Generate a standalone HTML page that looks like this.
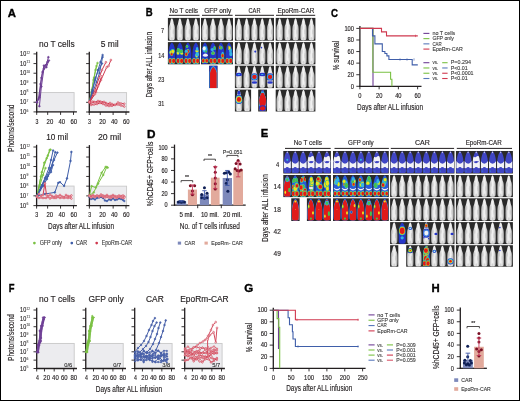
<!DOCTYPE html>
<html><head><meta charset="utf-8"><style>
html,body{margin:0;padding:0;background:#fff;width:520px;height:401px;overflow:hidden;font-family:"Liberation Sans",sans-serif;}
svg{display:block;filter:blur(0.3px);}
</style></head><body>
<svg width="520" height="401" viewBox="0 0 520 401" font-family='"Liberation Sans", sans-serif'><defs><linearGradient id="gm" x1="0" x2="1" y1="0" y2="0"><stop offset="0.08" stop-color="#a8a8a8"/><stop offset="0.25" stop-color="#e2e2e2"/><stop offset="0.5" stop-color="#f2f2f2"/><stop offset="0.75" stop-color="#dedede"/><stop offset="0.92" stop-color="#a4a4a4"/></linearGradient><clipPath id="mc"><path d="M5,0.3 C5.9,0.6 6.6,2.5 7.0,5 C7.2,6.5 7.4,7.5 8.2,9 C8.9,10.5 9.1,13 9.1,16 C9.2,20 9.1,23 8.9,25 C8.6,27.2 7.5,27.7 5,27.7 C2.5,27.7 1.4,27.2 1.1,25 C0.9,23 0.8,20 0.9,16 C0.9,13 1.1,10.5 1.8,9 C2.6,7.5 2.8,6.5 3.0,5 C3.4,2.5 4.1,0.6 5,0.3 Z"/></clipPath><clipPath id="mc2"><path d="M5,0.4 C6.2,0.8 7.2,3 8.0,5.5 C8.8,8 9.3,11 9.4,14 C9.5,18 9.5,22 9.3,25 C9.1,27.2 7.5,27.7 5,27.7 C2.5,27.7 0.9,27.2 0.7,25 C0.5,22 0.5,18 0.6,14 C0.7,11 1.2,8 2.0,5.5 C2.8,3 3.8,0.8 5,0.4 Z"/></clipPath><symbol id="g" viewBox="0 0 10 28" preserveAspectRatio="none"><path d="M5,0.3 C5.9,0.6 6.6,2.5 7.0,5 C7.2,6.5 7.4,7.5 8.2,9 C8.9,10.5 9.1,13 9.1,16 C9.2,20 9.1,23 8.9,25 C8.6,27.2 7.5,27.7 5,27.7 C2.5,27.7 1.4,27.2 1.1,25 C0.9,23 0.8,20 0.9,16 C0.9,13 1.1,10.5 1.8,9 C2.6,7.5 2.8,6.5 3.0,5 C3.4,2.5 4.1,0.6 5,0.3 Z" fill="url(#gm)"/><g clip-path="url(#mc)" fill="#bdbdbd" opacity="0.55"><ellipse cx="3.2" cy="12" rx="0.8" ry="3"/><ellipse cx="6.8" cy="17" rx="0.8" ry="3.5"/><ellipse cx="5" cy="25.5" rx="1" ry="2"/></g></symbol><symbol id="b" viewBox="0 0 10 28" preserveAspectRatio="none"><g clip-path="url(#mc2)"><rect width="10" height="28" fill="#4046c4"/><path d="M0.3,12.0 Q5,19.5 9.7,12.0 L9.7,21 Q5,23.5 0.3,21 Z" fill="#f2f2f6"/><ellipse cx="5" cy="1.5" rx="0.8" ry="1.2" fill="#c8c8e0"/></g><ellipse cx="2.6" cy="24.5" rx="2.4" ry="3.3" fill="#4046c4"/><ellipse cx="7.4" cy="24.5" rx="2.4" ry="3.3" fill="#4046c4"/><ellipse cx="5" cy="21.5" rx="2" ry="1.6" fill="#4046c4"/><circle cx="2.5" cy="25" r="0.8" fill="#33b5e5" opacity="0.6"/></symbol><symbol id="b2" viewBox="0 0 10 28" preserveAspectRatio="none"><g clip-path="url(#mc2)"><rect width="10" height="28" fill="#4046c4"/><path d="M0.3,11.1 Q5,19.5 9.7,11.1 L9.7,21 Q5,23.5 0.3,21 Z" fill="#f2f2f6"/><path d="M0,6 Q3,9 5,7 Q7,5 10,8 L10,14 Q5,11 0,14 Z" fill="#f2f2f6"/><ellipse cx="3" cy="11" rx="1.5" ry="2" fill="#f2f2f6"/><ellipse cx="5" cy="1.5" rx="0.8" ry="1.2" fill="#c8c8e0"/></g><ellipse cx="2.6" cy="24.5" rx="2.4" ry="3.3" fill="#4046c4"/><ellipse cx="7.4" cy="24.5" rx="2.4" ry="3.3" fill="#4046c4"/><ellipse cx="5" cy="21.5" rx="2" ry="1.6" fill="#4046c4"/><circle cx="2.5" cy="25" r="0.8" fill="#33b5e5" opacity="0.6"/></symbol><symbol id="b3" viewBox="0 0 10 28" preserveAspectRatio="none"><g clip-path="url(#mc2)"><rect width="10" height="28" fill="#4046c4"/><path d="M0.3,12.0 Q5,19.5 9.7,12.0 L9.7,21 Q5,23.5 0.3,21 Z" fill="#f2f2f6"/><circle cx="5" cy="11" r="1.3" fill="#33b5e5"/><ellipse cx="5" cy="1.5" rx="0.8" ry="1.2" fill="#c8c8e0"/></g><ellipse cx="2.6" cy="24.5" rx="2.4" ry="3.3" fill="#4046c4"/><ellipse cx="7.4" cy="24.5" rx="2.4" ry="3.3" fill="#4046c4"/><ellipse cx="5" cy="21.5" rx="2" ry="1.6" fill="#4046c4"/><circle cx="2.5" cy="25" r="0.8" fill="#33b5e5" opacity="0.6"/></symbol><symbol id="h0" viewBox="0 0 10 28" preserveAspectRatio="none"><g clip-path="url(#mc2)"><rect width="10" height="28" fill="#2636c8"/><ellipse cx="4.761897767549093" cy="12.956358177287935" rx="3.12" ry="4.00" fill="#33b5e5"/><ellipse cx="4.761897767549093" cy="12.956358177287935" rx="2.81" ry="3.60" fill="#45c04a"/><ellipse cx="4.761897767549093" cy="12.956358177287935" rx="2.50" ry="3.20" fill="#f0e21e"/><ellipse cx="3.423301719274383" cy="12.190538224668888" rx="2.83" ry="4.49" fill="#33b5e5"/><ellipse cx="3.423301719274383" cy="12.190538224668888" rx="2.55" ry="4.04" fill="#45c04a"/><ellipse cx="3.423301719274383" cy="12.190538224668888" rx="2.26" ry="3.59" fill="#f0e21e"/><ellipse cx="4.732965763784992" cy="6.268722068151298" rx="2.74" ry="4.64" fill="#33b5e5"/><ellipse cx="4.732965763784992" cy="6.268722068151298" rx="2.46" ry="4.17" fill="#45c04a"/><ellipse cx="4.732965763784992" cy="6.268722068151298" rx="2.19" ry="3.71" fill="#f0e21e"/><ellipse cx="5.477182529203349" cy="10.338559623331758" rx="2.65" ry="4.41" fill="#33b5e5"/><ellipse cx="5.477182529203349" cy="10.338559623331758" rx="2.39" ry="3.97" fill="#45c04a"/><ellipse cx="5.477182529203349" cy="10.338559623331758" rx="2.12" ry="3.53" fill="#f0e21e"/><ellipse cx="5.615642257593599" cy="17.30722600559965" rx="2.26" ry="3.35" fill="#33b5e5"/><ellipse cx="5.615642257593599" cy="17.30722600559965" rx="2.04" ry="3.02" fill="#45c04a"/><ellipse cx="5.615642257593599" cy="17.30722600559965" rx="1.81" ry="2.68" fill="#f0e21e"/><ellipse cx="2.8" cy="23.8" rx="3.10" ry="4.20" fill="#33b5e5"/><ellipse cx="2.8" cy="23.8" rx="2.79" ry="3.78" fill="#45c04a"/><ellipse cx="2.8" cy="23.8" rx="2.48" ry="3.36" fill="#f0e21e"/><ellipse cx="2.8" cy="23.8" rx="2.17" ry="2.94" fill="#e01a1a"/><ellipse cx="7.2" cy="23.8" rx="3.10" ry="4.20" fill="#33b5e5"/><ellipse cx="7.2" cy="23.8" rx="2.79" ry="3.78" fill="#45c04a"/><ellipse cx="7.2" cy="23.8" rx="2.48" ry="3.36" fill="#f0e21e"/><ellipse cx="7.2" cy="23.8" rx="2.17" ry="2.94" fill="#e01a1a"/></g></symbol><symbol id="h1" viewBox="0 0 10 28" preserveAspectRatio="none"><g clip-path="url(#mc2)"><rect width="10" height="28" fill="#2636c8"/><ellipse cx="5.498090424764253" cy="16.449734504691893" rx="2.53" ry="4.19" fill="#33b5e5"/><ellipse cx="5.498090424764253" cy="16.449734504691893" rx="2.27" ry="3.77" fill="#45c04a"/><ellipse cx="5.498090424764253" cy="16.449734504691893" rx="2.02" ry="3.35" fill="#f0e21e"/><ellipse cx="5.0956205738203835" cy="14.244667326706834" rx="2.70" ry="4.29" fill="#33b5e5"/><ellipse cx="5.0956205738203835" cy="14.244667326706834" rx="2.43" ry="3.86" fill="#45c04a"/><ellipse cx="5.0956205738203835" cy="14.244667326706834" rx="2.16" ry="3.43" fill="#f0e21e"/><ellipse cx="5.0956205738203835" cy="14.244667326706834" rx="1.89" ry="3.01" fill="#e01a1a"/><ellipse cx="5.774008195033778" cy="10.508459806162858" rx="2.75" ry="4.70" fill="#33b5e5"/><ellipse cx="5.774008195033778" cy="10.508459806162858" rx="2.48" ry="4.23" fill="#45c04a"/><ellipse cx="5.774008195033778" cy="10.508459806162858" rx="2.20" ry="3.76" fill="#f0e21e"/><ellipse cx="6.039048107489747" cy="9.044435472248798" rx="2.43" ry="3.73" fill="#33b5e5"/><ellipse cx="6.039048107489747" cy="9.044435472248798" rx="2.19" ry="3.36" fill="#45c04a"/><ellipse cx="6.039048107489747" cy="9.044435472248798" rx="1.94" ry="2.99" fill="#f0e21e"/><ellipse cx="5.315711303289528" cy="5.726830649423576" rx="2.31" ry="3.74" fill="#33b5e5"/><ellipse cx="5.315711303289528" cy="5.726830649423576" rx="2.08" ry="3.36" fill="#45c04a"/><ellipse cx="5.315711303289528" cy="5.726830649423576" rx="1.85" ry="2.99" fill="#f0e21e"/><ellipse cx="2.8" cy="23.8" rx="3.10" ry="4.20" fill="#33b5e5"/><ellipse cx="2.8" cy="23.8" rx="2.79" ry="3.78" fill="#45c04a"/><ellipse cx="2.8" cy="23.8" rx="2.48" ry="3.36" fill="#f0e21e"/><ellipse cx="2.8" cy="23.8" rx="2.17" ry="2.94" fill="#e01a1a"/><ellipse cx="7.2" cy="23.8" rx="3.10" ry="4.20" fill="#33b5e5"/><ellipse cx="7.2" cy="23.8" rx="2.79" ry="3.78" fill="#45c04a"/><ellipse cx="7.2" cy="23.8" rx="2.48" ry="3.36" fill="#f0e21e"/><ellipse cx="7.2" cy="23.8" rx="2.17" ry="2.94" fill="#e01a1a"/></g></symbol><symbol id="h2" viewBox="0 0 10 28" preserveAspectRatio="none"><g clip-path="url(#mc2)"><rect width="10" height="28" fill="#2636c8"/><ellipse cx="7.290211916599068" cy="17.556956372844873" rx="2.20" ry="3.61" fill="#33b5e5"/><ellipse cx="7.290211916599068" cy="17.556956372844873" rx="1.98" ry="3.25" fill="#45c04a"/><ellipse cx="7.290211916599068" cy="17.556956372844873" rx="1.76" ry="2.89" fill="#f0e21e"/><ellipse cx="4.849936380068332" cy="19.685743058788674" rx="2.60" ry="3.41" fill="#33b5e5"/><ellipse cx="4.849936380068332" cy="19.685743058788674" rx="2.34" ry="3.07" fill="#45c04a"/><ellipse cx="4.849936380068332" cy="19.685743058788674" rx="2.08" ry="2.73" fill="#f0e21e"/><ellipse cx="6.392554293383254" cy="8.316409389602283" rx="2.29" ry="3.80" fill="#33b5e5"/><ellipse cx="6.392554293383254" cy="8.316409389602283" rx="2.06" ry="3.42" fill="#45c04a"/><ellipse cx="6.392554293383254" cy="8.316409389602283" rx="1.83" ry="3.04" fill="#f0e21e"/><ellipse cx="6.392554293383254" cy="8.316409389602283" rx="1.60" ry="2.66" fill="#e01a1a"/><ellipse cx="6.290202584968794" cy="5.887866870712813" rx="2.45" ry="3.45" fill="#33b5e5"/><ellipse cx="6.290202584968794" cy="5.887866870712813" rx="2.20" ry="3.11" fill="#45c04a"/><ellipse cx="6.290202584968794" cy="5.887866870712813" rx="1.96" ry="2.76" fill="#f0e21e"/><ellipse cx="4.8246992303811576" cy="11.789172670564428" rx="2.88" ry="3.58" fill="#33b5e5"/><ellipse cx="4.8246992303811576" cy="11.789172670564428" rx="2.59" ry="3.22" fill="#45c04a"/><ellipse cx="4.8246992303811576" cy="11.789172670564428" rx="2.31" ry="2.87" fill="#f0e21e"/><ellipse cx="2.8" cy="23.8" rx="3.10" ry="4.20" fill="#33b5e5"/><ellipse cx="2.8" cy="23.8" rx="2.79" ry="3.78" fill="#45c04a"/><ellipse cx="2.8" cy="23.8" rx="2.48" ry="3.36" fill="#f0e21e"/><ellipse cx="2.8" cy="23.8" rx="2.17" ry="2.94" fill="#e01a1a"/><ellipse cx="7.2" cy="23.8" rx="3.10" ry="4.20" fill="#33b5e5"/><ellipse cx="7.2" cy="23.8" rx="2.79" ry="3.78" fill="#45c04a"/><ellipse cx="7.2" cy="23.8" rx="2.48" ry="3.36" fill="#f0e21e"/><ellipse cx="7.2" cy="23.8" rx="2.17" ry="2.94" fill="#e01a1a"/></g></symbol><symbol id="h3" viewBox="0 0 10 28" preserveAspectRatio="none"><g clip-path="url(#mc2)"><rect width="10" height="28" fill="#2636c8"/><ellipse cx="7.426407029177778" cy="16.31235195767487" rx="2.62" ry="3.88" fill="#33b5e5"/><ellipse cx="7.426407029177778" cy="16.31235195767487" rx="2.36" ry="3.49" fill="#45c04a"/><ellipse cx="7.426407029177778" cy="16.31235195767487" rx="2.10" ry="3.10" fill="#f0e21e"/><ellipse cx="7.426407029177778" cy="16.31235195767487" rx="1.83" ry="2.71" fill="#e01a1a"/><ellipse cx="4.603778086232104" cy="7.405850768145431" rx="2.47" ry="4.76" fill="#33b5e5"/><ellipse cx="4.603778086232104" cy="7.405850768145431" rx="2.22" ry="4.28" fill="#45c04a"/><ellipse cx="4.603778086232104" cy="7.405850768145431" rx="1.98" ry="3.81" fill="#f0e21e"/><ellipse cx="4.603778086232104" cy="7.405850768145431" rx="1.73" ry="3.33" fill="#e01a1a"/><ellipse cx="7.489518593432944" cy="4.314091349924828" rx="2.39" ry="4.79" fill="#33b5e5"/><ellipse cx="7.489518593432944" cy="4.314091349924828" rx="2.15" ry="4.31" fill="#45c04a"/><ellipse cx="7.489518593432944" cy="4.314091349924828" rx="1.91" ry="3.84" fill="#f0e21e"/><ellipse cx="2.7105391021557783" cy="6.341737653403683" rx="2.64" ry="3.31" fill="#33b5e5"/><ellipse cx="2.7105391021557783" cy="6.341737653403683" rx="2.38" ry="2.98" fill="#45c04a"/><ellipse cx="2.7105391021557783" cy="6.341737653403683" rx="2.11" ry="2.65" fill="#f0e21e"/><ellipse cx="2.7105391021557783" cy="6.341737653403683" rx="1.85" ry="2.32" fill="#e01a1a"/><ellipse cx="6.651447389137922" cy="10.178719290900057" rx="2.27" ry="3.61" fill="#33b5e5"/><ellipse cx="6.651447389137922" cy="10.178719290900057" rx="2.05" ry="3.25" fill="#45c04a"/><ellipse cx="6.651447389137922" cy="10.178719290900057" rx="1.82" ry="2.89" fill="#f0e21e"/><ellipse cx="2.8" cy="23.8" rx="3.10" ry="4.20" fill="#33b5e5"/><ellipse cx="2.8" cy="23.8" rx="2.79" ry="3.78" fill="#45c04a"/><ellipse cx="2.8" cy="23.8" rx="2.48" ry="3.36" fill="#f0e21e"/><ellipse cx="2.8" cy="23.8" rx="2.17" ry="2.94" fill="#e01a1a"/><ellipse cx="7.2" cy="23.8" rx="3.10" ry="4.20" fill="#33b5e5"/><ellipse cx="7.2" cy="23.8" rx="2.79" ry="3.78" fill="#45c04a"/><ellipse cx="7.2" cy="23.8" rx="2.48" ry="3.36" fill="#f0e21e"/><ellipse cx="7.2" cy="23.8" rx="2.17" ry="2.94" fill="#e01a1a"/></g></symbol><symbol id="h4" viewBox="0 0 10 28" preserveAspectRatio="none"><g clip-path="url(#mc2)"><rect width="10" height="28" fill="#2636c8"/><ellipse cx="2.5775453672291277" cy="9.898803278410917" rx="2.82" ry="3.49" fill="#33b5e5"/><ellipse cx="2.5775453672291277" cy="9.898803278410917" rx="2.54" ry="3.14" fill="#45c04a"/><ellipse cx="2.5775453672291277" cy="9.898803278410917" rx="2.26" ry="2.79" fill="#f0e21e"/><ellipse cx="2.5775453672291277" cy="9.898803278410917" rx="1.98" ry="2.44" fill="#e01a1a"/><ellipse cx="6.661796144193829" cy="6.1718072732121545" rx="2.59" ry="4.24" fill="#33b5e5"/><ellipse cx="6.661796144193829" cy="6.1718072732121545" rx="2.33" ry="3.82" fill="#45c04a"/><ellipse cx="6.661796144193829" cy="6.1718072732121545" rx="2.07" ry="3.39" fill="#f0e21e"/><ellipse cx="6.661796144193829" cy="6.1718072732121545" rx="1.81" ry="2.97" fill="#e01a1a"/><ellipse cx="7.042118654712414" cy="17.084831191354372" rx="2.45" ry="3.58" fill="#33b5e5"/><ellipse cx="7.042118654712414" cy="17.084831191354372" rx="2.20" ry="3.23" fill="#45c04a"/><ellipse cx="7.042118654712414" cy="17.084831191354372" rx="1.96" ry="2.87" fill="#f0e21e"/><ellipse cx="5.9348700176975075" cy="10.211359010003775" rx="2.68" ry="3.42" fill="#33b5e5"/><ellipse cx="5.9348700176975075" cy="10.211359010003775" rx="2.41" ry="3.08" fill="#45c04a"/><ellipse cx="5.9348700176975075" cy="10.211359010003775" rx="2.15" ry="2.73" fill="#f0e21e"/><ellipse cx="3.0191984068247404" cy="4.619143547100522" rx="3.16" ry="3.66" fill="#33b5e5"/><ellipse cx="3.0191984068247404" cy="4.619143547100522" rx="2.85" ry="3.29" fill="#45c04a"/><ellipse cx="3.0191984068247404" cy="4.619143547100522" rx="2.53" ry="2.93" fill="#f0e21e"/><ellipse cx="3.0191984068247404" cy="4.619143547100522" rx="2.21" ry="2.56" fill="#e01a1a"/><ellipse cx="2.8" cy="23.8" rx="3.10" ry="4.20" fill="#33b5e5"/><ellipse cx="2.8" cy="23.8" rx="2.79" ry="3.78" fill="#45c04a"/><ellipse cx="2.8" cy="23.8" rx="2.48" ry="3.36" fill="#f0e21e"/><ellipse cx="2.8" cy="23.8" rx="2.17" ry="2.94" fill="#e01a1a"/><ellipse cx="7.2" cy="23.8" rx="3.10" ry="4.20" fill="#33b5e5"/><ellipse cx="7.2" cy="23.8" rx="2.79" ry="3.78" fill="#45c04a"/><ellipse cx="7.2" cy="23.8" rx="2.48" ry="3.36" fill="#f0e21e"/><ellipse cx="7.2" cy="23.8" rx="2.17" ry="2.94" fill="#e01a1a"/></g></symbol><symbol id="h5" viewBox="0 0 10 28" preserveAspectRatio="none"><g clip-path="url(#mc2)"><rect width="10" height="28" fill="#2636c8"/><ellipse cx="3.78490699160156" cy="17.179485548117643" rx="2.80" ry="3.74" fill="#33b5e5"/><ellipse cx="3.78490699160156" cy="17.179485548117643" rx="2.52" ry="3.37" fill="#45c04a"/><ellipse cx="3.78490699160156" cy="17.179485548117643" rx="2.24" ry="2.99" fill="#f0e21e"/><ellipse cx="7.146180932236959" cy="19.63485146388723" rx="2.33" ry="4.02" fill="#33b5e5"/><ellipse cx="7.146180932236959" cy="19.63485146388723" rx="2.09" ry="3.62" fill="#45c04a"/><ellipse cx="7.146180932236959" cy="19.63485146388723" rx="1.86" ry="3.22" fill="#f0e21e"/><ellipse cx="3.9010969628542753" cy="18.677762855881202" rx="2.40" ry="3.32" fill="#33b5e5"/><ellipse cx="3.9010969628542753" cy="18.677762855881202" rx="2.16" ry="2.99" fill="#45c04a"/><ellipse cx="3.9010969628542753" cy="18.677762855881202" rx="1.92" ry="2.66" fill="#f0e21e"/><ellipse cx="3.9010969628542753" cy="18.677762855881202" rx="1.68" ry="2.33" fill="#e01a1a"/><ellipse cx="4.557132812056896" cy="7.985024459416339" rx="2.25" ry="3.72" fill="#33b5e5"/><ellipse cx="4.557132812056896" cy="7.985024459416339" rx="2.02" ry="3.35" fill="#45c04a"/><ellipse cx="4.557132812056896" cy="7.985024459416339" rx="1.80" ry="2.98" fill="#f0e21e"/><ellipse cx="2.9609606177413896" cy="6.214532958381202" rx="2.65" ry="3.80" fill="#33b5e5"/><ellipse cx="2.9609606177413896" cy="6.214532958381202" rx="2.39" ry="3.42" fill="#45c04a"/><ellipse cx="2.9609606177413896" cy="6.214532958381202" rx="2.12" ry="3.04" fill="#f0e21e"/><ellipse cx="2.8" cy="23.8" rx="3.10" ry="4.20" fill="#33b5e5"/><ellipse cx="2.8" cy="23.8" rx="2.79" ry="3.78" fill="#45c04a"/><ellipse cx="2.8" cy="23.8" rx="2.48" ry="3.36" fill="#f0e21e"/><ellipse cx="2.8" cy="23.8" rx="2.17" ry="2.94" fill="#e01a1a"/><ellipse cx="7.2" cy="23.8" rx="3.10" ry="4.20" fill="#33b5e5"/><ellipse cx="7.2" cy="23.8" rx="2.79" ry="3.78" fill="#45c04a"/><ellipse cx="7.2" cy="23.8" rx="2.48" ry="3.36" fill="#f0e21e"/><ellipse cx="7.2" cy="23.8" rx="2.17" ry="2.94" fill="#e01a1a"/></g></symbol><symbol id="h6" viewBox="0 0 10 28" preserveAspectRatio="none"><g clip-path="url(#mc2)"><rect width="10" height="28" fill="#2636c8"/><ellipse cx="5.449378156478723" cy="18.777397873150612" rx="2.67" ry="3.84" fill="#33b5e5"/><ellipse cx="5.449378156478723" cy="18.777397873150612" rx="2.41" ry="3.45" fill="#45c04a"/><ellipse cx="5.449378156478723" cy="18.777397873150612" rx="2.14" ry="3.07" fill="#f0e21e"/><ellipse cx="5.449378156478723" cy="18.777397873150612" rx="1.87" ry="2.69" fill="#e01a1a"/><ellipse cx="7.313855068145016" cy="4.340146851345622" rx="2.84" ry="4.02" fill="#33b5e5"/><ellipse cx="7.313855068145016" cy="4.340146851345622" rx="2.55" ry="3.62" fill="#45c04a"/><ellipse cx="7.313855068145016" cy="4.340146851345622" rx="2.27" ry="3.22" fill="#f0e21e"/><ellipse cx="7.313855068145016" cy="4.340146851345622" rx="1.99" ry="2.82" fill="#e01a1a"/><ellipse cx="4.094522451482929" cy="19.989722022108083" rx="2.28" ry="4.12" fill="#33b5e5"/><ellipse cx="4.094522451482929" cy="19.989722022108083" rx="2.05" ry="3.71" fill="#45c04a"/><ellipse cx="4.094522451482929" cy="19.989722022108083" rx="1.82" ry="3.30" fill="#f0e21e"/><ellipse cx="7.000979406246895" cy="15.79341015066496" rx="2.90" ry="4.49" fill="#33b5e5"/><ellipse cx="7.000979406246895" cy="15.79341015066496" rx="2.61" ry="4.04" fill="#45c04a"/><ellipse cx="7.000979406246895" cy="15.79341015066496" rx="2.32" ry="3.59" fill="#f0e21e"/><ellipse cx="7.000979406246895" cy="15.79341015066496" rx="2.03" ry="3.14" fill="#e01a1a"/><ellipse cx="4.259170483236269" cy="14.962335285339169" rx="3.10" ry="4.61" fill="#33b5e5"/><ellipse cx="4.259170483236269" cy="14.962335285339169" rx="2.79" ry="4.15" fill="#45c04a"/><ellipse cx="4.259170483236269" cy="14.962335285339169" rx="2.48" ry="3.69" fill="#f0e21e"/><ellipse cx="4.259170483236269" cy="14.962335285339169" rx="2.17" ry="3.22" fill="#e01a1a"/><ellipse cx="2.8" cy="23.8" rx="3.10" ry="4.20" fill="#33b5e5"/><ellipse cx="2.8" cy="23.8" rx="2.79" ry="3.78" fill="#45c04a"/><ellipse cx="2.8" cy="23.8" rx="2.48" ry="3.36" fill="#f0e21e"/><ellipse cx="2.8" cy="23.8" rx="2.17" ry="2.94" fill="#e01a1a"/><ellipse cx="7.2" cy="23.8" rx="3.10" ry="4.20" fill="#33b5e5"/><ellipse cx="7.2" cy="23.8" rx="2.79" ry="3.78" fill="#45c04a"/><ellipse cx="7.2" cy="23.8" rx="2.48" ry="3.36" fill="#f0e21e"/><ellipse cx="7.2" cy="23.8" rx="2.17" ry="2.94" fill="#e01a1a"/></g></symbol><symbol id="h7" viewBox="0 0 10 28" preserveAspectRatio="none"><g clip-path="url(#mc2)"><rect width="10" height="28" fill="#2636c8"/><ellipse cx="7.221196733062416" cy="4.484314544614872" rx="2.70" ry="3.32" fill="#33b5e5"/><ellipse cx="7.221196733062416" cy="4.484314544614872" rx="2.43" ry="2.99" fill="#45c04a"/><ellipse cx="7.221196733062416" cy="4.484314544614872" rx="2.16" ry="2.66" fill="#f0e21e"/><ellipse cx="7.221196733062416" cy="4.484314544614872" rx="1.89" ry="2.33" fill="#e01a1a"/><ellipse cx="4.395882099221605" cy="4.199154807194102" rx="2.27" ry="3.44" fill="#33b5e5"/><ellipse cx="4.395882099221605" cy="4.199154807194102" rx="2.05" ry="3.09" fill="#45c04a"/><ellipse cx="4.395882099221605" cy="4.199154807194102" rx="1.82" ry="2.75" fill="#f0e21e"/><ellipse cx="7.466610940441611" cy="18.07666926577643" rx="2.93" ry="3.88" fill="#33b5e5"/><ellipse cx="7.466610940441611" cy="18.07666926577643" rx="2.64" ry="3.49" fill="#45c04a"/><ellipse cx="7.466610940441611" cy="18.07666926577643" rx="2.34" ry="3.11" fill="#f0e21e"/><ellipse cx="7.466610940441611" cy="18.07666926577643" rx="2.05" ry="2.72" fill="#e01a1a"/><ellipse cx="4.702612476893597" cy="17.413920467049103" rx="2.28" ry="4.43" fill="#33b5e5"/><ellipse cx="4.702612476893597" cy="17.413920467049103" rx="2.06" ry="3.98" fill="#45c04a"/><ellipse cx="4.702612476893597" cy="17.413920467049103" rx="1.83" ry="3.54" fill="#f0e21e"/><ellipse cx="4.051174953627783" cy="5.403715906257249" rx="2.22" ry="4.74" fill="#33b5e5"/><ellipse cx="4.051174953627783" cy="5.403715906257249" rx="2.00" ry="4.26" fill="#45c04a"/><ellipse cx="4.051174953627783" cy="5.403715906257249" rx="1.78" ry="3.79" fill="#f0e21e"/><ellipse cx="2.8" cy="23.8" rx="3.10" ry="4.20" fill="#33b5e5"/><ellipse cx="2.8" cy="23.8" rx="2.79" ry="3.78" fill="#45c04a"/><ellipse cx="2.8" cy="23.8" rx="2.48" ry="3.36" fill="#f0e21e"/><ellipse cx="2.8" cy="23.8" rx="2.17" ry="2.94" fill="#e01a1a"/><ellipse cx="7.2" cy="23.8" rx="3.10" ry="4.20" fill="#33b5e5"/><ellipse cx="7.2" cy="23.8" rx="2.79" ry="3.78" fill="#45c04a"/><ellipse cx="7.2" cy="23.8" rx="2.48" ry="3.36" fill="#f0e21e"/><ellipse cx="7.2" cy="23.8" rx="2.17" ry="2.94" fill="#e01a1a"/></g></symbol><symbol id="hh0" viewBox="0 0 10 28" preserveAspectRatio="none"><g clip-path="url(#mc2)"><rect width="10" height="28" fill="#2636c8"/><ellipse cx="4.986252888290068" cy="13.832052190319487" rx="3.72" ry="4.58" fill="#33b5e5"/><ellipse cx="4.986252888290068" cy="13.832052190319487" rx="3.35" ry="4.13" fill="#45c04a"/><ellipse cx="4.986252888290068" cy="13.832052190319487" rx="2.98" ry="3.67" fill="#f0e21e"/><ellipse cx="4.986252888290068" cy="13.832052190319487" rx="2.60" ry="3.21" fill="#e01a1a"/><ellipse cx="4.339756753334129" cy="6.291526040808794" rx="3.41" ry="4.98" fill="#33b5e5"/><ellipse cx="4.339756753334129" cy="6.291526040808794" rx="3.07" ry="4.48" fill="#45c04a"/><ellipse cx="4.339756753334129" cy="6.291526040808794" rx="2.73" ry="3.98" fill="#f0e21e"/><ellipse cx="4.339756753334129" cy="6.291526040808794" rx="2.39" ry="3.48" fill="#e01a1a"/><ellipse cx="5.79995002337923" cy="11.070919692314986" rx="3.69" ry="4.69" fill="#33b5e5"/><ellipse cx="5.79995002337923" cy="11.070919692314986" rx="3.32" ry="4.22" fill="#45c04a"/><ellipse cx="5.79995002337923" cy="11.070919692314986" rx="2.95" ry="3.75" fill="#f0e21e"/><ellipse cx="5.79995002337923" cy="11.070919692314986" rx="2.58" ry="3.28" fill="#e01a1a"/><ellipse cx="3.49252889432658" cy="10.894324517692771" rx="3.61" ry="5.57" fill="#33b5e5"/><ellipse cx="3.49252889432658" cy="10.894324517692771" rx="3.25" ry="5.01" fill="#45c04a"/><ellipse cx="3.49252889432658" cy="10.894324517692771" rx="2.88" ry="4.46" fill="#f0e21e"/><ellipse cx="3.49252889432658" cy="10.894324517692771" rx="2.52" ry="3.90" fill="#e01a1a"/><ellipse cx="4.422093414499515" cy="13.329715004063058" rx="3.12" ry="4.40" fill="#33b5e5"/><ellipse cx="4.422093414499515" cy="13.329715004063058" rx="2.80" ry="3.96" fill="#45c04a"/><ellipse cx="4.422093414499515" cy="13.329715004063058" rx="2.49" ry="3.52" fill="#f0e21e"/><ellipse cx="4.422093414499515" cy="13.329715004063058" rx="2.18" ry="3.08" fill="#e01a1a"/><ellipse cx="4.253725701462313" cy="18.330446582880057" rx="2.84" ry="4.30" fill="#33b5e5"/><ellipse cx="4.253725701462313" cy="18.330446582880057" rx="2.56" ry="3.87" fill="#45c04a"/><ellipse cx="4.253725701462313" cy="18.330446582880057" rx="2.27" ry="3.44" fill="#f0e21e"/><ellipse cx="4.253725701462313" cy="18.330446582880057" rx="1.99" ry="3.01" fill="#e01a1a"/><ellipse cx="2.8" cy="23.8" rx="3.10" ry="4.20" fill="#33b5e5"/><ellipse cx="2.8" cy="23.8" rx="2.79" ry="3.78" fill="#45c04a"/><ellipse cx="2.8" cy="23.8" rx="2.48" ry="3.36" fill="#f0e21e"/><ellipse cx="2.8" cy="23.8" rx="2.17" ry="2.94" fill="#e01a1a"/><ellipse cx="7.2" cy="23.8" rx="3.10" ry="4.20" fill="#33b5e5"/><ellipse cx="7.2" cy="23.8" rx="2.79" ry="3.78" fill="#45c04a"/><ellipse cx="7.2" cy="23.8" rx="2.48" ry="3.36" fill="#f0e21e"/><ellipse cx="7.2" cy="23.8" rx="2.17" ry="2.94" fill="#e01a1a"/></g></symbol><symbol id="hh1" viewBox="0 0 10 28" preserveAspectRatio="none"><g clip-path="url(#mc2)"><rect width="10" height="28" fill="#2636c8"/><ellipse cx="6.6092881250802025" cy="5.805270010310345" rx="3.27" ry="5.59" fill="#33b5e5"/><ellipse cx="6.6092881250802025" cy="5.805270010310345" rx="2.94" ry="5.03" fill="#45c04a"/><ellipse cx="6.6092881250802025" cy="5.805270010310345" rx="2.62" ry="4.47" fill="#f0e21e"/><ellipse cx="6.6092881250802025" cy="5.805270010310345" rx="2.29" ry="3.91" fill="#e01a1a"/><ellipse cx="4.412740529542177" cy="12.319605051741046" rx="3.47" ry="5.27" fill="#33b5e5"/><ellipse cx="4.412740529542177" cy="12.319605051741046" rx="3.12" ry="4.75" fill="#45c04a"/><ellipse cx="4.412740529542177" cy="12.319605051741046" rx="2.78" ry="4.22" fill="#f0e21e"/><ellipse cx="4.412740529542177" cy="12.319605051741046" rx="2.43" ry="3.69" fill="#e01a1a"/><ellipse cx="4.101731072168023" cy="17.259637717185708" rx="3.08" ry="5.11" fill="#33b5e5"/><ellipse cx="4.101731072168023" cy="17.259637717185708" rx="2.77" ry="4.60" fill="#45c04a"/><ellipse cx="4.101731072168023" cy="17.259637717185708" rx="2.46" ry="4.09" fill="#f0e21e"/><ellipse cx="4.101731072168023" cy="17.259637717185708" rx="2.15" ry="3.58" fill="#e01a1a"/><ellipse cx="5.352909801684868" cy="8.944485622559352" rx="3.59" ry="4.23" fill="#33b5e5"/><ellipse cx="5.352909801684868" cy="8.944485622559352" rx="3.23" ry="3.81" fill="#45c04a"/><ellipse cx="5.352909801684868" cy="8.944485622559352" rx="2.87" ry="3.38" fill="#f0e21e"/><ellipse cx="5.352909801684868" cy="8.944485622559352" rx="2.51" ry="2.96" fill="#e01a1a"/><ellipse cx="4.525945278064624" cy="7.03869581517297" rx="3.57" ry="4.60" fill="#33b5e5"/><ellipse cx="4.525945278064624" cy="7.03869581517297" rx="3.21" ry="4.14" fill="#45c04a"/><ellipse cx="4.525945278064624" cy="7.03869581517297" rx="2.86" ry="3.68" fill="#f0e21e"/><ellipse cx="4.525945278064624" cy="7.03869581517297" rx="2.50" ry="3.22" fill="#e01a1a"/><ellipse cx="6.484236569961256" cy="19.744201854369678" rx="2.92" ry="4.36" fill="#33b5e5"/><ellipse cx="6.484236569961256" cy="19.744201854369678" rx="2.62" ry="3.93" fill="#45c04a"/><ellipse cx="6.484236569961256" cy="19.744201854369678" rx="2.33" ry="3.49" fill="#f0e21e"/><ellipse cx="6.484236569961256" cy="19.744201854369678" rx="2.04" ry="3.05" fill="#e01a1a"/><ellipse cx="2.8" cy="23.8" rx="3.10" ry="4.20" fill="#33b5e5"/><ellipse cx="2.8" cy="23.8" rx="2.79" ry="3.78" fill="#45c04a"/><ellipse cx="2.8" cy="23.8" rx="2.48" ry="3.36" fill="#f0e21e"/><ellipse cx="2.8" cy="23.8" rx="2.17" ry="2.94" fill="#e01a1a"/><ellipse cx="7.2" cy="23.8" rx="3.10" ry="4.20" fill="#33b5e5"/><ellipse cx="7.2" cy="23.8" rx="2.79" ry="3.78" fill="#45c04a"/><ellipse cx="7.2" cy="23.8" rx="2.48" ry="3.36" fill="#f0e21e"/><ellipse cx="7.2" cy="23.8" rx="2.17" ry="2.94" fill="#e01a1a"/></g></symbol><symbol id="hh2" viewBox="0 0 10 28" preserveAspectRatio="none"><g clip-path="url(#mc2)"><rect width="10" height="28" fill="#2636c8"/><ellipse cx="7.292303259595051" cy="14.951883935695925" rx="3.00" ry="4.91" fill="#33b5e5"/><ellipse cx="7.292303259595051" cy="14.951883935695925" rx="2.70" ry="4.42" fill="#45c04a"/><ellipse cx="7.292303259595051" cy="14.951883935695925" rx="2.40" ry="3.93" fill="#f0e21e"/><ellipse cx="7.292303259595051" cy="14.951883935695925" rx="2.10" ry="3.44" fill="#e01a1a"/><ellipse cx="6.07111457775409" cy="16.08081537153715" rx="3.33" ry="4.25" fill="#33b5e5"/><ellipse cx="6.07111457775409" cy="16.08081537153715" rx="3.00" ry="3.83" fill="#45c04a"/><ellipse cx="6.07111457775409" cy="16.08081537153715" rx="2.67" ry="3.40" fill="#f0e21e"/><ellipse cx="6.07111457775409" cy="16.08081537153715" rx="2.33" ry="2.98" fill="#e01a1a"/><ellipse cx="3.861774682200844" cy="9.531832520924702" rx="3.50" ry="4.98" fill="#33b5e5"/><ellipse cx="3.861774682200844" cy="9.531832520924702" rx="3.15" ry="4.48" fill="#45c04a"/><ellipse cx="3.861774682200844" cy="9.531832520924702" rx="2.80" ry="3.98" fill="#f0e21e"/><ellipse cx="3.861774682200844" cy="9.531832520924702" rx="2.45" ry="3.49" fill="#e01a1a"/><ellipse cx="4.467581057874926" cy="16.670915806268553" rx="3.71" ry="4.33" fill="#33b5e5"/><ellipse cx="4.467581057874926" cy="16.670915806268553" rx="3.34" ry="3.90" fill="#45c04a"/><ellipse cx="4.467581057874926" cy="16.670915806268553" rx="2.96" ry="3.46" fill="#f0e21e"/><ellipse cx="4.467581057874926" cy="16.670915806268553" rx="2.59" ry="3.03" fill="#e01a1a"/><ellipse cx="3.1495496053436" cy="11.256578468904104" rx="3.43" ry="5.56" fill="#33b5e5"/><ellipse cx="3.1495496053436" cy="11.256578468904104" rx="3.08" ry="5.01" fill="#45c04a"/><ellipse cx="3.1495496053436" cy="11.256578468904104" rx="2.74" ry="4.45" fill="#f0e21e"/><ellipse cx="3.1495496053436" cy="11.256578468904104" rx="2.40" ry="3.90" fill="#e01a1a"/><ellipse cx="5.250065347880648" cy="14.442780480303862" rx="3.30" ry="5.43" fill="#33b5e5"/><ellipse cx="5.250065347880648" cy="14.442780480303862" rx="2.97" ry="4.89" fill="#45c04a"/><ellipse cx="5.250065347880648" cy="14.442780480303862" rx="2.64" ry="4.34" fill="#f0e21e"/><ellipse cx="5.250065347880648" cy="14.442780480303862" rx="2.31" ry="3.80" fill="#e01a1a"/><ellipse cx="2.8" cy="23.8" rx="3.10" ry="4.20" fill="#33b5e5"/><ellipse cx="2.8" cy="23.8" rx="2.79" ry="3.78" fill="#45c04a"/><ellipse cx="2.8" cy="23.8" rx="2.48" ry="3.36" fill="#f0e21e"/><ellipse cx="2.8" cy="23.8" rx="2.17" ry="2.94" fill="#e01a1a"/><ellipse cx="7.2" cy="23.8" rx="3.10" ry="4.20" fill="#33b5e5"/><ellipse cx="7.2" cy="23.8" rx="2.79" ry="3.78" fill="#45c04a"/><ellipse cx="7.2" cy="23.8" rx="2.48" ry="3.36" fill="#f0e21e"/><ellipse cx="7.2" cy="23.8" rx="2.17" ry="2.94" fill="#e01a1a"/></g></symbol><symbol id="hh3" viewBox="0 0 10 28" preserveAspectRatio="none"><g clip-path="url(#mc2)"><rect width="10" height="28" fill="#2636c8"/><ellipse cx="4.818538663032177" cy="14.42116105345891" rx="3.00" ry="5.28" fill="#33b5e5"/><ellipse cx="4.818538663032177" cy="14.42116105345891" rx="2.70" ry="4.75" fill="#45c04a"/><ellipse cx="4.818538663032177" cy="14.42116105345891" rx="2.40" ry="4.23" fill="#f0e21e"/><ellipse cx="4.818538663032177" cy="14.42116105345891" rx="2.10" ry="3.70" fill="#e01a1a"/><ellipse cx="3.566482895698096" cy="18.399739788797206" rx="3.78" ry="5.67" fill="#33b5e5"/><ellipse cx="3.566482895698096" cy="18.399739788797206" rx="3.40" ry="5.10" fill="#45c04a"/><ellipse cx="3.566482895698096" cy="18.399739788797206" rx="3.02" ry="4.53" fill="#f0e21e"/><ellipse cx="3.566482895698096" cy="18.399739788797206" rx="2.65" ry="3.97" fill="#e01a1a"/><ellipse cx="3.809415769204114" cy="15.492291552517827" rx="2.82" ry="4.96" fill="#33b5e5"/><ellipse cx="3.809415769204114" cy="15.492291552517827" rx="2.53" ry="4.46" fill="#45c04a"/><ellipse cx="3.809415769204114" cy="15.492291552517827" rx="2.25" ry="3.97" fill="#f0e21e"/><ellipse cx="3.809415769204114" cy="15.492291552517827" rx="1.97" ry="3.47" fill="#e01a1a"/><ellipse cx="4.704505962954986" cy="12.804830839802866" rx="3.57" ry="4.93" fill="#33b5e5"/><ellipse cx="4.704505962954986" cy="12.804830839802866" rx="3.21" ry="4.44" fill="#45c04a"/><ellipse cx="4.704505962954986" cy="12.804830839802866" rx="2.85" ry="3.94" fill="#f0e21e"/><ellipse cx="4.704505962954986" cy="12.804830839802866" rx="2.50" ry="3.45" fill="#e01a1a"/><ellipse cx="3.5914726111717576" cy="17.880783088690862" rx="3.23" ry="4.25" fill="#33b5e5"/><ellipse cx="3.5914726111717576" cy="17.880783088690862" rx="2.91" ry="3.83" fill="#45c04a"/><ellipse cx="3.5914726111717576" cy="17.880783088690862" rx="2.58" ry="3.40" fill="#f0e21e"/><ellipse cx="3.5914726111717576" cy="17.880783088690862" rx="2.26" ry="2.98" fill="#e01a1a"/><ellipse cx="5.9329172517324205" cy="18.656115548670314" rx="3.27" ry="5.70" fill="#33b5e5"/><ellipse cx="5.9329172517324205" cy="18.656115548670314" rx="2.94" ry="5.13" fill="#45c04a"/><ellipse cx="5.9329172517324205" cy="18.656115548670314" rx="2.62" ry="4.56" fill="#f0e21e"/><ellipse cx="5.9329172517324205" cy="18.656115548670314" rx="2.29" ry="3.99" fill="#e01a1a"/><ellipse cx="2.8" cy="23.8" rx="3.10" ry="4.20" fill="#33b5e5"/><ellipse cx="2.8" cy="23.8" rx="2.79" ry="3.78" fill="#45c04a"/><ellipse cx="2.8" cy="23.8" rx="2.48" ry="3.36" fill="#f0e21e"/><ellipse cx="2.8" cy="23.8" rx="2.17" ry="2.94" fill="#e01a1a"/><ellipse cx="7.2" cy="23.8" rx="3.10" ry="4.20" fill="#33b5e5"/><ellipse cx="7.2" cy="23.8" rx="2.79" ry="3.78" fill="#45c04a"/><ellipse cx="7.2" cy="23.8" rx="2.48" ry="3.36" fill="#f0e21e"/><ellipse cx="7.2" cy="23.8" rx="2.17" ry="2.94" fill="#e01a1a"/></g></symbol><symbol id="hh4" viewBox="0 0 10 28" preserveAspectRatio="none"><g clip-path="url(#mc2)"><rect width="10" height="28" fill="#2636c8"/><ellipse cx="7.228736984727485" cy="11.88130075680627" rx="3.75" ry="4.33" fill="#33b5e5"/><ellipse cx="7.228736984727485" cy="11.88130075680627" rx="3.37" ry="3.90" fill="#45c04a"/><ellipse cx="7.228736984727485" cy="11.88130075680627" rx="3.00" ry="3.46" fill="#f0e21e"/><ellipse cx="7.228736984727485" cy="11.88130075680627" rx="2.62" ry="3.03" fill="#e01a1a"/><ellipse cx="4.69711048627881" cy="12.940399562140664" rx="3.63" ry="5.04" fill="#33b5e5"/><ellipse cx="4.69711048627881" cy="12.940399562140664" rx="3.27" ry="4.54" fill="#45c04a"/><ellipse cx="4.69711048627881" cy="12.940399562140664" rx="2.90" ry="4.03" fill="#f0e21e"/><ellipse cx="4.69711048627881" cy="12.940399562140664" rx="2.54" ry="3.53" fill="#e01a1a"/><ellipse cx="5.113913622283004" cy="17.497974384690764" rx="3.36" ry="4.67" fill="#33b5e5"/><ellipse cx="5.113913622283004" cy="17.497974384690764" rx="3.02" ry="4.20" fill="#45c04a"/><ellipse cx="5.113913622283004" cy="17.497974384690764" rx="2.69" ry="3.73" fill="#f0e21e"/><ellipse cx="5.113913622283004" cy="17.497974384690764" rx="2.35" ry="3.27" fill="#e01a1a"/><ellipse cx="7.273922854857913" cy="17.921117889943723" rx="3.41" ry="4.66" fill="#33b5e5"/><ellipse cx="7.273922854857913" cy="17.921117889943723" rx="3.07" ry="4.19" fill="#45c04a"/><ellipse cx="7.273922854857913" cy="17.921117889943723" rx="2.73" ry="3.73" fill="#f0e21e"/><ellipse cx="7.273922854857913" cy="17.921117889943723" rx="2.39" ry="3.26" fill="#e01a1a"/><ellipse cx="7.342201826896966" cy="12.387615117187787" rx="3.37" ry="4.50" fill="#33b5e5"/><ellipse cx="7.342201826896966" cy="12.387615117187787" rx="3.04" ry="4.05" fill="#45c04a"/><ellipse cx="7.342201826896966" cy="12.387615117187787" rx="2.70" ry="3.60" fill="#f0e21e"/><ellipse cx="7.342201826896966" cy="12.387615117187787" rx="2.36" ry="3.15" fill="#e01a1a"/><ellipse cx="5.015870519166283" cy="13.683643982056404" rx="2.83" ry="5.65" fill="#33b5e5"/><ellipse cx="5.015870519166283" cy="13.683643982056404" rx="2.54" ry="5.09" fill="#45c04a"/><ellipse cx="5.015870519166283" cy="13.683643982056404" rx="2.26" ry="4.52" fill="#f0e21e"/><ellipse cx="5.015870519166283" cy="13.683643982056404" rx="1.98" ry="3.96" fill="#e01a1a"/><ellipse cx="2.8" cy="23.8" rx="3.10" ry="4.20" fill="#33b5e5"/><ellipse cx="2.8" cy="23.8" rx="2.79" ry="3.78" fill="#45c04a"/><ellipse cx="2.8" cy="23.8" rx="2.48" ry="3.36" fill="#f0e21e"/><ellipse cx="2.8" cy="23.8" rx="2.17" ry="2.94" fill="#e01a1a"/><ellipse cx="7.2" cy="23.8" rx="3.10" ry="4.20" fill="#33b5e5"/><ellipse cx="7.2" cy="23.8" rx="2.79" ry="3.78" fill="#45c04a"/><ellipse cx="7.2" cy="23.8" rx="2.48" ry="3.36" fill="#f0e21e"/><ellipse cx="7.2" cy="23.8" rx="2.17" ry="2.94" fill="#e01a1a"/></g></symbol><symbol id="hh5" viewBox="0 0 10 28" preserveAspectRatio="none"><g clip-path="url(#mc2)"><rect width="10" height="28" fill="#2636c8"/><ellipse cx="5.219983749131432" cy="19.830425925596558" rx="2.92" ry="4.34" fill="#33b5e5"/><ellipse cx="5.219983749131432" cy="19.830425925596558" rx="2.63" ry="3.91" fill="#45c04a"/><ellipse cx="5.219983749131432" cy="19.830425925596558" rx="2.34" ry="3.47" fill="#f0e21e"/><ellipse cx="5.219983749131432" cy="19.830425925596558" rx="2.05" ry="3.04" fill="#e01a1a"/><ellipse cx="2.829501142011055" cy="12.619447047583442" rx="3.21" ry="5.64" fill="#33b5e5"/><ellipse cx="2.829501142011055" cy="12.619447047583442" rx="2.89" ry="5.07" fill="#45c04a"/><ellipse cx="2.829501142011055" cy="12.619447047583442" rx="2.57" ry="4.51" fill="#f0e21e"/><ellipse cx="2.829501142011055" cy="12.619447047583442" rx="2.25" ry="3.94" fill="#e01a1a"/><ellipse cx="3.8460689502312784" cy="11.570583998326846" rx="2.93" ry="4.85" fill="#33b5e5"/><ellipse cx="3.8460689502312784" cy="11.570583998326846" rx="2.63" ry="4.37" fill="#45c04a"/><ellipse cx="3.8460689502312784" cy="11.570583998326846" rx="2.34" ry="3.88" fill="#f0e21e"/><ellipse cx="3.8460689502312784" cy="11.570583998326846" rx="2.05" ry="3.40" fill="#e01a1a"/><ellipse cx="5.124908921018788" cy="5.7378182639422075" rx="3.22" ry="4.24" fill="#33b5e5"/><ellipse cx="5.124908921018788" cy="5.7378182639422075" rx="2.90" ry="3.82" fill="#45c04a"/><ellipse cx="5.124908921018788" cy="5.7378182639422075" rx="2.58" ry="3.40" fill="#f0e21e"/><ellipse cx="5.124908921018788" cy="5.7378182639422075" rx="2.25" ry="2.97" fill="#e01a1a"/><ellipse cx="3.1473072507272173" cy="16.468621489677467" rx="2.82" ry="4.49" fill="#33b5e5"/><ellipse cx="3.1473072507272173" cy="16.468621489677467" rx="2.54" ry="4.04" fill="#45c04a"/><ellipse cx="3.1473072507272173" cy="16.468621489677467" rx="2.26" ry="3.59" fill="#f0e21e"/><ellipse cx="3.1473072507272173" cy="16.468621489677467" rx="1.98" ry="3.14" fill="#e01a1a"/><ellipse cx="2.5591636705038705" cy="8.545296349773674" rx="3.52" ry="4.57" fill="#33b5e5"/><ellipse cx="2.5591636705038705" cy="8.545296349773674" rx="3.17" ry="4.11" fill="#45c04a"/><ellipse cx="2.5591636705038705" cy="8.545296349773674" rx="2.82" ry="3.65" fill="#f0e21e"/><ellipse cx="2.5591636705038705" cy="8.545296349773674" rx="2.47" ry="3.20" fill="#e01a1a"/><ellipse cx="2.8" cy="23.8" rx="3.10" ry="4.20" fill="#33b5e5"/><ellipse cx="2.8" cy="23.8" rx="2.79" ry="3.78" fill="#45c04a"/><ellipse cx="2.8" cy="23.8" rx="2.48" ry="3.36" fill="#f0e21e"/><ellipse cx="2.8" cy="23.8" rx="2.17" ry="2.94" fill="#e01a1a"/><ellipse cx="7.2" cy="23.8" rx="3.10" ry="4.20" fill="#33b5e5"/><ellipse cx="7.2" cy="23.8" rx="2.79" ry="3.78" fill="#45c04a"/><ellipse cx="7.2" cy="23.8" rx="2.48" ry="3.36" fill="#f0e21e"/><ellipse cx="7.2" cy="23.8" rx="2.17" ry="2.94" fill="#e01a1a"/></g></symbol><symbol id="m42b" viewBox="0 0 10 28" preserveAspectRatio="none"><g clip-path="url(#mc2)"><rect width="10" height="28" fill="#2636c8"/><ellipse cx="5" cy="11" rx="4.30" ry="5.80" fill="#33b5e5"/><ellipse cx="5" cy="11" rx="3.87" ry="5.22" fill="#45c04a"/><ellipse cx="5" cy="11" rx="3.44" ry="4.64" fill="#f0e21e"/><ellipse cx="5" cy="11" rx="3.01" ry="4.06" fill="#e01a1a"/><ellipse cx="5" cy="20" rx="2.00" ry="2.00" fill="#33b5e5"/></g></symbol><symbol id="e0" viewBox="0 0 10 28" preserveAspectRatio="none"><g clip-path="url(#mc2)"><rect width="10" height="28" fill="#2a5ad8"/><ellipse cx="2.7873588412865096" cy="15.42519375605899" rx="2.35" ry="3.51" fill="#33b5e5"/><ellipse cx="2.7873588412865096" cy="15.42519375605899" rx="2.11" ry="3.16" fill="#45c04a"/><ellipse cx="2.7873588412865096" cy="15.42519375605899" rx="1.88" ry="2.81" fill="#f0e21e"/><ellipse cx="2.7873588412865096" cy="15.42519375605899" rx="1.64" ry="2.46" fill="#e01a1a"/><ellipse cx="6.219098880196225" cy="14.92324853700386" rx="3.25" ry="2.83" fill="#33b5e5"/><ellipse cx="6.219098880196225" cy="14.92324853700386" rx="2.93" ry="2.55" fill="#45c04a"/><ellipse cx="6.219098880196225" cy="14.92324853700386" rx="2.60" ry="2.27" fill="#f0e21e"/><ellipse cx="6.219098880196225" cy="14.92324853700386" rx="2.28" ry="1.98" fill="#e01a1a"/><ellipse cx="6.821006612214052" cy="13.468504531051103" rx="2.85" ry="4.01" fill="#33b5e5"/><ellipse cx="6.821006612214052" cy="13.468504531051103" rx="2.56" ry="3.61" fill="#45c04a"/><ellipse cx="6.821006612214052" cy="13.468504531051103" rx="2.28" ry="3.21" fill="#f0e21e"/><ellipse cx="5.16586649723768" cy="17.471388893052946" rx="2.93" ry="4.00" fill="#33b5e5"/><ellipse cx="5.16586649723768" cy="17.471388893052946" rx="2.64" ry="3.60" fill="#45c04a"/><ellipse cx="5.16586649723768" cy="17.471388893052946" rx="2.35" ry="3.20" fill="#f0e21e"/><ellipse cx="7.323011643799549" cy="13.674027985175252" rx="2.62" ry="3.05" fill="#33b5e5"/><ellipse cx="7.323011643799549" cy="13.674027985175252" rx="2.36" ry="2.75" fill="#45c04a"/><ellipse cx="7.323011643799549" cy="13.674027985175252" rx="2.09" ry="2.44" fill="#f0e21e"/><ellipse cx="7.323011643799549" cy="13.674027985175252" rx="1.83" ry="2.14" fill="#e01a1a"/><ellipse cx="7.187598672267012" cy="6.309648019883432" rx="3.13" ry="3.07" fill="#33b5e5"/><ellipse cx="7.187598672267012" cy="6.309648019883432" rx="2.82" ry="2.77" fill="#45c04a"/><ellipse cx="2.9500204576420557" cy="7.068907054165051" rx="3.07" ry="3.16" fill="#33b5e5"/><ellipse cx="2.9500204576420557" cy="7.068907054165051" rx="2.76" ry="2.85" fill="#45c04a"/><ellipse cx="2.8" cy="23.8" rx="3.10" ry="4.20" fill="#33b5e5"/><ellipse cx="2.8" cy="23.8" rx="2.79" ry="3.78" fill="#45c04a"/><ellipse cx="2.8" cy="23.8" rx="2.48" ry="3.36" fill="#f0e21e"/><ellipse cx="2.8" cy="23.8" rx="2.17" ry="2.94" fill="#e01a1a"/><ellipse cx="7.2" cy="23.8" rx="3.10" ry="4.20" fill="#33b5e5"/><ellipse cx="7.2" cy="23.8" rx="2.79" ry="3.78" fill="#45c04a"/><ellipse cx="7.2" cy="23.8" rx="2.48" ry="3.36" fill="#f0e21e"/><ellipse cx="7.2" cy="23.8" rx="2.17" ry="2.94" fill="#e01a1a"/></g></symbol><symbol id="e1" viewBox="0 0 10 28" preserveAspectRatio="none"><g clip-path="url(#mc2)"><rect width="10" height="28" fill="#2a5ad8"/><ellipse cx="4.6348645080636715" cy="19.000234940407573" rx="2.85" ry="3.79" fill="#33b5e5"/><ellipse cx="4.6348645080636715" cy="19.000234940407573" rx="2.57" ry="3.41" fill="#45c04a"/><ellipse cx="4.6348645080636715" cy="19.000234940407573" rx="2.28" ry="3.03" fill="#f0e21e"/><ellipse cx="4.455561288571053" cy="14.648653392349058" rx="2.22" ry="3.08" fill="#33b5e5"/><ellipse cx="4.455561288571053" cy="14.648653392349058" rx="2.00" ry="2.77" fill="#45c04a"/><ellipse cx="4.455561288571053" cy="14.648653392349058" rx="1.78" ry="2.47" fill="#f0e21e"/><ellipse cx="4.455561288571053" cy="14.648653392349058" rx="1.55" ry="2.16" fill="#e01a1a"/><ellipse cx="7.303688649814237" cy="19.46243047820402" rx="2.34" ry="3.51" fill="#33b5e5"/><ellipse cx="7.303688649814237" cy="19.46243047820402" rx="2.10" ry="3.16" fill="#45c04a"/><ellipse cx="7.303688649814237" cy="19.46243047820402" rx="1.87" ry="2.81" fill="#f0e21e"/><ellipse cx="7.303688649814237" cy="19.46243047820402" rx="1.64" ry="2.46" fill="#e01a1a"/><ellipse cx="5.015598487795034" cy="14.656604723335313" rx="2.43" ry="2.90" fill="#33b5e5"/><ellipse cx="5.015598487795034" cy="14.656604723335313" rx="2.18" ry="2.61" fill="#45c04a"/><ellipse cx="2.336106379401988" cy="15.9539523525418" rx="2.94" ry="4.07" fill="#33b5e5"/><ellipse cx="2.336106379401988" cy="15.9539523525418" rx="2.64" ry="3.66" fill="#45c04a"/><ellipse cx="2.336106379401988" cy="15.9539523525418" rx="2.35" ry="3.25" fill="#f0e21e"/><ellipse cx="2.336106379401988" cy="15.9539523525418" rx="2.06" ry="2.85" fill="#e01a1a"/><ellipse cx="3.02070700125097" cy="6.137116998092076" rx="2.44" ry="3.98" fill="#33b5e5"/><ellipse cx="3.02070700125097" cy="6.137116998092076" rx="2.20" ry="3.58" fill="#45c04a"/><ellipse cx="3.02070700125097" cy="6.137116998092076" rx="1.96" ry="3.18" fill="#f0e21e"/><ellipse cx="3.02070700125097" cy="6.137116998092076" rx="1.71" ry="2.78" fill="#e01a1a"/><ellipse cx="7.390596966210394" cy="4.619189201714389" rx="2.27" ry="4.13" fill="#33b5e5"/><ellipse cx="7.390596966210394" cy="4.619189201714389" rx="2.05" ry="3.72" fill="#45c04a"/><ellipse cx="7.390596966210394" cy="4.619189201714389" rx="1.82" ry="3.31" fill="#f0e21e"/><ellipse cx="7.390596966210394" cy="4.619189201714389" rx="1.59" ry="2.89" fill="#e01a1a"/><ellipse cx="2.8" cy="23.8" rx="3.10" ry="4.20" fill="#33b5e5"/><ellipse cx="2.8" cy="23.8" rx="2.79" ry="3.78" fill="#45c04a"/><ellipse cx="2.8" cy="23.8" rx="2.48" ry="3.36" fill="#f0e21e"/><ellipse cx="2.8" cy="23.8" rx="2.17" ry="2.94" fill="#e01a1a"/><ellipse cx="7.2" cy="23.8" rx="3.10" ry="4.20" fill="#33b5e5"/><ellipse cx="7.2" cy="23.8" rx="2.79" ry="3.78" fill="#45c04a"/><ellipse cx="7.2" cy="23.8" rx="2.48" ry="3.36" fill="#f0e21e"/><ellipse cx="7.2" cy="23.8" rx="2.17" ry="2.94" fill="#e01a1a"/></g></symbol><symbol id="e2" viewBox="0 0 10 28" preserveAspectRatio="none"><g clip-path="url(#mc2)"><rect width="10" height="28" fill="#2a5ad8"/><ellipse cx="2.6345917543950277" cy="4.644137237638708" rx="2.67" ry="3.40" fill="#33b5e5"/><ellipse cx="2.6345917543950277" cy="4.644137237638708" rx="2.40" ry="3.06" fill="#45c04a"/><ellipse cx="2.6345917543950277" cy="4.644137237638708" rx="2.14" ry="2.72" fill="#f0e21e"/><ellipse cx="2.6345917543950277" cy="4.644137237638708" rx="1.87" ry="2.38" fill="#e01a1a"/><ellipse cx="4.608454999152397" cy="13.215806591090686" rx="2.22" ry="3.78" fill="#33b5e5"/><ellipse cx="4.608454999152397" cy="13.215806591090686" rx="1.99" ry="3.40" fill="#45c04a"/><ellipse cx="4.608454999152397" cy="13.215806591090686" rx="1.77" ry="3.03" fill="#f0e21e"/><ellipse cx="3.2151074460488016" cy="10.717166685407294" rx="3.09" ry="3.37" fill="#33b5e5"/><ellipse cx="3.2151074460488016" cy="10.717166685407294" rx="2.78" ry="3.03" fill="#45c04a"/><ellipse cx="3.2151074460488016" cy="10.717166685407294" rx="2.47" ry="2.69" fill="#f0e21e"/><ellipse cx="5.587284685108283" cy="4.6116281055922315" rx="3.15" ry="3.25" fill="#33b5e5"/><ellipse cx="5.587284685108283" cy="4.6116281055922315" rx="2.84" ry="2.93" fill="#45c04a"/><ellipse cx="6.68955451782551" cy="14.979416280133005" rx="3.23" ry="3.68" fill="#33b5e5"/><ellipse cx="6.68955451782551" cy="14.979416280133005" rx="2.91" ry="3.31" fill="#45c04a"/><ellipse cx="6.68955451782551" cy="14.979416280133005" rx="2.59" ry="2.94" fill="#f0e21e"/><ellipse cx="6.68955451782551" cy="14.979416280133005" rx="2.26" ry="2.58" fill="#e01a1a"/><ellipse cx="5.390230168087697" cy="6.24611331204256" rx="2.90" ry="3.28" fill="#33b5e5"/><ellipse cx="5.390230168087697" cy="6.24611331204256" rx="2.61" ry="2.95" fill="#45c04a"/><ellipse cx="5.390230168087697" cy="6.24611331204256" rx="2.32" ry="2.62" fill="#f0e21e"/><ellipse cx="5.390230168087697" cy="6.24611331204256" rx="2.03" ry="2.29" fill="#e01a1a"/><ellipse cx="3.765288283700306" cy="4.976658460910567" rx="3.09" ry="3.02" fill="#33b5e5"/><ellipse cx="3.765288283700306" cy="4.976658460910567" rx="2.78" ry="2.72" fill="#45c04a"/><ellipse cx="3.765288283700306" cy="4.976658460910567" rx="2.47" ry="2.42" fill="#f0e21e"/><ellipse cx="3.765288283700306" cy="4.976658460910567" rx="2.16" ry="2.12" fill="#e01a1a"/><ellipse cx="2.8" cy="23.8" rx="3.10" ry="4.20" fill="#33b5e5"/><ellipse cx="2.8" cy="23.8" rx="2.79" ry="3.78" fill="#45c04a"/><ellipse cx="2.8" cy="23.8" rx="2.48" ry="3.36" fill="#f0e21e"/><ellipse cx="2.8" cy="23.8" rx="2.17" ry="2.94" fill="#e01a1a"/><ellipse cx="7.2" cy="23.8" rx="3.10" ry="4.20" fill="#33b5e5"/><ellipse cx="7.2" cy="23.8" rx="2.79" ry="3.78" fill="#45c04a"/><ellipse cx="7.2" cy="23.8" rx="2.48" ry="3.36" fill="#f0e21e"/><ellipse cx="7.2" cy="23.8" rx="2.17" ry="2.94" fill="#e01a1a"/></g></symbol><symbol id="e3" viewBox="0 0 10 28" preserveAspectRatio="none"><g clip-path="url(#mc2)"><rect width="10" height="28" fill="#2a5ad8"/><ellipse cx="2.946004302953574" cy="8.608482062498522" rx="2.85" ry="3.32" fill="#33b5e5"/><ellipse cx="2.946004302953574" cy="8.608482062498522" rx="2.56" ry="2.99" fill="#45c04a"/><ellipse cx="2.946004302953574" cy="8.608482062498522" rx="2.28" ry="2.65" fill="#f0e21e"/><ellipse cx="2.946004302953574" cy="8.608482062498522" rx="1.99" ry="2.32" fill="#e01a1a"/><ellipse cx="6.485283167784493" cy="9.897673633069463" rx="3.07" ry="2.90" fill="#33b5e5"/><ellipse cx="6.485283167784493" cy="9.897673633069463" rx="2.76" ry="2.61" fill="#45c04a"/><ellipse cx="6.485283167784493" cy="9.897673633069463" rx="2.45" ry="2.32" fill="#f0e21e"/><ellipse cx="6.485283167784493" cy="9.897673633069463" rx="2.15" ry="2.03" fill="#e01a1a"/><ellipse cx="3.889460708390968" cy="4.714674205929846" rx="3.27" ry="4.19" fill="#33b5e5"/><ellipse cx="3.889460708390968" cy="4.714674205929846" rx="2.94" ry="3.77" fill="#45c04a"/><ellipse cx="3.499800288145713" cy="19.059486622692756" rx="3.00" ry="3.27" fill="#33b5e5"/><ellipse cx="3.499800288145713" cy="19.059486622692756" rx="2.70" ry="2.95" fill="#45c04a"/><ellipse cx="3.499800288145713" cy="19.059486622692756" rx="2.40" ry="2.62" fill="#f0e21e"/><ellipse cx="3.499800288145713" cy="19.059486622692756" rx="2.10" ry="2.29" fill="#e01a1a"/><ellipse cx="5.389623035631952" cy="12.062354507343303" rx="2.67" ry="4.20" fill="#33b5e5"/><ellipse cx="5.389623035631952" cy="12.062354507343303" rx="2.40" ry="3.78" fill="#45c04a"/><ellipse cx="5.389623035631952" cy="12.062354507343303" rx="2.13" ry="3.36" fill="#f0e21e"/><ellipse cx="6.127003895266492" cy="15.949574967632937" rx="3.38" ry="2.83" fill="#33b5e5"/><ellipse cx="6.127003895266492" cy="15.949574967632937" rx="3.04" ry="2.55" fill="#45c04a"/><ellipse cx="6.337251327390775" cy="7.362769391700551" rx="2.68" ry="2.87" fill="#33b5e5"/><ellipse cx="6.337251327390775" cy="7.362769391700551" rx="2.41" ry="2.58" fill="#45c04a"/><ellipse cx="6.337251327390775" cy="7.362769391700551" rx="2.15" ry="2.30" fill="#f0e21e"/><ellipse cx="2.8" cy="23.8" rx="3.10" ry="4.20" fill="#33b5e5"/><ellipse cx="2.8" cy="23.8" rx="2.79" ry="3.78" fill="#45c04a"/><ellipse cx="2.8" cy="23.8" rx="2.48" ry="3.36" fill="#f0e21e"/><ellipse cx="2.8" cy="23.8" rx="2.17" ry="2.94" fill="#e01a1a"/><ellipse cx="7.2" cy="23.8" rx="3.10" ry="4.20" fill="#33b5e5"/><ellipse cx="7.2" cy="23.8" rx="2.79" ry="3.78" fill="#45c04a"/><ellipse cx="7.2" cy="23.8" rx="2.48" ry="3.36" fill="#f0e21e"/><ellipse cx="7.2" cy="23.8" rx="2.17" ry="2.94" fill="#e01a1a"/></g></symbol><symbol id="e4" viewBox="0 0 10 28" preserveAspectRatio="none"><g clip-path="url(#mc2)"><rect width="10" height="28" fill="#2a5ad8"/><ellipse cx="5.828853682456833" cy="3.1832639252665222" rx="2.51" ry="3.19" fill="#33b5e5"/><ellipse cx="5.828853682456833" cy="3.1832639252665222" rx="2.26" ry="2.87" fill="#45c04a"/><ellipse cx="5.828853682456833" cy="3.1832639252665222" rx="2.01" ry="2.55" fill="#f0e21e"/><ellipse cx="5.828853682456833" cy="3.1832639252665222" rx="1.76" ry="2.23" fill="#e01a1a"/><ellipse cx="5.2803230689967435" cy="11.63293021967026" rx="3.36" ry="3.60" fill="#33b5e5"/><ellipse cx="5.2803230689967435" cy="11.63293021967026" rx="3.02" ry="3.24" fill="#45c04a"/><ellipse cx="5.772870553197908" cy="16.76197976588555" rx="2.29" ry="3.64" fill="#33b5e5"/><ellipse cx="5.772870553197908" cy="16.76197976588555" rx="2.06" ry="3.27" fill="#45c04a"/><ellipse cx="4.363969001239996" cy="18.956255687168515" rx="2.66" ry="4.16" fill="#33b5e5"/><ellipse cx="4.363969001239996" cy="18.956255687168515" rx="2.40" ry="3.74" fill="#45c04a"/><ellipse cx="4.363969001239996" cy="18.956255687168515" rx="2.13" ry="3.33" fill="#f0e21e"/><ellipse cx="4.363969001239996" cy="18.956255687168515" rx="1.86" ry="2.91" fill="#e01a1a"/><ellipse cx="5.234940691460378" cy="13.141558155382205" rx="2.72" ry="3.49" fill="#33b5e5"/><ellipse cx="5.234940691460378" cy="13.141558155382205" rx="2.44" ry="3.14" fill="#45c04a"/><ellipse cx="5.234940691460378" cy="13.141558155382205" rx="2.17" ry="2.79" fill="#f0e21e"/><ellipse cx="5.234940691460378" cy="13.141558155382205" rx="1.90" ry="2.44" fill="#e01a1a"/><ellipse cx="5.149846153199517" cy="13.163144195904637" rx="2.64" ry="3.20" fill="#33b5e5"/><ellipse cx="5.149846153199517" cy="13.163144195904637" rx="2.37" ry="2.88" fill="#45c04a"/><ellipse cx="5.149846153199517" cy="13.163144195904637" rx="2.11" ry="2.56" fill="#f0e21e"/><ellipse cx="5.149846153199517" cy="13.163144195904637" rx="1.85" ry="2.24" fill="#e01a1a"/><ellipse cx="5.339607778229281" cy="7.819984065600314" rx="3.06" ry="3.21" fill="#33b5e5"/><ellipse cx="5.339607778229281" cy="7.819984065600314" rx="2.75" ry="2.89" fill="#45c04a"/><ellipse cx="2.8" cy="23.8" rx="3.10" ry="4.20" fill="#33b5e5"/><ellipse cx="2.8" cy="23.8" rx="2.79" ry="3.78" fill="#45c04a"/><ellipse cx="2.8" cy="23.8" rx="2.48" ry="3.36" fill="#f0e21e"/><ellipse cx="2.8" cy="23.8" rx="2.17" ry="2.94" fill="#e01a1a"/><ellipse cx="7.2" cy="23.8" rx="3.10" ry="4.20" fill="#33b5e5"/><ellipse cx="7.2" cy="23.8" rx="2.79" ry="3.78" fill="#45c04a"/><ellipse cx="7.2" cy="23.8" rx="2.48" ry="3.36" fill="#f0e21e"/><ellipse cx="7.2" cy="23.8" rx="2.17" ry="2.94" fill="#e01a1a"/></g></symbol><symbol id="e5" viewBox="0 0 10 28" preserveAspectRatio="none"><g clip-path="url(#mc2)"><rect width="10" height="28" fill="#2a5ad8"/><ellipse cx="6.525932632179019" cy="12.958735396915362" rx="2.96" ry="3.37" fill="#33b5e5"/><ellipse cx="6.525932632179019" cy="12.958735396915362" rx="2.66" ry="3.04" fill="#45c04a"/><ellipse cx="6.525932632179019" cy="12.958735396915362" rx="2.37" ry="2.70" fill="#f0e21e"/><ellipse cx="6.525932632179019" cy="12.958735396915362" rx="2.07" ry="2.36" fill="#e01a1a"/><ellipse cx="2.4956321375536605" cy="8.35744864286611" rx="2.68" ry="3.61" fill="#33b5e5"/><ellipse cx="2.4956321375536605" cy="8.35744864286611" rx="2.41" ry="3.25" fill="#45c04a"/><ellipse cx="2.4956321375536605" cy="8.35744864286611" rx="2.14" ry="2.89" fill="#f0e21e"/><ellipse cx="2.4956321375536605" cy="8.35744864286611" rx="1.87" ry="2.53" fill="#e01a1a"/><ellipse cx="2.6116239820906" cy="18.39436464609939" rx="2.72" ry="3.47" fill="#33b5e5"/><ellipse cx="2.6116239820906" cy="18.39436464609939" rx="2.44" ry="3.12" fill="#45c04a"/><ellipse cx="2.6116239820906" cy="18.39436464609939" rx="2.17" ry="2.77" fill="#f0e21e"/><ellipse cx="2.4544301191777946" cy="4.674040190380856" rx="3.17" ry="4.07" fill="#33b5e5"/><ellipse cx="2.4544301191777946" cy="4.674040190380856" rx="2.85" ry="3.67" fill="#45c04a"/><ellipse cx="2.4544301191777946" cy="4.674040190380856" rx="2.54" ry="3.26" fill="#f0e21e"/><ellipse cx="7.6813964409808495" cy="16.88383271670437" rx="2.92" ry="2.96" fill="#33b5e5"/><ellipse cx="7.6813964409808495" cy="16.88383271670437" rx="2.63" ry="2.67" fill="#45c04a"/><ellipse cx="7.6813964409808495" cy="16.88383271670437" rx="2.34" ry="2.37" fill="#f0e21e"/><ellipse cx="7.6813964409808495" cy="16.88383271670437" rx="2.05" ry="2.07" fill="#e01a1a"/><ellipse cx="4.751856641922917" cy="6.462167990499697" rx="2.26" ry="3.54" fill="#33b5e5"/><ellipse cx="4.751856641922917" cy="6.462167990499697" rx="2.04" ry="3.19" fill="#45c04a"/><ellipse cx="4.234491551518731" cy="5.3762303170126025" rx="2.70" ry="3.64" fill="#33b5e5"/><ellipse cx="4.234491551518731" cy="5.3762303170126025" rx="2.43" ry="3.28" fill="#45c04a"/><ellipse cx="4.234491551518731" cy="5.3762303170126025" rx="2.16" ry="2.91" fill="#f0e21e"/><ellipse cx="4.234491551518731" cy="5.3762303170126025" rx="1.89" ry="2.55" fill="#e01a1a"/><ellipse cx="2.8" cy="23.8" rx="3.10" ry="4.20" fill="#33b5e5"/><ellipse cx="2.8" cy="23.8" rx="2.79" ry="3.78" fill="#45c04a"/><ellipse cx="2.8" cy="23.8" rx="2.48" ry="3.36" fill="#f0e21e"/><ellipse cx="2.8" cy="23.8" rx="2.17" ry="2.94" fill="#e01a1a"/><ellipse cx="7.2" cy="23.8" rx="3.10" ry="4.20" fill="#33b5e5"/><ellipse cx="7.2" cy="23.8" rx="2.79" ry="3.78" fill="#45c04a"/><ellipse cx="7.2" cy="23.8" rx="2.48" ry="3.36" fill="#f0e21e"/><ellipse cx="7.2" cy="23.8" rx="2.17" ry="2.94" fill="#e01a1a"/></g></symbol><symbol id="e6" viewBox="0 0 10 28" preserveAspectRatio="none"><g clip-path="url(#mc2)"><rect width="10" height="28" fill="#2a5ad8"/><ellipse cx="4.238511517320676" cy="15.645736448638337" rx="3.18" ry="2.99" fill="#33b5e5"/><ellipse cx="4.238511517320676" cy="15.645736448638337" rx="2.86" ry="2.69" fill="#45c04a"/><ellipse cx="4.238511517320676" cy="15.645736448638337" rx="2.54" ry="2.39" fill="#f0e21e"/><ellipse cx="4.238511517320676" cy="15.645736448638337" rx="2.22" ry="2.09" fill="#e01a1a"/><ellipse cx="6.3119943612939196" cy="7.0529874725547845" rx="2.34" ry="4.05" fill="#33b5e5"/><ellipse cx="6.3119943612939196" cy="7.0529874725547845" rx="2.10" ry="3.64" fill="#45c04a"/><ellipse cx="6.3119943612939196" cy="7.0529874725547845" rx="1.87" ry="3.24" fill="#f0e21e"/><ellipse cx="6.3119943612939196" cy="7.0529874725547845" rx="1.64" ry="2.83" fill="#e01a1a"/><ellipse cx="3.738629227284091" cy="13.366745931250305" rx="3.07" ry="3.78" fill="#33b5e5"/><ellipse cx="3.738629227284091" cy="13.366745931250305" rx="2.76" ry="3.40" fill="#45c04a"/><ellipse cx="3.738629227284091" cy="13.366745931250305" rx="2.46" ry="3.02" fill="#f0e21e"/><ellipse cx="5.745363533201722" cy="15.806943141448592" rx="2.43" ry="3.15" fill="#33b5e5"/><ellipse cx="5.745363533201722" cy="15.806943141448592" rx="2.19" ry="2.83" fill="#45c04a"/><ellipse cx="5.745363533201722" cy="15.806943141448592" rx="1.94" ry="2.52" fill="#f0e21e"/><ellipse cx="7.121147875679694" cy="3.6716340533119576" rx="2.27" ry="3.18" fill="#33b5e5"/><ellipse cx="7.121147875679694" cy="3.6716340533119576" rx="2.05" ry="2.86" fill="#45c04a"/><ellipse cx="7.121147875679694" cy="3.6716340533119576" rx="1.82" ry="2.54" fill="#f0e21e"/><ellipse cx="7.121147875679694" cy="3.6716340533119576" rx="1.59" ry="2.23" fill="#e01a1a"/><ellipse cx="2.350661393186117" cy="3.6467683743088175" rx="2.47" ry="3.19" fill="#33b5e5"/><ellipse cx="2.350661393186117" cy="3.6467683743088175" rx="2.22" ry="2.87" fill="#45c04a"/><ellipse cx="7.312163720929387" cy="5.734572860305654" rx="2.48" ry="4.17" fill="#33b5e5"/><ellipse cx="7.312163720929387" cy="5.734572860305654" rx="2.23" ry="3.76" fill="#45c04a"/><ellipse cx="7.312163720929387" cy="5.734572860305654" rx="1.99" ry="3.34" fill="#f0e21e"/><ellipse cx="7.312163720929387" cy="5.734572860305654" rx="1.74" ry="2.92" fill="#e01a1a"/><ellipse cx="2.8" cy="23.8" rx="3.10" ry="4.20" fill="#33b5e5"/><ellipse cx="2.8" cy="23.8" rx="2.79" ry="3.78" fill="#45c04a"/><ellipse cx="2.8" cy="23.8" rx="2.48" ry="3.36" fill="#f0e21e"/><ellipse cx="2.8" cy="23.8" rx="2.17" ry="2.94" fill="#e01a1a"/><ellipse cx="7.2" cy="23.8" rx="3.10" ry="4.20" fill="#33b5e5"/><ellipse cx="7.2" cy="23.8" rx="2.79" ry="3.78" fill="#45c04a"/><ellipse cx="7.2" cy="23.8" rx="2.48" ry="3.36" fill="#f0e21e"/><ellipse cx="7.2" cy="23.8" rx="2.17" ry="2.94" fill="#e01a1a"/></g></symbol><symbol id="e7" viewBox="0 0 10 28" preserveAspectRatio="none"><g clip-path="url(#mc2)"><rect width="10" height="28" fill="#2a5ad8"/><ellipse cx="4.879910817615359" cy="6.580754747616805" rx="2.61" ry="3.84" fill="#33b5e5"/><ellipse cx="4.879910817615359" cy="6.580754747616805" rx="2.35" ry="3.46" fill="#45c04a"/><ellipse cx="6.6926144292266345" cy="10.604262514085406" rx="3.19" ry="3.97" fill="#33b5e5"/><ellipse cx="6.6926144292266345" cy="10.604262514085406" rx="2.87" ry="3.58" fill="#45c04a"/><ellipse cx="6.6926144292266345" cy="10.604262514085406" rx="2.55" ry="3.18" fill="#f0e21e"/><ellipse cx="4.688296329799427" cy="15.704453523361892" rx="2.67" ry="3.01" fill="#33b5e5"/><ellipse cx="4.688296329799427" cy="15.704453523361892" rx="2.40" ry="2.71" fill="#45c04a"/><ellipse cx="4.688296329799427" cy="15.704453523361892" rx="2.13" ry="2.41" fill="#f0e21e"/><ellipse cx="5.860483097162291" cy="19.81606980519858" rx="2.59" ry="3.57" fill="#33b5e5"/><ellipse cx="5.860483097162291" cy="19.81606980519858" rx="2.33" ry="3.21" fill="#45c04a"/><ellipse cx="5.860483097162291" cy="19.81606980519858" rx="2.07" ry="2.85" fill="#f0e21e"/><ellipse cx="4.594854322532683" cy="9.277428655848079" rx="2.32" ry="4.03" fill="#33b5e5"/><ellipse cx="4.594854322532683" cy="9.277428655848079" rx="2.08" ry="3.62" fill="#45c04a"/><ellipse cx="5.244344756490886" cy="10.3438034325218" rx="2.88" ry="3.94" fill="#33b5e5"/><ellipse cx="5.244344756490886" cy="10.3438034325218" rx="2.59" ry="3.55" fill="#45c04a"/><ellipse cx="5.244344756490886" cy="10.3438034325218" rx="2.31" ry="3.15" fill="#f0e21e"/><ellipse cx="5.244344756490886" cy="10.3438034325218" rx="2.02" ry="2.76" fill="#e01a1a"/><ellipse cx="3.873675774124108" cy="16.183553950175455" rx="2.29" ry="3.10" fill="#33b5e5"/><ellipse cx="3.873675774124108" cy="16.183553950175455" rx="2.06" ry="2.79" fill="#45c04a"/><ellipse cx="2.8" cy="23.8" rx="3.10" ry="4.20" fill="#33b5e5"/><ellipse cx="2.8" cy="23.8" rx="2.79" ry="3.78" fill="#45c04a"/><ellipse cx="2.8" cy="23.8" rx="2.48" ry="3.36" fill="#f0e21e"/><ellipse cx="2.8" cy="23.8" rx="2.17" ry="2.94" fill="#e01a1a"/><ellipse cx="7.2" cy="23.8" rx="3.10" ry="4.20" fill="#33b5e5"/><ellipse cx="7.2" cy="23.8" rx="2.79" ry="3.78" fill="#45c04a"/><ellipse cx="7.2" cy="23.8" rx="2.48" ry="3.36" fill="#f0e21e"/><ellipse cx="7.2" cy="23.8" rx="2.17" ry="2.94" fill="#e01a1a"/></g></symbol><symbol id="bb0" viewBox="0 0 10 28" preserveAspectRatio="none"><g clip-path="url(#mc2)"><rect width="10" height="28" fill="#2636c8"/><ellipse cx="5.975525055222408" cy="10.9266575884071" rx="2.16" ry="2.19" fill="#33b5e5"/><ellipse cx="5.975525055222408" cy="10.9266575884071" rx="1.95" ry="1.97" fill="#45c04a"/><ellipse cx="3.593763461627127" cy="13.201684312251647" rx="1.73" ry="2.89" fill="#33b5e5"/><ellipse cx="3.593763461627127" cy="13.201684312251647" rx="1.55" ry="2.60" fill="#45c04a"/><ellipse cx="3.593763461627127" cy="13.201684312251647" rx="1.38" ry="2.31" fill="#f0e21e"/><ellipse cx="6.0463743821151805" cy="11.969843792369645" rx="2.32" ry="2.93" fill="#33b5e5"/><ellipse cx="6.0463743821151805" cy="11.969843792369645" rx="2.09" ry="2.64" fill="#45c04a"/><ellipse cx="6.0463743821151805" cy="11.969843792369645" rx="1.85" ry="2.34" fill="#f0e21e"/><ellipse cx="4.689963516973377" cy="15.24269202271937" rx="1.70" ry="2.18" fill="#33b5e5"/><ellipse cx="4.689963516973377" cy="15.24269202271937" rx="1.53" ry="1.96" fill="#45c04a"/><ellipse cx="4.689963516973377" cy="15.24269202271937" rx="1.36" ry="1.74" fill="#f0e21e"/><ellipse cx="4.689963516973377" cy="15.24269202271937" rx="1.19" ry="1.53" fill="#e01a1a"/><ellipse cx="2.8" cy="23.8" rx="2.80" ry="3.80" fill="#33b5e5"/><ellipse cx="2.8" cy="23.8" rx="2.52" ry="3.42" fill="#45c04a"/><ellipse cx="2.8" cy="23.8" rx="2.24" ry="3.04" fill="#f0e21e"/><ellipse cx="2.8" cy="23.8" rx="1.96" ry="2.66" fill="#e01a1a"/><ellipse cx="7.2" cy="23.8" rx="2.80" ry="3.80" fill="#33b5e5"/><ellipse cx="7.2" cy="23.8" rx="2.52" ry="3.42" fill="#45c04a"/><ellipse cx="7.2" cy="23.8" rx="2.24" ry="3.04" fill="#f0e21e"/><ellipse cx="7.2" cy="23.8" rx="1.96" ry="2.66" fill="#e01a1a"/></g></symbol><symbol id="bb1" viewBox="0 0 10 28" preserveAspectRatio="none"><g clip-path="url(#mc2)"><rect width="10" height="28" fill="#2636c8"/><ellipse cx="7.338849489937202" cy="14.217025909767923" rx="1.92" ry="1.90" fill="#33b5e5"/><ellipse cx="7.338849489937202" cy="14.217025909767923" rx="1.72" ry="1.71" fill="#45c04a"/><ellipse cx="7.338849489937202" cy="14.217025909767923" rx="1.53" ry="1.52" fill="#f0e21e"/><ellipse cx="2.6205863566440257" cy="13.478064935941504" rx="1.98" ry="2.76" fill="#33b5e5"/><ellipse cx="2.6205863566440257" cy="13.478064935941504" rx="1.79" ry="2.48" fill="#45c04a"/><ellipse cx="2.6205863566440257" cy="13.478064935941504" rx="1.59" ry="2.20" fill="#f0e21e"/><ellipse cx="6.485414109760743" cy="11.56786035125711" rx="2.24" ry="2.48" fill="#33b5e5"/><ellipse cx="6.485414109760743" cy="11.56786035125711" rx="2.01" ry="2.23" fill="#45c04a"/><ellipse cx="2.948698280712491" cy="10.361168923471684" rx="2.25" ry="2.77" fill="#33b5e5"/><ellipse cx="2.948698280712491" cy="10.361168923471684" rx="2.03" ry="2.50" fill="#45c04a"/><ellipse cx="2.8" cy="23.8" rx="2.80" ry="3.80" fill="#33b5e5"/><ellipse cx="2.8" cy="23.8" rx="2.52" ry="3.42" fill="#45c04a"/><ellipse cx="2.8" cy="23.8" rx="2.24" ry="3.04" fill="#f0e21e"/><ellipse cx="2.8" cy="23.8" rx="1.96" ry="2.66" fill="#e01a1a"/><ellipse cx="7.2" cy="23.8" rx="2.80" ry="3.80" fill="#33b5e5"/><ellipse cx="7.2" cy="23.8" rx="2.52" ry="3.42" fill="#45c04a"/><ellipse cx="7.2" cy="23.8" rx="2.24" ry="3.04" fill="#f0e21e"/><ellipse cx="7.2" cy="23.8" rx="1.96" ry="2.66" fill="#e01a1a"/></g></symbol><symbol id="bb2" viewBox="0 0 10 28" preserveAspectRatio="none"><g clip-path="url(#mc2)"><rect width="10" height="28" fill="#2636c8"/><ellipse cx="5.078206436996444" cy="11.618123309475024" rx="1.97" ry="2.96" fill="#33b5e5"/><ellipse cx="5.078206436996444" cy="11.618123309475024" rx="1.77" ry="2.66" fill="#45c04a"/><ellipse cx="5.078206436996444" cy="11.618123309475024" rx="1.57" ry="2.37" fill="#f0e21e"/><ellipse cx="5.078206436996444" cy="11.618123309475024" rx="1.38" ry="2.07" fill="#e01a1a"/><ellipse cx="2.82028237663061" cy="11.655425267492571" rx="2.19" ry="1.90" fill="#33b5e5"/><ellipse cx="3.868221183756736" cy="5.475677956543907" rx="1.71" ry="1.83" fill="#33b5e5"/><ellipse cx="3.868221183756736" cy="5.475677956543907" rx="1.54" ry="1.65" fill="#45c04a"/><ellipse cx="2.9872470999431435" cy="15.427526407584901" rx="1.82" ry="2.65" fill="#33b5e5"/><ellipse cx="2.9872470999431435" cy="15.427526407584901" rx="1.64" ry="2.39" fill="#45c04a"/><ellipse cx="2.9872470999431435" cy="15.427526407584901" rx="1.46" ry="2.12" fill="#f0e21e"/><ellipse cx="2.9872470999431435" cy="15.427526407584901" rx="1.28" ry="1.86" fill="#e01a1a"/><ellipse cx="2.8" cy="23.8" rx="2.80" ry="3.80" fill="#33b5e5"/><ellipse cx="2.8" cy="23.8" rx="2.52" ry="3.42" fill="#45c04a"/><ellipse cx="2.8" cy="23.8" rx="2.24" ry="3.04" fill="#f0e21e"/><ellipse cx="2.8" cy="23.8" rx="1.96" ry="2.66" fill="#e01a1a"/><ellipse cx="7.2" cy="23.8" rx="2.80" ry="3.80" fill="#33b5e5"/><ellipse cx="7.2" cy="23.8" rx="2.52" ry="3.42" fill="#45c04a"/><ellipse cx="7.2" cy="23.8" rx="2.24" ry="3.04" fill="#f0e21e"/><ellipse cx="7.2" cy="23.8" rx="1.96" ry="2.66" fill="#e01a1a"/></g></symbol><symbol id="bb3" viewBox="0 0 10 28" preserveAspectRatio="none"><g clip-path="url(#mc2)"><rect width="10" height="28" fill="#2636c8"/><ellipse cx="6.326765153845292" cy="11.3017586524364" rx="2.16" ry="2.27" fill="#33b5e5"/><ellipse cx="6.326765153845292" cy="11.3017586524364" rx="1.95" ry="2.05" fill="#45c04a"/><ellipse cx="6.326765153845292" cy="11.3017586524364" rx="1.73" ry="1.82" fill="#f0e21e"/><ellipse cx="6.5363776299458545" cy="8.661530222098701" rx="1.54" ry="2.39" fill="#33b5e5"/><ellipse cx="6.0407031930296995" cy="16.80967580264337" rx="1.81" ry="2.79" fill="#33b5e5"/><ellipse cx="6.0407031930296995" cy="16.80967580264337" rx="1.63" ry="2.51" fill="#45c04a"/><ellipse cx="6.0407031930296995" cy="16.80967580264337" rx="1.45" ry="2.23" fill="#f0e21e"/><ellipse cx="6.767520196879961" cy="15.282701636043722" rx="2.23" ry="2.87" fill="#33b5e5"/><ellipse cx="2.8" cy="23.8" rx="2.80" ry="3.80" fill="#33b5e5"/><ellipse cx="2.8" cy="23.8" rx="2.52" ry="3.42" fill="#45c04a"/><ellipse cx="2.8" cy="23.8" rx="2.24" ry="3.04" fill="#f0e21e"/><ellipse cx="2.8" cy="23.8" rx="1.96" ry="2.66" fill="#e01a1a"/><ellipse cx="7.2" cy="23.8" rx="2.80" ry="3.80" fill="#33b5e5"/><ellipse cx="7.2" cy="23.8" rx="2.52" ry="3.42" fill="#45c04a"/><ellipse cx="7.2" cy="23.8" rx="2.24" ry="3.04" fill="#f0e21e"/><ellipse cx="7.2" cy="23.8" rx="1.96" ry="2.66" fill="#e01a1a"/></g></symbol><symbol id="bb4" viewBox="0 0 10 28" preserveAspectRatio="none"><g clip-path="url(#mc2)"><rect width="10" height="28" fill="#2636c8"/><ellipse cx="5.119280754106219" cy="13.941209674940085" rx="2.20" ry="2.31" fill="#33b5e5"/><ellipse cx="5.119280754106219" cy="13.941209674940085" rx="1.98" ry="2.08" fill="#45c04a"/><ellipse cx="5.119280754106219" cy="13.941209674940085" rx="1.76" ry="1.84" fill="#f0e21e"/><ellipse cx="5.119280754106219" cy="13.941209674940085" rx="1.54" ry="1.61" fill="#e01a1a"/><ellipse cx="7.077812259874844" cy="7.440085071155811" rx="1.56" ry="2.56" fill="#33b5e5"/><ellipse cx="7.077812259874844" cy="7.440085071155811" rx="1.41" ry="2.31" fill="#45c04a"/><ellipse cx="4.104397900565146" cy="9.450578316667915" rx="1.93" ry="2.13" fill="#33b5e5"/><ellipse cx="4.857224162982575" cy="14.230781775767936" rx="1.70" ry="1.99" fill="#33b5e5"/><ellipse cx="4.857224162982575" cy="14.230781775767936" rx="1.53" ry="1.79" fill="#45c04a"/><ellipse cx="2.8" cy="23.8" rx="2.80" ry="3.80" fill="#33b5e5"/><ellipse cx="2.8" cy="23.8" rx="2.52" ry="3.42" fill="#45c04a"/><ellipse cx="2.8" cy="23.8" rx="2.24" ry="3.04" fill="#f0e21e"/><ellipse cx="2.8" cy="23.8" rx="1.96" ry="2.66" fill="#e01a1a"/><ellipse cx="7.2" cy="23.8" rx="2.80" ry="3.80" fill="#33b5e5"/><ellipse cx="7.2" cy="23.8" rx="2.52" ry="3.42" fill="#45c04a"/><ellipse cx="7.2" cy="23.8" rx="2.24" ry="3.04" fill="#f0e21e"/><ellipse cx="7.2" cy="23.8" rx="1.96" ry="2.66" fill="#e01a1a"/></g></symbol><symbol id="bb5" viewBox="0 0 10 28" preserveAspectRatio="none"><g clip-path="url(#mc2)"><rect width="10" height="28" fill="#2636c8"/><ellipse cx="7.060977893410046" cy="14.543891760875532" rx="1.42" ry="2.38" fill="#33b5e5"/><ellipse cx="4.062752727742341" cy="6.766740371164389" rx="1.76" ry="2.51" fill="#33b5e5"/><ellipse cx="4.062752727742341" cy="6.766740371164389" rx="1.58" ry="2.26" fill="#45c04a"/><ellipse cx="4.062752727742341" cy="6.766740371164389" rx="1.41" ry="2.00" fill="#f0e21e"/><ellipse cx="4.062752727742341" cy="6.766740371164389" rx="1.23" ry="1.75" fill="#e01a1a"/><ellipse cx="5.47393025862463" cy="7.1354305162082845" rx="1.58" ry="2.14" fill="#33b5e5"/><ellipse cx="5.47393025862463" cy="7.1354305162082845" rx="1.43" ry="1.92" fill="#45c04a"/><ellipse cx="7.053391030337806" cy="17.12292325768039" rx="2.03" ry="2.93" fill="#33b5e5"/><ellipse cx="7.053391030337806" cy="17.12292325768039" rx="1.82" ry="2.64" fill="#45c04a"/><ellipse cx="7.053391030337806" cy="17.12292325768039" rx="1.62" ry="2.34" fill="#f0e21e"/><ellipse cx="7.053391030337806" cy="17.12292325768039" rx="1.42" ry="2.05" fill="#e01a1a"/><ellipse cx="2.8" cy="23.8" rx="2.80" ry="3.80" fill="#33b5e5"/><ellipse cx="2.8" cy="23.8" rx="2.52" ry="3.42" fill="#45c04a"/><ellipse cx="2.8" cy="23.8" rx="2.24" ry="3.04" fill="#f0e21e"/><ellipse cx="2.8" cy="23.8" rx="1.96" ry="2.66" fill="#e01a1a"/><ellipse cx="7.2" cy="23.8" rx="2.80" ry="3.80" fill="#33b5e5"/><ellipse cx="7.2" cy="23.8" rx="2.52" ry="3.42" fill="#45c04a"/><ellipse cx="7.2" cy="23.8" rx="2.24" ry="3.04" fill="#f0e21e"/><ellipse cx="7.2" cy="23.8" rx="1.96" ry="2.66" fill="#e01a1a"/></g></symbol><symbol id="bb6" viewBox="0 0 10 28" preserveAspectRatio="none"><g clip-path="url(#mc2)"><rect width="10" height="28" fill="#2636c8"/><ellipse cx="6.766951205598727" cy="10.786641675411657" rx="1.80" ry="2.95" fill="#33b5e5"/><ellipse cx="4.9130674400395655" cy="7.0940733819600705" rx="1.45" ry="2.94" fill="#33b5e5"/><ellipse cx="4.9130674400395655" cy="7.0940733819600705" rx="1.30" ry="2.64" fill="#45c04a"/><ellipse cx="4.9130674400395655" cy="7.0940733819600705" rx="1.16" ry="2.35" fill="#f0e21e"/><ellipse cx="4.9130674400395655" cy="7.0940733819600705" rx="1.01" ry="2.06" fill="#e01a1a"/><ellipse cx="7.380143796190105" cy="15.125913286368966" rx="2.17" ry="2.75" fill="#33b5e5"/><ellipse cx="5.787766274968423" cy="7.326595861395706" rx="1.41" ry="2.37" fill="#33b5e5"/><ellipse cx="5.787766274968423" cy="7.326595861395706" rx="1.27" ry="2.13" fill="#45c04a"/><ellipse cx="5.787766274968423" cy="7.326595861395706" rx="1.13" ry="1.89" fill="#f0e21e"/><ellipse cx="2.8" cy="23.8" rx="2.80" ry="3.80" fill="#33b5e5"/><ellipse cx="2.8" cy="23.8" rx="2.52" ry="3.42" fill="#45c04a"/><ellipse cx="2.8" cy="23.8" rx="2.24" ry="3.04" fill="#f0e21e"/><ellipse cx="2.8" cy="23.8" rx="1.96" ry="2.66" fill="#e01a1a"/><ellipse cx="7.2" cy="23.8" rx="2.80" ry="3.80" fill="#33b5e5"/><ellipse cx="7.2" cy="23.8" rx="2.52" ry="3.42" fill="#45c04a"/><ellipse cx="7.2" cy="23.8" rx="2.24" ry="3.04" fill="#f0e21e"/><ellipse cx="7.2" cy="23.8" rx="1.96" ry="2.66" fill="#e01a1a"/></g></symbol><symbol id="bb7" viewBox="0 0 10 28" preserveAspectRatio="none"><g clip-path="url(#mc2)"><rect width="10" height="28" fill="#2636c8"/><ellipse cx="4.750094219922014" cy="7.451745048061198" rx="1.82" ry="2.85" fill="#33b5e5"/><ellipse cx="4.750094219922014" cy="7.451745048061198" rx="1.64" ry="2.56" fill="#45c04a"/><ellipse cx="4.750094219922014" cy="7.451745048061198" rx="1.46" ry="2.28" fill="#f0e21e"/><ellipse cx="4.750094219922014" cy="7.451745048061198" rx="1.28" ry="1.99" fill="#e01a1a"/><ellipse cx="3.2845507477198566" cy="8.50525249560435" rx="1.66" ry="2.84" fill="#33b5e5"/><ellipse cx="3.2845507477198566" cy="8.50525249560435" rx="1.49" ry="2.56" fill="#45c04a"/><ellipse cx="5.684832771929911" cy="17.903664102203855" rx="1.67" ry="2.44" fill="#33b5e5"/><ellipse cx="5.684832771929911" cy="17.903664102203855" rx="1.50" ry="2.20" fill="#45c04a"/><ellipse cx="5.359377181916599" cy="6.49619030966695" rx="1.60" ry="2.90" fill="#33b5e5"/><ellipse cx="5.359377181916599" cy="6.49619030966695" rx="1.44" ry="2.61" fill="#45c04a"/><ellipse cx="2.8" cy="23.8" rx="2.80" ry="3.80" fill="#33b5e5"/><ellipse cx="2.8" cy="23.8" rx="2.52" ry="3.42" fill="#45c04a"/><ellipse cx="2.8" cy="23.8" rx="2.24" ry="3.04" fill="#f0e21e"/><ellipse cx="2.8" cy="23.8" rx="1.96" ry="2.66" fill="#e01a1a"/><ellipse cx="7.2" cy="23.8" rx="2.80" ry="3.80" fill="#33b5e5"/><ellipse cx="7.2" cy="23.8" rx="2.52" ry="3.42" fill="#45c04a"/><ellipse cx="7.2" cy="23.8" rx="2.24" ry="3.04" fill="#f0e21e"/><ellipse cx="7.2" cy="23.8" rx="1.96" ry="2.66" fill="#e01a1a"/></g></symbol><symbol id="gw0" viewBox="0 0 10 28" preserveAspectRatio="none"><g clip-path="url(#mc2)"><rect width="10" height="28" fill="#2a5ad8"/><ellipse cx="6.610441994980539" cy="4.906691401220892" rx="1.92" ry="3.20" fill="#33b5e5"/><ellipse cx="6.948271523419846" cy="11.630610549116888" rx="1.70" ry="3.25" fill="#33b5e5"/><ellipse cx="6.948271523419846" cy="11.630610549116888" rx="1.53" ry="2.92" fill="#45c04a"/><ellipse cx="6.948271523419846" cy="11.630610549116888" rx="1.36" ry="2.60" fill="#f0e21e"/><ellipse cx="2.595156758625867" cy="6.065389078756239" rx="1.83" ry="3.16" fill="#33b5e5"/><ellipse cx="2.595156758625867" cy="6.065389078756239" rx="1.65" ry="2.84" fill="#45c04a"/><ellipse cx="2.595156758625867" cy="6.065389078756239" rx="1.47" ry="2.52" fill="#f0e21e"/><ellipse cx="2.595156758625867" cy="6.065389078756239" rx="1.28" ry="2.21" fill="#e01a1a"/><ellipse cx="3.5420415191807564" cy="9.97708487916473" rx="2.23" ry="2.42" fill="#33b5e5"/><ellipse cx="3.5420415191807564" cy="9.97708487916473" rx="2.01" ry="2.18" fill="#45c04a"/><ellipse cx="3.5420415191807564" cy="9.97708487916473" rx="1.78" ry="1.94" fill="#f0e21e"/><ellipse cx="4.080491561842958" cy="8.46007525053826" rx="2.27" ry="3.60" fill="#33b5e5"/><ellipse cx="2.6" cy="23.5" rx="2.40" ry="3.40" fill="#33b5e5"/><ellipse cx="2.6" cy="23.5" rx="2.16" ry="3.06" fill="#45c04a"/><ellipse cx="2.6" cy="23.5" rx="1.92" ry="2.72" fill="#f0e21e"/><ellipse cx="2.6" cy="23.5" rx="1.68" ry="2.38" fill="#e01a1a"/><ellipse cx="7.4" cy="23.5" rx="2.40" ry="3.40" fill="#33b5e5"/><ellipse cx="7.4" cy="23.5" rx="2.16" ry="3.06" fill="#45c04a"/><ellipse cx="7.4" cy="23.5" rx="1.92" ry="2.72" fill="#f0e21e"/><ellipse cx="7.4" cy="23.5" rx="1.68" ry="2.38" fill="#e01a1a"/><path d="M1,16 Q5,19.5 9,16 L9,17.5 Q5,21.5 1,17.5 Z" fill="#f2f2f6"/></g></symbol><symbol id="gw1" viewBox="0 0 10 28" preserveAspectRatio="none"><g clip-path="url(#mc2)"><rect width="10" height="28" fill="#2a5ad8"/><ellipse cx="4.298547471849051" cy="11.558037732139933" rx="1.73" ry="2.75" fill="#33b5e5"/><ellipse cx="4.298547471849051" cy="11.558037732139933" rx="1.55" ry="2.48" fill="#45c04a"/><ellipse cx="4.298547471849051" cy="11.558037732139933" rx="1.38" ry="2.20" fill="#f0e21e"/><ellipse cx="4.298547471849051" cy="11.558037732139933" rx="1.21" ry="1.93" fill="#e01a1a"/><ellipse cx="6.233181840438705" cy="12.628608086162465" rx="1.75" ry="2.82" fill="#33b5e5"/><ellipse cx="6.233181840438705" cy="12.628608086162465" rx="1.57" ry="2.54" fill="#45c04a"/><ellipse cx="6.233181840438705" cy="12.628608086162465" rx="1.40" ry="2.26" fill="#f0e21e"/><ellipse cx="6.233181840438705" cy="12.628608086162465" rx="1.22" ry="1.98" fill="#e01a1a"/><ellipse cx="6.058797192201249" cy="9.227819171639215" rx="1.95" ry="2.36" fill="#33b5e5"/><ellipse cx="6.780328526780911" cy="13.28958273525499" rx="2.46" ry="3.46" fill="#33b5e5"/><ellipse cx="6.780328526780911" cy="13.28958273525499" rx="2.22" ry="3.12" fill="#45c04a"/><ellipse cx="3.9519683505509744" cy="8.135875853240087" rx="2.25" ry="2.62" fill="#33b5e5"/><ellipse cx="3.9519683505509744" cy="8.135875853240087" rx="2.02" ry="2.36" fill="#45c04a"/><ellipse cx="3.9519683505509744" cy="8.135875853240087" rx="1.80" ry="2.09" fill="#f0e21e"/><ellipse cx="2.6" cy="23.5" rx="2.40" ry="3.40" fill="#33b5e5"/><ellipse cx="2.6" cy="23.5" rx="2.16" ry="3.06" fill="#45c04a"/><ellipse cx="2.6" cy="23.5" rx="1.92" ry="2.72" fill="#f0e21e"/><ellipse cx="2.6" cy="23.5" rx="1.68" ry="2.38" fill="#e01a1a"/><ellipse cx="7.4" cy="23.5" rx="2.40" ry="3.40" fill="#33b5e5"/><ellipse cx="7.4" cy="23.5" rx="2.16" ry="3.06" fill="#45c04a"/><ellipse cx="7.4" cy="23.5" rx="1.92" ry="2.72" fill="#f0e21e"/><ellipse cx="7.4" cy="23.5" rx="1.68" ry="2.38" fill="#e01a1a"/><path d="M1,16 Q5,19.5 9,16 L9,17.5 Q5,21.5 1,17.5 Z" fill="#f2f2f6"/></g></symbol><symbol id="gw2" viewBox="0 0 10 28" preserveAspectRatio="none"><g clip-path="url(#mc2)"><rect width="10" height="28" fill="#2a5ad8"/><ellipse cx="6.274610176391906" cy="10.111417728167599" rx="1.70" ry="2.46" fill="#33b5e5"/><ellipse cx="6.274610176391906" cy="10.111417728167599" rx="1.53" ry="2.22" fill="#45c04a"/><ellipse cx="6.274610176391906" cy="10.111417728167599" rx="1.36" ry="1.97" fill="#f0e21e"/><ellipse cx="6.274610176391906" cy="10.111417728167599" rx="1.19" ry="1.72" fill="#e01a1a"/><ellipse cx="6.157218445449468" cy="7.623378257504566" rx="2.73" ry="2.99" fill="#33b5e5"/><ellipse cx="6.157218445449468" cy="7.623378257504566" rx="2.46" ry="2.69" fill="#45c04a"/><ellipse cx="6.157218445449468" cy="7.623378257504566" rx="2.19" ry="2.39" fill="#f0e21e"/><ellipse cx="4.734282561648079" cy="8.206819035224697" rx="1.72" ry="3.07" fill="#33b5e5"/><ellipse cx="4.734282561648079" cy="8.206819035224697" rx="1.55" ry="2.76" fill="#45c04a"/><ellipse cx="5.888476879536824" cy="11.791177511004282" rx="1.82" ry="2.76" fill="#33b5e5"/><ellipse cx="5.888476879536824" cy="11.791177511004282" rx="1.63" ry="2.49" fill="#45c04a"/><ellipse cx="5.888476879536824" cy="11.791177511004282" rx="1.45" ry="2.21" fill="#f0e21e"/><ellipse cx="5.888476879536824" cy="11.791177511004282" rx="1.27" ry="1.93" fill="#e01a1a"/><ellipse cx="5.463697750268006" cy="4.991104164009941" rx="1.87" ry="2.42" fill="#33b5e5"/><ellipse cx="2.6" cy="23.5" rx="2.40" ry="3.40" fill="#33b5e5"/><ellipse cx="2.6" cy="23.5" rx="2.16" ry="3.06" fill="#45c04a"/><ellipse cx="2.6" cy="23.5" rx="1.92" ry="2.72" fill="#f0e21e"/><ellipse cx="2.6" cy="23.5" rx="1.68" ry="2.38" fill="#e01a1a"/><ellipse cx="7.4" cy="23.5" rx="2.40" ry="3.40" fill="#33b5e5"/><ellipse cx="7.4" cy="23.5" rx="2.16" ry="3.06" fill="#45c04a"/><ellipse cx="7.4" cy="23.5" rx="1.92" ry="2.72" fill="#f0e21e"/><ellipse cx="7.4" cy="23.5" rx="1.68" ry="2.38" fill="#e01a1a"/><path d="M1,16 Q5,19.5 9,16 L9,17.5 Q5,21.5 1,17.5 Z" fill="#f2f2f6"/></g></symbol><symbol id="gw3" viewBox="0 0 10 28" preserveAspectRatio="none"><g clip-path="url(#mc2)"><rect width="10" height="28" fill="#2a5ad8"/><ellipse cx="4.669073947028857" cy="12.483221738036779" rx="2.01" ry="3.35" fill="#33b5e5"/><ellipse cx="4.669073947028857" cy="12.483221738036779" rx="1.81" ry="3.02" fill="#45c04a"/><ellipse cx="5.736237697506443" cy="12.435475428608873" rx="2.59" ry="2.74" fill="#33b5e5"/><ellipse cx="5.736237697506443" cy="12.435475428608873" rx="2.33" ry="2.47" fill="#45c04a"/><ellipse cx="5.736237697506443" cy="12.435475428608873" rx="2.07" ry="2.19" fill="#f0e21e"/><ellipse cx="7.106623143409956" cy="10.8532942620641" rx="2.47" ry="3.06" fill="#33b5e5"/><ellipse cx="7.106623143409956" cy="10.8532942620641" rx="2.23" ry="2.75" fill="#45c04a"/><ellipse cx="7.106623143409956" cy="10.8532942620641" rx="1.98" ry="2.45" fill="#f0e21e"/><ellipse cx="7.409755430696733" cy="12.686381144043539" rx="2.39" ry="3.05" fill="#33b5e5"/><ellipse cx="3.8035718474915416" cy="6.076359344755139" rx="1.97" ry="2.82" fill="#33b5e5"/><ellipse cx="3.8035718474915416" cy="6.076359344755139" rx="1.77" ry="2.54" fill="#45c04a"/><ellipse cx="3.8035718474915416" cy="6.076359344755139" rx="1.57" ry="2.25" fill="#f0e21e"/><ellipse cx="3.8035718474915416" cy="6.076359344755139" rx="1.38" ry="1.97" fill="#e01a1a"/><ellipse cx="2.6" cy="23.5" rx="2.40" ry="3.40" fill="#33b5e5"/><ellipse cx="2.6" cy="23.5" rx="2.16" ry="3.06" fill="#45c04a"/><ellipse cx="2.6" cy="23.5" rx="1.92" ry="2.72" fill="#f0e21e"/><ellipse cx="2.6" cy="23.5" rx="1.68" ry="2.38" fill="#e01a1a"/><ellipse cx="7.4" cy="23.5" rx="2.40" ry="3.40" fill="#33b5e5"/><ellipse cx="7.4" cy="23.5" rx="2.16" ry="3.06" fill="#45c04a"/><ellipse cx="7.4" cy="23.5" rx="1.92" ry="2.72" fill="#f0e21e"/><ellipse cx="7.4" cy="23.5" rx="1.68" ry="2.38" fill="#e01a1a"/><path d="M1,16 Q5,19.5 9,16 L9,17.5 Q5,21.5 1,17.5 Z" fill="#f2f2f6"/></g></symbol><symbol id="gw4" viewBox="0 0 10 28" preserveAspectRatio="none"><g clip-path="url(#mc2)"><rect width="10" height="28" fill="#2a5ad8"/><ellipse cx="3.524414021870576" cy="7.660306451276668" rx="1.95" ry="2.34" fill="#33b5e5"/><ellipse cx="3.524414021870576" cy="7.660306451276668" rx="1.76" ry="2.11" fill="#45c04a"/><ellipse cx="3.7693944486421604" cy="9.927219293512138" rx="1.96" ry="2.53" fill="#33b5e5"/><ellipse cx="3.7693944486421604" cy="9.927219293512138" rx="1.76" ry="2.27" fill="#45c04a"/><ellipse cx="5.370779026799693" cy="6.1798627738249365" rx="2.72" ry="3.60" fill="#33b5e5"/><ellipse cx="5.370779026799693" cy="6.1798627738249365" rx="2.45" ry="3.24" fill="#45c04a"/><ellipse cx="5.336846222910674" cy="4.293791241185878" rx="2.39" ry="3.29" fill="#33b5e5"/><ellipse cx="5.336846222910674" cy="4.293791241185878" rx="2.15" ry="2.96" fill="#45c04a"/><ellipse cx="3.7229968040393597" cy="10.341353070679718" rx="2.44" ry="2.66" fill="#33b5e5"/><ellipse cx="3.7229968040393597" cy="10.341353070679718" rx="2.19" ry="2.39" fill="#45c04a"/><ellipse cx="3.7229968040393597" cy="10.341353070679718" rx="1.95" ry="2.13" fill="#f0e21e"/><ellipse cx="2.6" cy="23.5" rx="2.40" ry="3.40" fill="#33b5e5"/><ellipse cx="2.6" cy="23.5" rx="2.16" ry="3.06" fill="#45c04a"/><ellipse cx="2.6" cy="23.5" rx="1.92" ry="2.72" fill="#f0e21e"/><ellipse cx="2.6" cy="23.5" rx="1.68" ry="2.38" fill="#e01a1a"/><ellipse cx="7.4" cy="23.5" rx="2.40" ry="3.40" fill="#33b5e5"/><ellipse cx="7.4" cy="23.5" rx="2.16" ry="3.06" fill="#45c04a"/><ellipse cx="7.4" cy="23.5" rx="1.92" ry="2.72" fill="#f0e21e"/><ellipse cx="7.4" cy="23.5" rx="1.68" ry="2.38" fill="#e01a1a"/><path d="M1,16 Q5,19.5 9,16 L9,17.5 Q5,21.5 1,17.5 Z" fill="#f2f2f6"/></g></symbol><symbol id="gw5" viewBox="0 0 10 28" preserveAspectRatio="none"><g clip-path="url(#mc2)"><rect width="10" height="28" fill="#2a5ad8"/><ellipse cx="3.830839040243377" cy="13.71281611445768" rx="2.14" ry="3.22" fill="#33b5e5"/><ellipse cx="3.830839040243377" cy="13.71281611445768" rx="1.93" ry="2.90" fill="#45c04a"/><ellipse cx="7.020286640872221" cy="9.977681614515516" rx="2.27" ry="2.98" fill="#33b5e5"/><ellipse cx="7.020286640872221" cy="9.977681614515516" rx="2.05" ry="2.69" fill="#45c04a"/><ellipse cx="7.020286640872221" cy="9.977681614515516" rx="1.82" ry="2.39" fill="#f0e21e"/><ellipse cx="3.342673328121415" cy="12.202925890039229" rx="2.68" ry="2.67" fill="#33b5e5"/><ellipse cx="3.342673328121415" cy="12.202925890039229" rx="2.41" ry="2.40" fill="#45c04a"/><ellipse cx="3.1132647743072264" cy="13.071171276582687" rx="1.95" ry="3.46" fill="#33b5e5"/><ellipse cx="3.1132647743072264" cy="13.071171276582687" rx="1.75" ry="3.11" fill="#45c04a"/><ellipse cx="6.2916276445084955" cy="7.994095065730079" rx="1.80" ry="3.04" fill="#33b5e5"/><ellipse cx="2.6" cy="23.5" rx="2.40" ry="3.40" fill="#33b5e5"/><ellipse cx="2.6" cy="23.5" rx="2.16" ry="3.06" fill="#45c04a"/><ellipse cx="2.6" cy="23.5" rx="1.92" ry="2.72" fill="#f0e21e"/><ellipse cx="2.6" cy="23.5" rx="1.68" ry="2.38" fill="#e01a1a"/><ellipse cx="7.4" cy="23.5" rx="2.40" ry="3.40" fill="#33b5e5"/><ellipse cx="7.4" cy="23.5" rx="2.16" ry="3.06" fill="#45c04a"/><ellipse cx="7.4" cy="23.5" rx="1.92" ry="2.72" fill="#f0e21e"/><ellipse cx="7.4" cy="23.5" rx="1.68" ry="2.38" fill="#e01a1a"/><path d="M1,16 Q5,19.5 9,16 L9,17.5 Q5,21.5 1,17.5 Z" fill="#f2f2f6"/></g></symbol><symbol id="gw6" viewBox="0 0 10 28" preserveAspectRatio="none"><g clip-path="url(#mc2)"><rect width="10" height="28" fill="#2a5ad8"/><ellipse cx="4.771756307483498" cy="8.43729285881479" rx="2.54" ry="3.50" fill="#33b5e5"/><ellipse cx="4.771756307483498" cy="8.43729285881479" rx="2.29" ry="3.15" fill="#45c04a"/><ellipse cx="4.038248164806715" cy="11.383580426282963" rx="2.49" ry="2.73" fill="#33b5e5"/><ellipse cx="3.292749270779438" cy="8.532063887627888" rx="1.64" ry="2.94" fill="#33b5e5"/><ellipse cx="5.347586922561154" cy="5.910571900745216" rx="2.22" ry="2.57" fill="#33b5e5"/><ellipse cx="5.347586922561154" cy="5.910571900745216" rx="2.00" ry="2.31" fill="#45c04a"/><ellipse cx="5.347586922561154" cy="5.910571900745216" rx="1.78" ry="2.06" fill="#f0e21e"/><ellipse cx="2.767365226213099" cy="12.623745384935253" rx="2.47" ry="3.30" fill="#33b5e5"/><ellipse cx="2.767365226213099" cy="12.623745384935253" rx="2.22" ry="2.97" fill="#45c04a"/><ellipse cx="2.767365226213099" cy="12.623745384935253" rx="1.97" ry="2.64" fill="#f0e21e"/><ellipse cx="2.767365226213099" cy="12.623745384935253" rx="1.73" ry="2.31" fill="#e01a1a"/><ellipse cx="2.6" cy="23.5" rx="2.40" ry="3.40" fill="#33b5e5"/><ellipse cx="2.6" cy="23.5" rx="2.16" ry="3.06" fill="#45c04a"/><ellipse cx="2.6" cy="23.5" rx="1.92" ry="2.72" fill="#f0e21e"/><ellipse cx="2.6" cy="23.5" rx="1.68" ry="2.38" fill="#e01a1a"/><ellipse cx="7.4" cy="23.5" rx="2.40" ry="3.40" fill="#33b5e5"/><ellipse cx="7.4" cy="23.5" rx="2.16" ry="3.06" fill="#45c04a"/><ellipse cx="7.4" cy="23.5" rx="1.92" ry="2.72" fill="#f0e21e"/><ellipse cx="7.4" cy="23.5" rx="1.68" ry="2.38" fill="#e01a1a"/><path d="M1,16 Q5,19.5 9,16 L9,17.5 Q5,21.5 1,17.5 Z" fill="#f2f2f6"/></g></symbol><symbol id="hw" viewBox="0 0 10 28" preserveAspectRatio="none"><g clip-path="url(#mc2)"><rect width="10" height="28" fill="#2636c8"/><ellipse cx="5" cy="9" rx="3.00" ry="4.00" fill="#33b5e5"/><ellipse cx="2.8" cy="23.5" rx="2.40" ry="3.20" fill="#33b5e5"/><ellipse cx="2.8" cy="23.5" rx="2.16" ry="2.88" fill="#45c04a"/><ellipse cx="2.8" cy="23.5" rx="1.92" ry="2.56" fill="#f0e21e"/><ellipse cx="2.8" cy="23.5" rx="1.68" ry="2.24" fill="#e01a1a"/><ellipse cx="7.2" cy="23.5" rx="2.40" ry="3.20" fill="#33b5e5"/><ellipse cx="7.2" cy="23.5" rx="2.16" ry="2.88" fill="#45c04a"/><ellipse cx="7.2" cy="23.5" rx="1.92" ry="2.56" fill="#f0e21e"/><ellipse cx="7.2" cy="23.5" rx="1.68" ry="2.24" fill="#e01a1a"/><ellipse cx="4" cy="8" rx="2" ry="2.5" fill="#f2f2f6"/><ellipse cx="5.5" cy="16.5" rx="3" ry="2" fill="#f2f2f6"/><ellipse cx="6.5" cy="12" rx="1.2" ry="1.5" fill="#45c04a"/></g></symbol><symbol id="hw2" viewBox="0 0 10 28" preserveAspectRatio="none"><use href="#h1" width="10" height="28"/><g clip-path="url(#mc2)"><ellipse cx="5" cy="16.5" rx="3" ry="1.3" fill="#f2f2f6"/></g></symbol><symbol id="R" viewBox="0 0 10 28" preserveAspectRatio="none"><g clip-path="url(#mc2)"><rect width="10" height="28" fill="#2636c8"/><path d="M5,0.8 C7.6,2.8 9.4,9 9.5,15 C9.6,21 9.4,25 9.2,27.7 L0.8,27.7 C0.6,25 0.4,21 0.5,15 C0.6,9 2.4,2.8 5,0.8 Z" fill="#33b5e5"/><path d="M5,1.6 C7.4,3.6 9.0,10 9.1,15 C9.2,21 9.0,25 8.8,27.7 L1.2,27.7 C1.0,25 0.8,21 0.9,15 C1.0,10 2.6,3.6 5,1.6 Z" fill="#e01a1a"/><ellipse cx="5" cy="4" rx="1.3" ry="1.3" fill="#f0e21e"/><ellipse cx="5" cy="14" rx="0.5" ry="0.5" fill="#f0e21e"/></g></symbol><symbol id="RF" viewBox="0 0 10 28" preserveAspectRatio="none"><rect x="0" y="0" width="10" height="28" fill="#2636c8"/><path d="M0.5,28 L0.5,8 C1.5,3 4,0.6 5,0.4 C6,0.6 8.5,3 9.5,8 L9.5,28 Z" fill="#33b5e5"/><path d="M1.0,28 L1.0,9 C2,4.5 4,1.8 5,1.6 C6,1.8 8,4.5 9.0,9 L9.0,28 Z" fill="#e01a1a"/></symbol><symbol id="R2" viewBox="0 0 10 28" preserveAspectRatio="none"><g clip-path="url(#mc2)"><rect width="10" height="28" fill="#2636c8"/><path d="M5,0.8 C7.6,2.8 9.4,9 9.5,15 C9.6,21 9.4,25 9.2,27.7 L0.8,27.7 C0.6,25 0.4,21 0.5,15 C0.6,9 2.4,2.8 5,0.8 Z" fill="#33b5e5"/><path d="M5,1.6 C7.4,3.6 9.0,10 9.1,15 C9.2,21 9.0,25 8.8,27.7 L1.2,27.7 C1.0,25 0.8,21 0.9,15 C1.0,10 2.6,3.6 5,1.6 Z" fill="#e01a1a"/><ellipse cx="2.2" cy="10" rx="1.2" ry="2.5" fill="#45c04a"/><ellipse cx="2.2" cy="10" rx="0.7" ry="1.6" fill="#f0e21e"/><ellipse cx="7.6" cy="18" rx="1.2" ry="2" fill="#f0e21e"/><ellipse cx="5" cy="25" rx="1.4" ry="1.4" fill="#45c04a"/></g></symbol><symbol id="R3" viewBox="0 0 10 28" preserveAspectRatio="none"><g clip-path="url(#mc2)"><rect width="10" height="28" fill="#2636c8"/><path d="M5,0.8 C7.6,2.8 9.4,9 9.5,15 C9.6,21 9.4,25 9.2,27.7 L0.8,27.7 C0.6,25 0.4,21 0.5,15 C0.6,9 2.4,2.8 5,0.8 Z" fill="#33b5e5"/><path d="M5,1.6 C7.4,3.6 9.0,10 9.1,15 C9.2,21 9.0,25 8.8,27.7 L1.2,27.7 C1.0,25 0.8,21 0.9,15 C1.0,10 2.6,3.6 5,1.6 Z" fill="#e01a1a"/><ellipse cx="5" cy="6" rx="2.5" ry="3" fill="#33b5e5"/><ellipse cx="5" cy="6" rx="1.5" ry="2" fill="#45c04a"/><ellipse cx="7.5" cy="19" rx="1.4" ry="3" fill="#45c04a"/><ellipse cx="2.5" cy="22" rx="1" ry="2" fill="#f0e21e"/></g></symbol><symbol id="R4" viewBox="0 0 10 28" preserveAspectRatio="none"><g clip-path="url(#mc2)"><rect width="10" height="28" fill="#2636c8"/><path d="M5,0.8 C7.6,2.8 9.4,9 9.5,15 C9.6,21 9.4,25 9.2,27.7 L0.8,27.7 C0.6,25 0.4,21 0.5,15 C0.6,9 2.4,2.8 5,0.8 Z" fill="#33b5e5"/><path d="M5,1.6 C7.4,3.6 9.0,10 9.1,15 C9.2,21 9.0,25 8.8,27.7 L1.2,27.7 C1.0,25 0.8,21 0.9,15 C1.0,10 2.6,3.6 5,1.6 Z" fill="#e01a1a"/><ellipse cx="3" cy="17" rx="1.6" ry="2" fill="#33b5e5"/><ellipse cx="3" cy="17" rx="0.9" ry="1.2" fill="#2636c8"/><ellipse cx="7" cy="9" rx="1" ry="2" fill="#f0e21e"/></g></symbol><symbol id="t1" viewBox="0 0 10 28" preserveAspectRatio="none"><path d="M5,0.3 C5.9,0.6 6.6,2.5 7.0,5 C7.2,6.5 7.4,7.5 8.2,9 C8.9,10.5 9.1,13 9.1,16 C9.2,20 9.1,23 8.9,25 C8.6,27.2 7.5,27.7 5,27.7 C2.5,27.7 1.4,27.2 1.1,25 C0.9,23 0.8,20 0.9,16 C0.9,13 1.1,10.5 1.8,9 C2.6,7.5 2.8,6.5 3.0,5 C3.4,2.5 4.1,0.6 5,0.3 Z" fill="url(#gm)"/><g clip-path="url(#mc)" fill="#bdbdbd" opacity="0.55"><ellipse cx="3.2" cy="12" rx="0.8" ry="3"/><ellipse cx="6.8" cy="17" rx="0.8" ry="3.5"/><ellipse cx="5" cy="25.5" rx="1" ry="2"/></g><g clip-path="url(#mc)"><ellipse cx="5" cy="12.5" rx="5.20" ry="6.00" fill="#2636c8"/><ellipse cx="5" cy="12.5" rx="4.33" ry="5.00" fill="#33b5e5"/><ellipse cx="5" cy="12.5" rx="3.47" ry="4.00" fill="#f0e21e"/><ellipse cx="5" cy="12.5" rx="2.60" ry="3.00" fill="#e01a1a"/><ellipse cx="5" cy="12.5" rx="1.73" ry="2.00" fill="#e01a1a"/><ellipse cx="5" cy="12.5" rx="0.87" ry="1.00" fill="#e01a1a"/><ellipse cx="5" cy="4" rx="3.00" ry="2.50" fill="#2636c8"/></g></symbol><symbol id="t2" viewBox="0 0 10 28" preserveAspectRatio="none"><path d="M5,0.3 C5.9,0.6 6.6,2.5 7.0,5 C7.2,6.5 7.4,7.5 8.2,9 C8.9,10.5 9.1,13 9.1,16 C9.2,20 9.1,23 8.9,25 C8.6,27.2 7.5,27.7 5,27.7 C2.5,27.7 1.4,27.2 1.1,25 C0.9,23 0.8,20 0.9,16 C0.9,13 1.1,10.5 1.8,9 C2.6,7.5 2.8,6.5 3.0,5 C3.4,2.5 4.1,0.6 5,0.3 Z" fill="url(#gm)"/><g clip-path="url(#mc)" fill="#bdbdbd" opacity="0.55"><ellipse cx="3.2" cy="12" rx="0.8" ry="3"/><ellipse cx="6.8" cy="17" rx="0.8" ry="3.5"/><ellipse cx="5" cy="25.5" rx="1" ry="2"/></g><g clip-path="url(#mc)"><ellipse cx="5" cy="14" rx="4.80" ry="4.50" fill="#2636c8"/><ellipse cx="5" cy="14" rx="3.84" ry="3.60" fill="#33b5e5"/><ellipse cx="5" cy="14" rx="2.88" ry="2.70" fill="#e01a1a"/><ellipse cx="5" cy="14" rx="1.92" ry="1.80" fill="#e01a1a"/><ellipse cx="5" cy="14" rx="0.96" ry="0.90" fill="#e01a1a"/><ellipse cx="5" cy="21" rx="3.50" ry="1.50" fill="#2636c8"/></g></symbol><symbol id="t3" viewBox="0 0 10 28" preserveAspectRatio="none"><path d="M5,0.3 C5.9,0.6 6.6,2.5 7.0,5 C7.2,6.5 7.4,7.5 8.2,9 C8.9,10.5 9.1,13 9.1,16 C9.2,20 9.1,23 8.9,25 C8.6,27.2 7.5,27.7 5,27.7 C2.5,27.7 1.4,27.2 1.1,25 C0.9,23 0.8,20 0.9,16 C0.9,13 1.1,10.5 1.8,9 C2.6,7.5 2.8,6.5 3.0,5 C3.4,2.5 4.1,0.6 5,0.3 Z" fill="url(#gm)"/><g clip-path="url(#mc)" fill="#bdbdbd" opacity="0.55"><ellipse cx="3.2" cy="12" rx="0.8" ry="3"/><ellipse cx="6.8" cy="17" rx="0.8" ry="3.5"/><ellipse cx="5" cy="25.5" rx="1" ry="2"/></g><g clip-path="url(#mc)"><ellipse cx="5" cy="11" rx="4.80" ry="2.20" fill="#2636c8"/><ellipse cx="5" cy="11" rx="3.20" ry="1.47" fill="#2636c8"/><ellipse cx="5" cy="11" rx="1.60" ry="0.73" fill="#33b5e5"/></g></symbol><symbol id="t4" viewBox="0 0 10 28" preserveAspectRatio="none"><path d="M5,0.3 C5.9,0.6 6.6,2.5 7.0,5 C7.2,6.5 7.4,7.5 8.2,9 C8.9,10.5 9.1,13 9.1,16 C9.2,20 9.1,23 8.9,25 C8.6,27.2 7.5,27.7 5,27.7 C2.5,27.7 1.4,27.2 1.1,25 C0.9,23 0.8,20 0.9,16 C0.9,13 1.1,10.5 1.8,9 C2.6,7.5 2.8,6.5 3.0,5 C3.4,2.5 4.1,0.6 5,0.3 Z" fill="url(#gm)"/><g clip-path="url(#mc)" fill="#bdbdbd" opacity="0.55"><ellipse cx="3.2" cy="12" rx="0.8" ry="3"/><ellipse cx="6.8" cy="17" rx="0.8" ry="3.5"/><ellipse cx="5" cy="25.5" rx="1" ry="2"/></g><g clip-path="url(#mc)"><ellipse cx="5" cy="14" rx="5.00" ry="6.00" fill="#2636c8"/><ellipse cx="5" cy="14" rx="3.75" ry="4.50" fill="#4a8fe0"/><ellipse cx="5" cy="14" rx="2.50" ry="3.00" fill="#f2f2f6"/><ellipse cx="5" cy="14" rx="1.25" ry="1.50" fill="#f2f2f6"/><ellipse cx="5" cy="4.5" rx="2.60" ry="3.00" fill="#2636c8"/><ellipse cx="5" cy="4.5" rx="1.95" ry="2.25" fill="#f0e21e"/><ellipse cx="5" cy="4.5" rx="1.30" ry="1.50" fill="#e01a1a"/><ellipse cx="5" cy="4.5" rx="0.65" ry="0.75" fill="#e01a1a"/><ellipse cx="2" cy="20" rx="1.00" ry="1.00" fill="#2636c8"/><ellipse cx="8" cy="21" rx="1.00" ry="1.00" fill="#2636c8"/></g></symbol><symbol id="t5" viewBox="0 0 10 28" preserveAspectRatio="none"><path d="M5,0.3 C5.9,0.6 6.6,2.5 7.0,5 C7.2,6.5 7.4,7.5 8.2,9 C8.9,10.5 9.1,13 9.1,16 C9.2,20 9.1,23 8.9,25 C8.6,27.2 7.5,27.7 5,27.7 C2.5,27.7 1.4,27.2 1.1,25 C0.9,23 0.8,20 0.9,16 C0.9,13 1.1,10.5 1.8,9 C2.6,7.5 2.8,6.5 3.0,5 C3.4,2.5 4.1,0.6 5,0.3 Z" fill="url(#gm)"/><g clip-path="url(#mc)" fill="#bdbdbd" opacity="0.55"><ellipse cx="3.2" cy="12" rx="0.8" ry="3"/><ellipse cx="6.8" cy="17" rx="0.8" ry="3.5"/><ellipse cx="5" cy="25.5" rx="1" ry="2"/></g><g clip-path="url(#mc)"><ellipse cx="5" cy="11" rx="4.50" ry="7.00" fill="#2636c8"/><ellipse cx="5" cy="11" rx="3.75" ry="5.83" fill="#33b5e5"/><ellipse cx="5" cy="11" rx="3.00" ry="4.67" fill="#45c04a"/><ellipse cx="5" cy="11" rx="2.25" ry="3.50" fill="#f0e21e"/><ellipse cx="5" cy="11" rx="1.50" ry="2.33" fill="#e01a1a"/><ellipse cx="5" cy="11" rx="0.75" ry="1.17" fill="#e01a1a"/><ellipse cx="5" cy="22" rx="4.00" ry="4.00" fill="#2636c8"/><ellipse cx="5" cy="22" rx="2.67" ry="2.67" fill="#45c04a"/><ellipse cx="5" cy="22" rx="1.33" ry="1.33" fill="#e01a1a"/></g></symbol><symbol id="t6" viewBox="0 0 10 28" preserveAspectRatio="none"><path d="M5,0.3 C5.9,0.6 6.6,2.5 7.0,5 C7.2,6.5 7.4,7.5 8.2,9 C8.9,10.5 9.1,13 9.1,16 C9.2,20 9.1,23 8.9,25 C8.6,27.2 7.5,27.7 5,27.7 C2.5,27.7 1.4,27.2 1.1,25 C0.9,23 0.8,20 0.9,16 C0.9,13 1.1,10.5 1.8,9 C2.6,7.5 2.8,6.5 3.0,5 C3.4,2.5 4.1,0.6 5,0.3 Z" fill="url(#gm)"/><g clip-path="url(#mc)" fill="#bdbdbd" opacity="0.55"><ellipse cx="3.2" cy="12" rx="0.8" ry="3"/><ellipse cx="6.8" cy="17" rx="0.8" ry="3.5"/><ellipse cx="5" cy="25.5" rx="1" ry="2"/></g><g clip-path="url(#mc)"><ellipse cx="5" cy="7" rx="4.00" ry="3.50" fill="#2636c8"/><ellipse cx="5" cy="7" rx="3.00" ry="2.62" fill="#45c04a"/><ellipse cx="5" cy="7" rx="2.00" ry="1.75" fill="#f0e21e"/><ellipse cx="5" cy="7" rx="1.00" ry="0.88" fill="#e01a1a"/></g></symbol><symbol id="t7" viewBox="0 0 10 28" preserveAspectRatio="none"><path d="M5,0.3 C5.9,0.6 6.6,2.5 7.0,5 C7.2,6.5 7.4,7.5 8.2,9 C8.9,10.5 9.1,13 9.1,16 C9.2,20 9.1,23 8.9,25 C8.6,27.2 7.5,27.7 5,27.7 C2.5,27.7 1.4,27.2 1.1,25 C0.9,23 0.8,20 0.9,16 C0.9,13 1.1,10.5 1.8,9 C2.6,7.5 2.8,6.5 3.0,5 C3.4,2.5 4.1,0.6 5,0.3 Z" fill="url(#gm)"/><g clip-path="url(#mc)" fill="#bdbdbd" opacity="0.55"><ellipse cx="3.2" cy="12" rx="0.8" ry="3"/><ellipse cx="6.8" cy="17" rx="0.8" ry="3.5"/><ellipse cx="5" cy="25.5" rx="1" ry="2"/></g><g clip-path="url(#mc)"><ellipse cx="5" cy="21" rx="4.00" ry="4.00" fill="#2636c8"/><ellipse cx="5" cy="21" rx="3.20" ry="3.20" fill="#33b5e5"/><ellipse cx="5" cy="21" rx="2.40" ry="2.40" fill="#f0e21e"/><ellipse cx="5" cy="21" rx="1.60" ry="1.60" fill="#e01a1a"/><ellipse cx="5" cy="21" rx="0.80" ry="0.80" fill="#e01a1a"/></g></symbol><symbol id="t8" viewBox="0 0 10 28" preserveAspectRatio="none"><path d="M5,0.3 C5.9,0.6 6.6,2.5 7.0,5 C7.2,6.5 7.4,7.5 8.2,9 C8.9,10.5 9.1,13 9.1,16 C9.2,20 9.1,23 8.9,25 C8.6,27.2 7.5,27.7 5,27.7 C2.5,27.7 1.4,27.2 1.1,25 C0.9,23 0.8,20 0.9,16 C0.9,13 1.1,10.5 1.8,9 C2.6,7.5 2.8,6.5 3.0,5 C3.4,2.5 4.1,0.6 5,0.3 Z" fill="url(#gm)"/><g clip-path="url(#mc)" fill="#bdbdbd" opacity="0.55"><ellipse cx="3.2" cy="12" rx="0.8" ry="3"/><ellipse cx="6.8" cy="17" rx="0.8" ry="3.5"/><ellipse cx="5" cy="25.5" rx="1" ry="2"/></g><g clip-path="url(#mc)"><ellipse cx="6" cy="12" rx="1.30" ry="1.30" fill="#2636c8"/></g></symbol><symbol id="t9" viewBox="0 0 10 28" preserveAspectRatio="none"><path d="M5,0.3 C5.9,0.6 6.6,2.5 7.0,5 C7.2,6.5 7.4,7.5 8.2,9 C8.9,10.5 9.1,13 9.1,16 C9.2,20 9.1,23 8.9,25 C8.6,27.2 7.5,27.7 5,27.7 C2.5,27.7 1.4,27.2 1.1,25 C0.9,23 0.8,20 0.9,16 C0.9,13 1.1,10.5 1.8,9 C2.6,7.5 2.8,6.5 3.0,5 C3.4,2.5 4.1,0.6 5,0.3 Z" fill="url(#gm)"/><g clip-path="url(#mc)" fill="#bdbdbd" opacity="0.55"><ellipse cx="3.2" cy="12" rx="0.8" ry="3"/><ellipse cx="6.8" cy="17" rx="0.8" ry="3.5"/><ellipse cx="5" cy="25.5" rx="1" ry="2"/></g><g clip-path="url(#mc)"><ellipse cx="5" cy="8" rx="2.20" ry="2.20" fill="#2636c8"/><ellipse cx="5" cy="8" rx="1.47" ry="1.47" fill="#33b5e5"/><ellipse cx="5" cy="8" rx="0.73" ry="0.73" fill="#f2f2f6"/></g></symbol><symbol id="t10" viewBox="0 0 10 28" preserveAspectRatio="none"><path d="M5,0.3 C5.9,0.6 6.6,2.5 7.0,5 C7.2,6.5 7.4,7.5 8.2,9 C8.9,10.5 9.1,13 9.1,16 C9.2,20 9.1,23 8.9,25 C8.6,27.2 7.5,27.7 5,27.7 C2.5,27.7 1.4,27.2 1.1,25 C0.9,23 0.8,20 0.9,16 C0.9,13 1.1,10.5 1.8,9 C2.6,7.5 2.8,6.5 3.0,5 C3.4,2.5 4.1,0.6 5,0.3 Z" fill="url(#gm)"/><g clip-path="url(#mc)" fill="#bdbdbd" opacity="0.55"><ellipse cx="3.2" cy="12" rx="0.8" ry="3"/><ellipse cx="6.8" cy="17" rx="0.8" ry="3.5"/><ellipse cx="5" cy="25.5" rx="1" ry="2"/></g><g clip-path="url(#mc)"><ellipse cx="5" cy="14" rx="5.00" ry="9.00" fill="#2636c8"/><ellipse cx="5" cy="14" rx="4.00" ry="7.20" fill="#2636c8"/><ellipse cx="5" cy="14" rx="3.00" ry="5.40" fill="#45c04a"/><ellipse cx="5" cy="14" rx="2.00" ry="3.60" fill="#f0e21e"/><ellipse cx="5" cy="14" rx="1.00" ry="1.80" fill="#e01a1a"/><ellipse cx="5" cy="6" rx="3.00" ry="3.00" fill="#e01a1a"/></g></symbol><symbol id="t11" viewBox="0 0 10 28" preserveAspectRatio="none"><path d="M5,0.3 C5.9,0.6 6.6,2.5 7.0,5 C7.2,6.5 7.4,7.5 8.2,9 C8.9,10.5 9.1,13 9.1,16 C9.2,20 9.1,23 8.9,25 C8.6,27.2 7.5,27.7 5,27.7 C2.5,27.7 1.4,27.2 1.1,25 C0.9,23 0.8,20 0.9,16 C0.9,13 1.1,10.5 1.8,9 C2.6,7.5 2.8,6.5 3.0,5 C3.4,2.5 4.1,0.6 5,0.3 Z" fill="url(#gm)"/><g clip-path="url(#mc)" fill="#bdbdbd" opacity="0.55"><ellipse cx="3.2" cy="12" rx="0.8" ry="3"/><ellipse cx="6.8" cy="17" rx="0.8" ry="3.5"/><ellipse cx="5" cy="25.5" rx="1" ry="2"/></g><g clip-path="url(#mc)"><ellipse cx="7" cy="15" rx="2.00" ry="1.50" fill="#2636c8"/></g></symbol><symbol id="t12" viewBox="0 0 10 28" preserveAspectRatio="none"><path d="M5,0.3 C5.9,0.6 6.6,2.5 7.0,5 C7.2,6.5 7.4,7.5 8.2,9 C8.9,10.5 9.1,13 9.1,16 C9.2,20 9.1,23 8.9,25 C8.6,27.2 7.5,27.7 5,27.7 C2.5,27.7 1.4,27.2 1.1,25 C0.9,23 0.8,20 0.9,16 C0.9,13 1.1,10.5 1.8,9 C2.6,7.5 2.8,6.5 3.0,5 C3.4,2.5 4.1,0.6 5,0.3 Z" fill="url(#gm)"/><g clip-path="url(#mc)" fill="#bdbdbd" opacity="0.55"><ellipse cx="3.2" cy="12" rx="0.8" ry="3"/><ellipse cx="6.8" cy="17" rx="0.8" ry="3.5"/><ellipse cx="5" cy="25.5" rx="1" ry="2"/></g><g clip-path="url(#mc)"><ellipse cx="4" cy="7" rx="1.00" ry="1.00" fill="#2636c8"/></g></symbol><symbol id="t13" viewBox="0 0 10 28" preserveAspectRatio="none"><path d="M5,0.3 C5.9,0.6 6.6,2.5 7.0,5 C7.2,6.5 7.4,7.5 8.2,9 C8.9,10.5 9.1,13 9.1,16 C9.2,20 9.1,23 8.9,25 C8.6,27.2 7.5,27.7 5,27.7 C2.5,27.7 1.4,27.2 1.1,25 C0.9,23 0.8,20 0.9,16 C0.9,13 1.1,10.5 1.8,9 C2.6,7.5 2.8,6.5 3.0,5 C3.4,2.5 4.1,0.6 5,0.3 Z" fill="url(#gm)"/><g clip-path="url(#mc)" fill="#bdbdbd" opacity="0.55"><ellipse cx="3.2" cy="12" rx="0.8" ry="3"/><ellipse cx="6.8" cy="17" rx="0.8" ry="3.5"/><ellipse cx="5" cy="25.5" rx="1" ry="2"/></g><g clip-path="url(#mc)"><ellipse cx="5" cy="14" rx="5.50" ry="14.00" fill="#2636c8"/><ellipse cx="5" cy="14" rx="4.71" ry="12.00" fill="#33b5e5"/><ellipse cx="5" cy="14" rx="3.93" ry="10.00" fill="#e01a1a"/><ellipse cx="5" cy="14" rx="3.14" ry="8.00" fill="#e01a1a"/><ellipse cx="5" cy="14" rx="2.36" ry="6.00" fill="#e01a1a"/><ellipse cx="5" cy="14" rx="1.57" ry="4.00" fill="#e01a1a"/><ellipse cx="5" cy="14" rx="0.79" ry="2.00" fill="#e01a1a"/><ellipse cx="5" cy="24" rx="4.50" ry="4.00" fill="#2636c8"/><ellipse cx="5" cy="24" rx="3.00" ry="2.67" fill="#e01a1a"/><ellipse cx="5" cy="24" rx="1.50" ry="1.33" fill="#e01a1a"/></g></symbol></defs><rect width="520" height="401" fill="#fff"/>
<rect x="0.00" y="0.00" width="520.00" height="1.00" fill="#000"/>
<rect x="0.00" y="0.00" width="1.00" height="401.00" fill="#000"/>
<rect x="519.00" y="0.00" width="1.00" height="401.00" fill="#000"/>
<rect x="0.00" y="400.00" width="520.00" height="1.00" fill="#000"/>
<rect x="167.90" y="17.90" width="32.00" height="22.80" fill="#2a2a2a"/>
<use href="#g" x="167.90" y="17.90" width="8.00" height="22.80"/>
<use href="#g" x="175.90" y="17.90" width="8.00" height="22.80"/>
<use href="#g" x="183.90" y="17.90" width="8.00" height="22.80"/>
<use href="#g" x="191.90" y="17.90" width="8.00" height="22.80"/>
<rect x="201.00" y="17.90" width="32.00" height="22.80" fill="#2a2a2a"/>
<use href="#g" x="201.00" y="17.90" width="8.00" height="22.80"/>
<use href="#g" x="209.00" y="17.90" width="8.00" height="22.80"/>
<use href="#g" x="217.00" y="17.90" width="8.00" height="22.80"/>
<use href="#g" x="225.00" y="17.90" width="8.00" height="22.80"/>
<rect x="234.90" y="17.90" width="39.10" height="22.80" fill="#2a2a2a"/>
<use href="#g" x="234.90" y="17.90" width="7.82" height="22.80"/>
<use href="#g" x="242.72" y="17.90" width="7.82" height="22.80"/>
<use href="#g" x="250.54" y="17.90" width="7.82" height="22.80"/>
<use href="#g" x="258.36" y="17.90" width="7.82" height="22.80"/>
<use href="#g" x="266.18" y="17.90" width="7.82" height="22.80"/>
<rect x="275.70" y="17.90" width="39.70" height="22.80" fill="#2a2a2a"/>
<use href="#g" x="275.70" y="17.90" width="7.94" height="22.80"/>
<use href="#g" x="283.64" y="17.90" width="7.94" height="22.80"/>
<use href="#g" x="291.58" y="17.90" width="7.94" height="22.80"/>
<use href="#g" x="299.52" y="17.90" width="7.94" height="22.80"/>
<use href="#g" x="307.46" y="17.90" width="7.94" height="22.80"/>
<rect x="167.90" y="42.10" width="32.00" height="22.20" fill="#2a2a2a"/>
<use href="#bb0" x="167.90" y="42.10" width="8.00" height="22.20"/>
<use href="#bb1" x="175.90" y="42.10" width="8.00" height="22.20"/>
<use href="#bb2" x="183.90" y="42.10" width="8.00" height="22.20"/>
<use href="#bb3" x="191.90" y="42.10" width="8.00" height="22.20"/>
<rect x="201.00" y="42.10" width="32.00" height="22.20" fill="#2a2a2a"/>
<use href="#hw" x="201.00" y="42.10" width="8.00" height="22.20"/>
<use href="#bb4" x="209.00" y="42.10" width="8.00" height="22.20"/>
<use href="#bb5" x="217.00" y="42.10" width="8.00" height="22.20"/>
<use href="#bb6" x="225.00" y="42.10" width="8.00" height="22.20"/>
<rect x="234.90" y="42.10" width="39.10" height="22.20" fill="#2a2a2a"/>
<use href="#g" x="234.90" y="42.10" width="7.82" height="22.20"/>
<use href="#g" x="242.72" y="42.10" width="7.82" height="22.20"/>
<use href="#t8" x="250.54" y="42.10" width="7.82" height="22.20"/>
<use href="#t12" x="258.36" y="42.10" width="7.82" height="22.20"/>
<use href="#g" x="266.18" y="42.10" width="7.82" height="22.20"/>
<rect x="275.70" y="42.10" width="39.70" height="22.20" fill="#2a2a2a"/>
<use href="#g" x="275.70" y="42.10" width="7.94" height="22.20"/>
<use href="#g" x="283.64" y="42.10" width="7.94" height="22.20"/>
<use href="#g" x="291.58" y="42.10" width="7.94" height="22.20"/>
<use href="#g" x="299.52" y="42.10" width="7.94" height="22.20"/>
<use href="#g" x="307.46" y="42.10" width="7.94" height="22.20"/>
<rect x="209.20" y="65.70" width="8.30" height="22.40" fill="#2a2a2a"/>
<use href="#RF" x="209.20" y="65.70" width="8.30" height="22.40"/>
<rect x="234.90" y="65.70" width="39.10" height="22.40" fill="#2a2a2a"/>
<use href="#t3" x="234.90" y="65.70" width="7.82" height="22.40"/>
<use href="#g" x="242.72" y="65.70" width="7.82" height="22.40"/>
<use href="#t2" x="250.54" y="65.70" width="7.82" height="22.40"/>
<use href="#t3" x="258.36" y="65.70" width="7.82" height="22.40"/>
<use href="#t2" x="266.18" y="65.70" width="7.82" height="22.40"/>
<rect x="275.70" y="65.70" width="39.70" height="22.40" fill="#2a2a2a"/>
<use href="#g" x="275.70" y="65.70" width="7.94" height="22.40"/>
<use href="#g" x="283.64" y="65.70" width="7.94" height="22.40"/>
<use href="#g" x="291.58" y="65.70" width="7.94" height="22.40"/>
<use href="#g" x="299.52" y="65.70" width="7.94" height="22.40"/>
<use href="#g" x="307.46" y="65.70" width="7.94" height="22.40"/>
<rect x="234.90" y="89.60" width="16.20" height="21.90" fill="#2a2a2a"/>
<use href="#t1" x="234.90" y="89.60" width="8.10" height="21.90"/>
<use href="#g" x="243.00" y="89.60" width="8.10" height="21.90"/>
<rect x="258.20" y="89.60" width="8.80" height="21.90" fill="#2a2a2a"/>
<use href="#t13" x="258.20" y="89.60" width="8.80" height="21.90"/>
<rect x="275.70" y="89.60" width="39.70" height="21.90" fill="#2a2a2a"/>
<use href="#g" x="275.70" y="89.60" width="7.94" height="21.90"/>
<use href="#g" x="283.64" y="89.60" width="7.94" height="21.90"/>
<use href="#g" x="291.58" y="89.60" width="7.94" height="21.90"/>
<use href="#g" x="299.52" y="89.60" width="7.94" height="21.90"/>
<use href="#g" x="307.46" y="89.60" width="7.94" height="21.90"/>
<text x="169.60" y="12.50" font-size="6.8" font-weight="normal" fill="#231f20" stroke="#231f20" stroke-width="0.15" textLength="28.50" lengthAdjust="spacingAndGlyphs">No T cells</text>
<line x1="169.00" y1="15.30" x2="199.50" y2="15.30" stroke="#231f20" stroke-width="1.0"/>
<text x="204.20" y="12.50" font-size="6.8" font-weight="normal" fill="#231f20" stroke="#231f20" stroke-width="0.15" textLength="27.00" lengthAdjust="spacingAndGlyphs">GFP only</text>
<line x1="202.00" y1="15.30" x2="232.60" y2="15.30" stroke="#231f20" stroke-width="1.0"/>
<text x="248.50" y="12.50" font-size="6.8" font-weight="normal" fill="#231f20" stroke="#231f20" stroke-width="0.15" textLength="12.00" lengthAdjust="spacingAndGlyphs">CAR</text>
<line x1="235.00" y1="15.30" x2="274.00" y2="15.30" stroke="#231f20" stroke-width="1.0"/>
<text x="277.40" y="12.50" font-size="6.8" font-weight="normal" fill="#231f20" stroke="#231f20" stroke-width="0.15" textLength="36.90" lengthAdjust="spacingAndGlyphs">EpoRm-CAR</text>
<line x1="276.00" y1="15.30" x2="315.20" y2="15.30" stroke="#231f20" stroke-width="1.0"/>
<text x="161.00" y="33.10" font-size="7.2" font-weight="normal" fill="#231f20" stroke="#231f20" stroke-width="0.15" textLength="3.10" lengthAdjust="spacingAndGlyphs">7</text>
<text x="158.20" y="57.80" font-size="7.2" font-weight="normal" fill="#231f20" stroke="#231f20" stroke-width="0.15" textLength="6.10" lengthAdjust="spacingAndGlyphs">14</text>
<text x="158.20" y="81.80" font-size="7.2" font-weight="normal" fill="#231f20" stroke="#231f20" stroke-width="0.15" textLength="6.10" lengthAdjust="spacingAndGlyphs">23</text>
<text x="158.20" y="105.70" font-size="7.2" font-weight="normal" fill="#231f20" stroke="#231f20" stroke-width="0.15" textLength="6.10" lengthAdjust="spacingAndGlyphs">31</text>
<text transform="translate(151.60,97.60) rotate(-90)" x="0" y="0" font-size="8.6" fill="#231f20" stroke="#231f20" stroke-width="0.15" textLength="65.60" lengthAdjust="spacingAndGlyphs">Days after ALL infusion</text>
<rect x="283.30" y="151.00" width="47.60" height="22.50" fill="#2a2a2a"/>
<use href="#b3" x="283.30" y="151.00" width="7.93" height="22.50"/>
<use href="#b" x="291.23" y="151.00" width="7.93" height="22.50"/>
<use href="#b" x="299.17" y="151.00" width="7.93" height="22.50"/>
<use href="#b2" x="307.10" y="151.00" width="7.93" height="22.50"/>
<use href="#b" x="315.03" y="151.00" width="7.93" height="22.50"/>
<use href="#b2" x="322.97" y="151.00" width="7.93" height="22.50"/>
<rect x="333.00" y="151.00" width="55.80" height="22.50" fill="#2a2a2a"/>
<use href="#b2" x="333.00" y="151.00" width="7.97" height="22.50"/>
<use href="#b" x="340.97" y="151.00" width="7.97" height="22.50"/>
<use href="#b" x="348.94" y="151.00" width="7.97" height="22.50"/>
<use href="#b3" x="356.91" y="151.00" width="7.97" height="22.50"/>
<use href="#b" x="364.89" y="151.00" width="7.97" height="22.50"/>
<use href="#b2" x="372.86" y="151.00" width="7.97" height="22.50"/>
<use href="#b" x="380.83" y="151.00" width="7.97" height="22.50"/>
<rect x="390.10" y="151.00" width="64.40" height="22.50" fill="#2a2a2a"/>
<use href="#b" x="390.10" y="151.00" width="8.05" height="22.50"/>
<use href="#b" x="398.15" y="151.00" width="8.05" height="22.50"/>
<use href="#b" x="406.20" y="151.00" width="8.05" height="22.50"/>
<use href="#b" x="414.25" y="151.00" width="8.05" height="22.50"/>
<use href="#b" x="422.30" y="151.00" width="8.05" height="22.50"/>
<use href="#b" x="430.35" y="151.00" width="8.05" height="22.50"/>
<use href="#b" x="438.40" y="151.00" width="8.05" height="22.50"/>
<use href="#b" x="446.45" y="151.00" width="8.05" height="22.50"/>
<rect x="455.90" y="151.00" width="57.00" height="22.50" fill="#2a2a2a"/>
<use href="#b" x="455.90" y="151.00" width="8.14" height="22.50"/>
<use href="#b" x="464.04" y="151.00" width="8.14" height="22.50"/>
<use href="#b2" x="472.19" y="151.00" width="8.14" height="22.50"/>
<use href="#b" x="480.33" y="151.00" width="8.14" height="22.50"/>
<use href="#b" x="488.47" y="151.00" width="8.14" height="22.50"/>
<use href="#b" x="496.61" y="151.00" width="8.14" height="22.50"/>
<use href="#b" x="504.76" y="151.00" width="8.14" height="22.50"/>
<rect x="283.30" y="175.00" width="47.60" height="22.10" fill="#2a2a2a"/>
<use href="#R3" x="283.30" y="175.00" width="7.93" height="22.10"/>
<use href="#e0" x="291.23" y="175.00" width="7.93" height="22.10"/>
<use href="#e1" x="299.17" y="175.00" width="7.93" height="22.10"/>
<use href="#hw2" x="307.10" y="175.00" width="7.93" height="22.10"/>
<use href="#e2" x="315.03" y="175.00" width="7.93" height="22.10"/>
<use href="#h0" x="322.97" y="175.00" width="7.93" height="22.10"/>
<rect x="333.00" y="175.00" width="55.80" height="22.10" fill="#2a2a2a"/>
<use href="#gw0" x="333.00" y="175.00" width="7.97" height="22.10"/>
<use href="#gw1" x="340.97" y="175.00" width="7.97" height="22.10"/>
<use href="#gw2" x="348.94" y="175.00" width="7.97" height="22.10"/>
<use href="#gw3" x="356.91" y="175.00" width="7.97" height="22.10"/>
<use href="#gw4" x="364.89" y="175.00" width="7.97" height="22.10"/>
<use href="#gw5" x="372.86" y="175.00" width="7.97" height="22.10"/>
<use href="#gw6" x="380.83" y="175.00" width="7.97" height="22.10"/>
<rect x="390.10" y="175.00" width="64.40" height="22.10" fill="#2a2a2a"/>
<use href="#g" x="390.10" y="175.00" width="8.05" height="22.10"/>
<use href="#g" x="398.15" y="175.00" width="8.05" height="22.10"/>
<use href="#g" x="406.20" y="175.00" width="8.05" height="22.10"/>
<use href="#g" x="414.25" y="175.00" width="8.05" height="22.10"/>
<use href="#g" x="422.30" y="175.00" width="8.05" height="22.10"/>
<use href="#g" x="430.35" y="175.00" width="8.05" height="22.10"/>
<use href="#g" x="438.40" y="175.00" width="8.05" height="22.10"/>
<use href="#g" x="446.45" y="175.00" width="8.05" height="22.10"/>
<rect x="455.90" y="175.00" width="57.00" height="22.10" fill="#2a2a2a"/>
<use href="#g" x="455.90" y="175.00" width="8.14" height="22.10"/>
<use href="#g" x="464.04" y="175.00" width="8.14" height="22.10"/>
<use href="#g" x="472.19" y="175.00" width="8.14" height="22.10"/>
<use href="#g" x="480.33" y="175.00" width="8.14" height="22.10"/>
<use href="#g" x="488.47" y="175.00" width="8.14" height="22.10"/>
<use href="#g" x="496.61" y="175.00" width="8.14" height="22.10"/>
<use href="#g" x="504.76" y="175.00" width="8.14" height="22.10"/>
<rect x="291.25" y="198.30" width="8.35" height="22.70" fill="#2a2a2a"/>
<use href="#R" x="291.25" y="198.30" width="8.35" height="22.70"/>
<rect x="306.90" y="198.30" width="24.00" height="22.70" fill="#2a2a2a"/>
<use href="#R2" x="306.90" y="198.30" width="8.00" height="22.70"/>
<use href="#R" x="314.90" y="198.30" width="8.00" height="22.70"/>
<use href="#R3" x="322.90" y="198.30" width="8.00" height="22.70"/>
<rect x="333.00" y="198.30" width="55.80" height="22.70" fill="#2a2a2a"/>
<use href="#R" x="333.00" y="198.30" width="7.97" height="22.70"/>
<use href="#R2" x="340.97" y="198.30" width="7.97" height="22.70"/>
<use href="#R4" x="348.94" y="198.30" width="7.97" height="22.70"/>
<use href="#R2" x="356.91" y="198.30" width="7.97" height="22.70"/>
<use href="#R3" x="364.89" y="198.30" width="7.97" height="22.70"/>
<use href="#R2" x="372.86" y="198.30" width="7.97" height="22.70"/>
<use href="#R" x="380.83" y="198.30" width="7.97" height="22.70"/>
<rect x="390.10" y="198.30" width="64.40" height="22.70" fill="#2a2a2a"/>
<use href="#g" x="390.10" y="198.30" width="8.05" height="22.70"/>
<use href="#g" x="398.15" y="198.30" width="8.05" height="22.70"/>
<use href="#g" x="406.20" y="198.30" width="8.05" height="22.70"/>
<use href="#g" x="414.25" y="198.30" width="8.05" height="22.70"/>
<use href="#g" x="422.30" y="198.30" width="8.05" height="22.70"/>
<use href="#g" x="430.35" y="198.30" width="8.05" height="22.70"/>
<use href="#g" x="438.40" y="198.30" width="8.05" height="22.70"/>
<use href="#g" x="446.45" y="198.30" width="8.05" height="22.70"/>
<rect x="455.90" y="198.30" width="57.00" height="22.70" fill="#2a2a2a"/>
<use href="#g" x="455.90" y="198.30" width="8.14" height="22.70"/>
<use href="#g" x="464.04" y="198.30" width="8.14" height="22.70"/>
<use href="#g" x="472.19" y="198.30" width="8.14" height="22.70"/>
<use href="#g" x="480.33" y="198.30" width="8.14" height="22.70"/>
<use href="#g" x="488.47" y="198.30" width="8.14" height="22.70"/>
<use href="#g" x="496.61" y="198.30" width="8.14" height="22.70"/>
<use href="#g" x="504.76" y="198.30" width="8.14" height="22.70"/>
<rect x="390.10" y="222.10" width="64.40" height="22.00" fill="#2a2a2a"/>
<use href="#g" x="390.10" y="222.10" width="8.05" height="22.00"/>
<use href="#m42b" x="398.15" y="222.10" width="8.05" height="22.00"/>
<use href="#t9" x="406.20" y="222.10" width="8.05" height="22.00"/>
<use href="#g" x="414.25" y="222.10" width="8.05" height="22.00"/>
<use href="#t4" x="422.30" y="222.10" width="8.05" height="22.00"/>
<use href="#t11" x="430.35" y="222.10" width="8.05" height="22.00"/>
<use href="#g" x="438.40" y="222.10" width="8.05" height="22.00"/>
<use href="#t11" x="446.45" y="222.10" width="8.05" height="22.00"/>
<rect x="455.90" y="222.10" width="57.00" height="22.00" fill="#2a2a2a"/>
<use href="#g" x="455.90" y="222.10" width="8.14" height="22.00"/>
<use href="#g" x="464.04" y="222.10" width="8.14" height="22.00"/>
<use href="#g" x="472.19" y="222.10" width="8.14" height="22.00"/>
<use href="#g" x="480.33" y="222.10" width="8.14" height="22.00"/>
<use href="#g" x="488.47" y="222.10" width="8.14" height="22.00"/>
<use href="#t12" x="496.61" y="222.10" width="8.14" height="22.00"/>
<use href="#g" x="504.76" y="222.10" width="8.14" height="22.00"/>
<rect x="390.10" y="245.20" width="8.20" height="21.50" fill="#2a2a2a"/>
<use href="#g" x="390.10" y="245.20" width="8.20" height="21.50"/>
<rect x="406.20" y="245.20" width="48.30" height="21.50" fill="#2a2a2a"/>
<use href="#t6" x="406.20" y="245.20" width="8.05" height="21.50"/>
<use href="#g" x="414.25" y="245.20" width="8.05" height="21.50"/>
<use href="#hh1" x="422.30" y="245.20" width="8.05" height="21.50"/>
<use href="#t9" x="430.35" y="245.20" width="8.05" height="21.50"/>
<use href="#g" x="438.40" y="245.20" width="8.05" height="21.50"/>
<use href="#t7" x="446.45" y="245.20" width="8.05" height="21.50"/>
<rect x="455.90" y="245.20" width="57.00" height="21.50" fill="#2a2a2a"/>
<use href="#g" x="455.90" y="245.20" width="8.14" height="21.50"/>
<use href="#g" x="464.04" y="245.20" width="8.14" height="21.50"/>
<use href="#g" x="472.19" y="245.20" width="8.14" height="21.50"/>
<use href="#g" x="480.33" y="245.20" width="8.14" height="21.50"/>
<use href="#g" x="488.47" y="245.20" width="8.14" height="21.50"/>
<use href="#t12" x="496.61" y="245.20" width="8.14" height="21.50"/>
<use href="#g" x="504.76" y="245.20" width="8.14" height="21.50"/>
<text x="293.70" y="145.40" font-size="7.0" font-weight="normal" fill="#231f20" stroke="#231f20" stroke-width="0.15" textLength="28.20" lengthAdjust="spacingAndGlyphs">No T cells</text>
<line x1="285.00" y1="148.40" x2="330.70" y2="148.40" stroke="#231f20" stroke-width="1.0"/>
<text x="348.10" y="145.40" font-size="7.0" font-weight="normal" fill="#231f20" stroke="#231f20" stroke-width="0.15" textLength="25.60" lengthAdjust="spacingAndGlyphs">GFP only</text>
<line x1="334.50" y1="148.40" x2="388.90" y2="148.40" stroke="#231f20" stroke-width="1.0"/>
<text x="415.00" y="145.40" font-size="7.0" font-weight="normal" fill="#231f20" stroke="#231f20" stroke-width="0.15" textLength="14.90" lengthAdjust="spacingAndGlyphs">CAR</text>
<line x1="390.80" y1="148.40" x2="454.10" y2="148.40" stroke="#231f20" stroke-width="1.0"/>
<text x="465.70" y="145.40" font-size="7.0" font-weight="normal" fill="#231f20" stroke="#231f20" stroke-width="0.15" textLength="36.10" lengthAdjust="spacingAndGlyphs">EpoRm-CAR</text>
<line x1="456.80" y1="148.40" x2="512.00" y2="148.40" stroke="#231f20" stroke-width="1.0"/>
<text x="276.00" y="166.60" font-size="7.2" font-weight="normal" fill="#231f20" stroke="#231f20" stroke-width="0.15" textLength="3.20" lengthAdjust="spacingAndGlyphs">4</text>
<text x="273.50" y="189.30" font-size="7.2" font-weight="normal" fill="#231f20" stroke="#231f20" stroke-width="0.15" textLength="7.30" lengthAdjust="spacingAndGlyphs">14</text>
<text x="273.50" y="211.60" font-size="7.2" font-weight="normal" fill="#231f20" stroke="#231f20" stroke-width="0.15" textLength="7.30" lengthAdjust="spacingAndGlyphs">18</text>
<text x="273.50" y="233.90" font-size="7.2" font-weight="normal" fill="#231f20" stroke="#231f20" stroke-width="0.15" textLength="7.30" lengthAdjust="spacingAndGlyphs">42</text>
<text x="273.50" y="255.80" font-size="7.2" font-weight="normal" fill="#231f20" stroke="#231f20" stroke-width="0.15" textLength="7.30" lengthAdjust="spacingAndGlyphs">49</text>
<text transform="translate(268.10,242.10) rotate(-90)" x="0" y="0" font-size="8.6" fill="#231f20" stroke="#231f20" stroke-width="0.15" textLength="68.10" lengthAdjust="spacingAndGlyphs">Days after ALL infusion</text>
<rect x="36.70" y="92.57" width="37.40" height="19.33" fill="#ececef" stroke="#c8c8c8" stroke-width="0.9"/>
<line x1="36.70" y1="51.70" x2="36.70" y2="112.50" stroke="#231f20" stroke-width="1.3"/>
<line x1="36.10" y1="111.90" x2="76.90" y2="111.90" stroke="#231f20" stroke-width="1.3"/>
<line x1="33.50" y1="111.90" x2="36.70" y2="111.90" stroke="#231f20" stroke-width="0.9"/>
<text x="20.10" y="114.10" font-size="7.0" font-weight="normal" fill="#231f20" stroke="#231f20" stroke-width="0.15" textLength="6.10" lengthAdjust="spacingAndGlyphs">10</text>
<text x="26.50" y="111.60" font-size="3.6" font-weight="normal" fill="#555" stroke="#555" stroke-width="0.1" textLength="1.90" lengthAdjust="spacingAndGlyphs">6</text>
<line x1="33.50" y1="102.23" x2="36.70" y2="102.23" stroke="#231f20" stroke-width="0.9"/>
<text x="20.10" y="104.43" font-size="7.0" font-weight="normal" fill="#231f20" stroke="#231f20" stroke-width="0.15" textLength="6.10" lengthAdjust="spacingAndGlyphs">10</text>
<text x="26.50" y="101.93" font-size="3.6" font-weight="normal" fill="#555" stroke="#555" stroke-width="0.1" textLength="1.90" lengthAdjust="spacingAndGlyphs">7</text>
<line x1="33.50" y1="92.57" x2="36.70" y2="92.57" stroke="#231f20" stroke-width="0.9"/>
<text x="20.10" y="94.77" font-size="7.0" font-weight="normal" fill="#231f20" stroke="#231f20" stroke-width="0.15" textLength="6.10" lengthAdjust="spacingAndGlyphs">10</text>
<text x="26.50" y="92.27" font-size="3.6" font-weight="normal" fill="#555" stroke="#555" stroke-width="0.1" textLength="1.90" lengthAdjust="spacingAndGlyphs">8</text>
<line x1="33.50" y1="82.90" x2="36.70" y2="82.90" stroke="#231f20" stroke-width="0.9"/>
<text x="20.10" y="85.10" font-size="7.0" font-weight="normal" fill="#231f20" stroke="#231f20" stroke-width="0.15" textLength="6.10" lengthAdjust="spacingAndGlyphs">10</text>
<text x="26.50" y="82.60" font-size="3.6" font-weight="normal" fill="#555" stroke="#555" stroke-width="0.1" textLength="1.90" lengthAdjust="spacingAndGlyphs">9</text>
<line x1="33.50" y1="73.23" x2="36.70" y2="73.23" stroke="#231f20" stroke-width="0.9"/>
<text x="20.10" y="75.43" font-size="7.0" font-weight="normal" fill="#231f20" stroke="#231f20" stroke-width="0.15" textLength="6.10" lengthAdjust="spacingAndGlyphs">10</text>
<text x="26.50" y="72.93" font-size="3.6" font-weight="normal" fill="#555" stroke="#555" stroke-width="0.1" textLength="3.70" lengthAdjust="spacingAndGlyphs">10</text>
<line x1="33.50" y1="63.57" x2="36.70" y2="63.57" stroke="#231f20" stroke-width="0.9"/>
<text x="20.10" y="65.77" font-size="7.0" font-weight="normal" fill="#231f20" stroke="#231f20" stroke-width="0.15" textLength="6.10" lengthAdjust="spacingAndGlyphs">10</text>
<text x="26.50" y="63.27" font-size="3.6" font-weight="normal" fill="#555" stroke="#555" stroke-width="0.1" textLength="3.70" lengthAdjust="spacingAndGlyphs">11</text>
<line x1="33.50" y1="53.90" x2="36.70" y2="53.90" stroke="#231f20" stroke-width="0.9"/>
<text x="20.10" y="56.10" font-size="7.0" font-weight="normal" fill="#231f20" stroke="#231f20" stroke-width="0.15" textLength="6.10" lengthAdjust="spacingAndGlyphs">10</text>
<text x="26.50" y="53.60" font-size="3.6" font-weight="normal" fill="#555" stroke="#555" stroke-width="0.1" textLength="3.70" lengthAdjust="spacingAndGlyphs">12</text>
<line x1="36.70" y1="111.90" x2="36.70" y2="114.90" stroke="#231f20" stroke-width="0.9"/>
<line x1="47.68" y1="111.90" x2="47.68" y2="114.90" stroke="#231f20" stroke-width="0.9"/>
<line x1="60.59" y1="111.90" x2="60.59" y2="114.90" stroke="#231f20" stroke-width="0.9"/>
<line x1="73.50" y1="111.90" x2="73.50" y2="114.90" stroke="#231f20" stroke-width="0.9"/>
<text x="35.45" y="123.90" font-size="6.8" font-weight="normal" fill="#231f20" stroke="#231f20" stroke-width="0.15" textLength="2.90" lengthAdjust="spacingAndGlyphs">3</text>
<text x="46.58" y="123.90" font-size="6.8" font-weight="normal" fill="#231f20" stroke="#231f20" stroke-width="0.15" textLength="6.60" lengthAdjust="spacingAndGlyphs">20</text>
<text x="58.49" y="123.90" font-size="6.8" font-weight="normal" fill="#231f20" stroke="#231f20" stroke-width="0.15" textLength="6.60" lengthAdjust="spacingAndGlyphs">40</text>
<text x="70.50" y="123.90" font-size="6.8" font-weight="normal" fill="#231f20" stroke="#231f20" stroke-width="0.15" textLength="6.60" lengthAdjust="spacingAndGlyphs">60</text>
<text x="39.10" y="46.60" font-size="8.8" font-weight="normal" fill="#231f20" stroke="#231f20" stroke-width="0.15" textLength="35.50" lengthAdjust="spacingAndGlyphs">no T cells</text>
<rect x="89.30" y="92.63" width="37.30" height="19.37" fill="#ececef" stroke="#c8c8c8" stroke-width="0.9"/>
<line x1="89.30" y1="51.70" x2="89.30" y2="112.60" stroke="#231f20" stroke-width="1.3"/>
<line x1="88.70" y1="112.00" x2="129.40" y2="112.00" stroke="#231f20" stroke-width="1.3"/>
<line x1="86.10" y1="112.00" x2="89.30" y2="112.00" stroke="#231f20" stroke-width="0.9"/>
<line x1="86.10" y1="102.32" x2="89.30" y2="102.32" stroke="#231f20" stroke-width="0.9"/>
<line x1="86.10" y1="92.63" x2="89.30" y2="92.63" stroke="#231f20" stroke-width="0.9"/>
<line x1="86.10" y1="82.95" x2="89.30" y2="82.95" stroke="#231f20" stroke-width="0.9"/>
<line x1="86.10" y1="73.27" x2="89.30" y2="73.27" stroke="#231f20" stroke-width="0.9"/>
<line x1="86.10" y1="63.58" x2="89.30" y2="63.58" stroke="#231f20" stroke-width="0.9"/>
<line x1="86.10" y1="53.90" x2="89.30" y2="53.90" stroke="#231f20" stroke-width="0.9"/>
<line x1="89.30" y1="112.00" x2="89.30" y2="115.00" stroke="#231f20" stroke-width="0.9"/>
<line x1="100.25" y1="112.00" x2="100.25" y2="115.00" stroke="#231f20" stroke-width="0.9"/>
<line x1="113.12" y1="112.00" x2="113.12" y2="115.00" stroke="#231f20" stroke-width="0.9"/>
<line x1="126.00" y1="112.00" x2="126.00" y2="115.00" stroke="#231f20" stroke-width="0.9"/>
<text x="88.05" y="123.90" font-size="6.8" font-weight="normal" fill="#231f20" stroke="#231f20" stroke-width="0.15" textLength="2.90" lengthAdjust="spacingAndGlyphs">3</text>
<text x="99.15" y="123.90" font-size="6.8" font-weight="normal" fill="#231f20" stroke="#231f20" stroke-width="0.15" textLength="6.60" lengthAdjust="spacingAndGlyphs">20</text>
<text x="111.02" y="123.90" font-size="6.8" font-weight="normal" fill="#231f20" stroke="#231f20" stroke-width="0.15" textLength="6.60" lengthAdjust="spacingAndGlyphs">40</text>
<text x="123.00" y="123.90" font-size="6.8" font-weight="normal" fill="#231f20" stroke="#231f20" stroke-width="0.15" textLength="6.60" lengthAdjust="spacingAndGlyphs">60</text>
<text x="100.80" y="46.60" font-size="8.8" font-weight="normal" fill="#231f20" stroke="#231f20" stroke-width="0.15" textLength="17.90" lengthAdjust="spacingAndGlyphs">5 mil</text>
<rect x="36.60" y="186.07" width="37.50" height="19.53" fill="#ececef" stroke="#c8c8c8" stroke-width="0.9"/>
<line x1="36.60" y1="144.80" x2="36.60" y2="206.20" stroke="#231f20" stroke-width="1.3"/>
<line x1="36.00" y1="205.60" x2="76.90" y2="205.60" stroke="#231f20" stroke-width="1.3"/>
<line x1="33.40" y1="205.60" x2="36.60" y2="205.60" stroke="#231f20" stroke-width="0.9"/>
<text x="20.00" y="207.80" font-size="7.0" font-weight="normal" fill="#231f20" stroke="#231f20" stroke-width="0.15" textLength="6.10" lengthAdjust="spacingAndGlyphs">10</text>
<text x="26.40" y="205.30" font-size="3.6" font-weight="normal" fill="#555" stroke="#555" stroke-width="0.1" textLength="1.90" lengthAdjust="spacingAndGlyphs">6</text>
<line x1="33.40" y1="195.83" x2="36.60" y2="195.83" stroke="#231f20" stroke-width="0.9"/>
<text x="20.00" y="198.03" font-size="7.0" font-weight="normal" fill="#231f20" stroke="#231f20" stroke-width="0.15" textLength="6.10" lengthAdjust="spacingAndGlyphs">10</text>
<text x="26.40" y="195.53" font-size="3.6" font-weight="normal" fill="#555" stroke="#555" stroke-width="0.1" textLength="1.90" lengthAdjust="spacingAndGlyphs">7</text>
<line x1="33.40" y1="186.07" x2="36.60" y2="186.07" stroke="#231f20" stroke-width="0.9"/>
<text x="20.00" y="188.27" font-size="7.0" font-weight="normal" fill="#231f20" stroke="#231f20" stroke-width="0.15" textLength="6.10" lengthAdjust="spacingAndGlyphs">10</text>
<text x="26.40" y="185.77" font-size="3.6" font-weight="normal" fill="#555" stroke="#555" stroke-width="0.1" textLength="1.90" lengthAdjust="spacingAndGlyphs">8</text>
<line x1="33.40" y1="176.30" x2="36.60" y2="176.30" stroke="#231f20" stroke-width="0.9"/>
<text x="20.00" y="178.50" font-size="7.0" font-weight="normal" fill="#231f20" stroke="#231f20" stroke-width="0.15" textLength="6.10" lengthAdjust="spacingAndGlyphs">10</text>
<text x="26.40" y="176.00" font-size="3.6" font-weight="normal" fill="#555" stroke="#555" stroke-width="0.1" textLength="1.90" lengthAdjust="spacingAndGlyphs">9</text>
<line x1="33.40" y1="166.53" x2="36.60" y2="166.53" stroke="#231f20" stroke-width="0.9"/>
<text x="20.00" y="168.73" font-size="7.0" font-weight="normal" fill="#231f20" stroke="#231f20" stroke-width="0.15" textLength="6.10" lengthAdjust="spacingAndGlyphs">10</text>
<text x="26.40" y="166.23" font-size="3.6" font-weight="normal" fill="#555" stroke="#555" stroke-width="0.1" textLength="3.70" lengthAdjust="spacingAndGlyphs">10</text>
<line x1="33.40" y1="156.77" x2="36.60" y2="156.77" stroke="#231f20" stroke-width="0.9"/>
<text x="20.00" y="158.97" font-size="7.0" font-weight="normal" fill="#231f20" stroke="#231f20" stroke-width="0.15" textLength="6.10" lengthAdjust="spacingAndGlyphs">10</text>
<text x="26.40" y="156.47" font-size="3.6" font-weight="normal" fill="#555" stroke="#555" stroke-width="0.1" textLength="3.70" lengthAdjust="spacingAndGlyphs">11</text>
<line x1="33.40" y1="147.00" x2="36.60" y2="147.00" stroke="#231f20" stroke-width="0.9"/>
<text x="20.00" y="149.20" font-size="7.0" font-weight="normal" fill="#231f20" stroke="#231f20" stroke-width="0.15" textLength="6.10" lengthAdjust="spacingAndGlyphs">10</text>
<text x="26.40" y="146.70" font-size="3.6" font-weight="normal" fill="#555" stroke="#555" stroke-width="0.1" textLength="3.70" lengthAdjust="spacingAndGlyphs">12</text>
<line x1="36.60" y1="205.60" x2="36.60" y2="208.60" stroke="#231f20" stroke-width="0.9"/>
<line x1="47.61" y1="205.60" x2="47.61" y2="208.60" stroke="#231f20" stroke-width="0.9"/>
<line x1="60.55" y1="205.60" x2="60.55" y2="208.60" stroke="#231f20" stroke-width="0.9"/>
<line x1="73.50" y1="205.60" x2="73.50" y2="208.60" stroke="#231f20" stroke-width="0.9"/>
<text x="35.35" y="216.90" font-size="6.8" font-weight="normal" fill="#231f20" stroke="#231f20" stroke-width="0.15" textLength="2.90" lengthAdjust="spacingAndGlyphs">3</text>
<text x="46.51" y="216.90" font-size="6.8" font-weight="normal" fill="#231f20" stroke="#231f20" stroke-width="0.15" textLength="6.60" lengthAdjust="spacingAndGlyphs">20</text>
<text x="58.45" y="216.90" font-size="6.8" font-weight="normal" fill="#231f20" stroke="#231f20" stroke-width="0.15" textLength="6.60" lengthAdjust="spacingAndGlyphs">40</text>
<text x="70.50" y="216.90" font-size="6.8" font-weight="normal" fill="#231f20" stroke="#231f20" stroke-width="0.15" textLength="6.60" lengthAdjust="spacingAndGlyphs">60</text>
<text x="46.20" y="139.80" font-size="8.8" font-weight="normal" fill="#231f20" stroke="#231f20" stroke-width="0.15" textLength="21.90" lengthAdjust="spacingAndGlyphs">10 mil</text>
<rect x="89.40" y="186.17" width="37.20" height="19.43" fill="#ececef" stroke="#c8c8c8" stroke-width="0.9"/>
<line x1="89.40" y1="145.10" x2="89.40" y2="206.20" stroke="#231f20" stroke-width="1.3"/>
<line x1="88.80" y1="205.60" x2="129.40" y2="205.60" stroke="#231f20" stroke-width="1.3"/>
<line x1="86.20" y1="205.60" x2="89.40" y2="205.60" stroke="#231f20" stroke-width="0.9"/>
<line x1="86.20" y1="195.88" x2="89.40" y2="195.88" stroke="#231f20" stroke-width="0.9"/>
<line x1="86.20" y1="186.17" x2="89.40" y2="186.17" stroke="#231f20" stroke-width="0.9"/>
<line x1="86.20" y1="176.45" x2="89.40" y2="176.45" stroke="#231f20" stroke-width="0.9"/>
<line x1="86.20" y1="166.73" x2="89.40" y2="166.73" stroke="#231f20" stroke-width="0.9"/>
<line x1="86.20" y1="157.02" x2="89.40" y2="157.02" stroke="#231f20" stroke-width="0.9"/>
<line x1="86.20" y1="147.30" x2="89.40" y2="147.30" stroke="#231f20" stroke-width="0.9"/>
<line x1="89.40" y1="205.60" x2="89.40" y2="208.60" stroke="#231f20" stroke-width="0.9"/>
<line x1="100.32" y1="205.60" x2="100.32" y2="208.60" stroke="#231f20" stroke-width="0.9"/>
<line x1="113.16" y1="205.60" x2="113.16" y2="208.60" stroke="#231f20" stroke-width="0.9"/>
<line x1="126.00" y1="205.60" x2="126.00" y2="208.60" stroke="#231f20" stroke-width="0.9"/>
<text x="88.15" y="216.90" font-size="6.8" font-weight="normal" fill="#231f20" stroke="#231f20" stroke-width="0.15" textLength="2.90" lengthAdjust="spacingAndGlyphs">3</text>
<text x="99.22" y="216.90" font-size="6.8" font-weight="normal" fill="#231f20" stroke="#231f20" stroke-width="0.15" textLength="6.60" lengthAdjust="spacingAndGlyphs">20</text>
<text x="111.06" y="216.90" font-size="6.8" font-weight="normal" fill="#231f20" stroke="#231f20" stroke-width="0.15" textLength="6.60" lengthAdjust="spacingAndGlyphs">40</text>
<text x="123.00" y="216.90" font-size="6.8" font-weight="normal" fill="#231f20" stroke="#231f20" stroke-width="0.15" textLength="6.60" lengthAdjust="spacingAndGlyphs">60</text>
<text x="98.00" y="139.80" font-size="8.8" font-weight="normal" fill="#231f20" stroke="#231f20" stroke-width="0.15" textLength="23.20" lengthAdjust="spacingAndGlyphs">20 mil</text>
<polyline points="36.90,102.30 39.40,97.30 41.40,77.80 43.90,65.60 46.40,64.70 48.40,57.20" fill="none" stroke="#6f3f95" stroke-width="1.0" stroke-linejoin="round"/>
<circle cx="36.90" cy="102.30" r="0.855" fill="#6f3f95" stroke="#6f3f95" stroke-width="0.6"/>
<circle cx="39.40" cy="97.30" r="0.855" fill="#6f3f95" stroke="#6f3f95" stroke-width="0.6"/>
<circle cx="41.40" cy="77.80" r="0.855" fill="#6f3f95" stroke="#6f3f95" stroke-width="0.6"/>
<circle cx="43.90" cy="65.60" r="0.855" fill="#6f3f95" stroke="#6f3f95" stroke-width="0.6"/>
<circle cx="46.40" cy="64.70" r="0.855" fill="#6f3f95" stroke="#6f3f95" stroke-width="0.6"/>
<circle cx="48.40" cy="57.20" r="0.855" fill="#6f3f95" stroke="#6f3f95" stroke-width="0.6"/>
<polyline points="39.40,106.20 41.40,86.50 43.90,68.90 46.40,67.20 48.90,60.50" fill="none" stroke="#6f3f95" stroke-width="1.0" stroke-linejoin="round"/>
<circle cx="39.40" cy="106.20" r="0.855" fill="#6f3f95" stroke="#6f3f95" stroke-width="0.6"/>
<circle cx="41.40" cy="86.50" r="0.855" fill="#6f3f95" stroke="#6f3f95" stroke-width="0.6"/>
<circle cx="43.90" cy="68.90" r="0.855" fill="#6f3f95" stroke="#6f3f95" stroke-width="0.6"/>
<circle cx="46.40" cy="67.20" r="0.855" fill="#6f3f95" stroke="#6f3f95" stroke-width="0.6"/>
<circle cx="48.90" cy="60.50" r="0.855" fill="#6f3f95" stroke="#6f3f95" stroke-width="0.6"/>
<polyline points="36.90,102.30 38.50,99.00 40.50,84.00 42.50,72.00 45.00,66.00 47.50,62.00" fill="none" stroke="#6f3f95" stroke-width="1.0" stroke-linejoin="round"/>
<circle cx="36.90" cy="102.30" r="0.855" fill="#6f3f95" stroke="#6f3f95" stroke-width="0.6"/>
<circle cx="38.50" cy="99.00" r="0.855" fill="#6f3f95" stroke="#6f3f95" stroke-width="0.6"/>
<circle cx="40.50" cy="84.00" r="0.855" fill="#6f3f95" stroke="#6f3f95" stroke-width="0.6"/>
<circle cx="42.50" cy="72.00" r="0.855" fill="#6f3f95" stroke="#6f3f95" stroke-width="0.6"/>
<circle cx="45.00" cy="66.00" r="0.855" fill="#6f3f95" stroke="#6f3f95" stroke-width="0.6"/>
<circle cx="47.50" cy="62.00" r="0.855" fill="#6f3f95" stroke="#6f3f95" stroke-width="0.6"/>
<polyline points="89.50,102.00 91.50,92.00 93.50,80.00 95.50,70.00 97.50,63.00" fill="none" stroke="#7ac143" stroke-width="1.0" stroke-linejoin="round"/>
<circle cx="89.50" cy="102.00" r="0.855" fill="#7ac143" stroke="#7ac143" stroke-width="0.6"/>
<circle cx="91.50" cy="92.00" r="0.855" fill="#7ac143" stroke="#7ac143" stroke-width="0.6"/>
<circle cx="93.50" cy="80.00" r="0.855" fill="#7ac143" stroke="#7ac143" stroke-width="0.6"/>
<circle cx="95.50" cy="70.00" r="0.855" fill="#7ac143" stroke="#7ac143" stroke-width="0.6"/>
<circle cx="97.50" cy="63.00" r="0.855" fill="#7ac143" stroke="#7ac143" stroke-width="0.6"/>
<polyline points="89.50,102.00 91.80,90.00 94.00,78.00 96.50,66.00" fill="none" stroke="#7ac143" stroke-width="1.0" stroke-linejoin="round"/>
<circle cx="89.50" cy="102.00" r="0.855" fill="#7ac143" stroke="#7ac143" stroke-width="0.6"/>
<circle cx="91.80" cy="90.00" r="0.855" fill="#7ac143" stroke="#7ac143" stroke-width="0.6"/>
<circle cx="94.00" cy="78.00" r="0.855" fill="#7ac143" stroke="#7ac143" stroke-width="0.6"/>
<circle cx="96.50" cy="66.00" r="0.855" fill="#7ac143" stroke="#7ac143" stroke-width="0.6"/>
<polyline points="89.50,102.00 92.00,92.00 95.00,80.00 98.00,70.00 100.50,62.00 102.60,55.00" fill="none" stroke="#3f5ea9" stroke-width="1.0" stroke-linejoin="round"/>
<circle cx="89.50" cy="102.00" r="0.855" fill="#3f5ea9" stroke="#3f5ea9" stroke-width="0.6"/>
<circle cx="92.00" cy="92.00" r="0.855" fill="#3f5ea9" stroke="#3f5ea9" stroke-width="0.6"/>
<circle cx="95.00" cy="80.00" r="0.855" fill="#3f5ea9" stroke="#3f5ea9" stroke-width="0.6"/>
<circle cx="98.00" cy="70.00" r="0.855" fill="#3f5ea9" stroke="#3f5ea9" stroke-width="0.6"/>
<circle cx="100.50" cy="62.00" r="0.855" fill="#3f5ea9" stroke="#3f5ea9" stroke-width="0.6"/>
<circle cx="102.60" cy="55.00" r="0.855" fill="#3f5ea9" stroke="#3f5ea9" stroke-width="0.6"/>
<polyline points="89.50,102.00 92.50,90.00 95.50,78.00 98.50,70.00 102.00,63.50" fill="none" stroke="#3f5ea9" stroke-width="1.0" stroke-linejoin="round"/>
<circle cx="89.50" cy="102.00" r="0.855" fill="#3f5ea9" stroke="#3f5ea9" stroke-width="0.6"/>
<circle cx="92.50" cy="90.00" r="0.855" fill="#3f5ea9" stroke="#3f5ea9" stroke-width="0.6"/>
<circle cx="95.50" cy="78.00" r="0.855" fill="#3f5ea9" stroke="#3f5ea9" stroke-width="0.6"/>
<circle cx="98.50" cy="70.00" r="0.855" fill="#3f5ea9" stroke="#3f5ea9" stroke-width="0.6"/>
<circle cx="102.00" cy="63.50" r="0.855" fill="#3f5ea9" stroke="#3f5ea9" stroke-width="0.6"/>
<polyline points="89.50,102.00 93.00,92.00 96.50,82.00 99.50,73.00 102.60,57.00" fill="none" stroke="#3f5ea9" stroke-width="1.0" stroke-linejoin="round"/>
<circle cx="89.50" cy="102.00" r="0.855" fill="#3f5ea9" stroke="#3f5ea9" stroke-width="0.6"/>
<circle cx="93.00" cy="92.00" r="0.855" fill="#3f5ea9" stroke="#3f5ea9" stroke-width="0.6"/>
<circle cx="96.50" cy="82.00" r="0.855" fill="#3f5ea9" stroke="#3f5ea9" stroke-width="0.6"/>
<circle cx="99.50" cy="73.00" r="0.855" fill="#3f5ea9" stroke="#3f5ea9" stroke-width="0.6"/>
<circle cx="102.60" cy="57.00" r="0.855" fill="#3f5ea9" stroke="#3f5ea9" stroke-width="0.6"/>
<polyline points="89.50,102.00 95.00,90.00 99.00,78.00 102.00,70.00 105.90,62.20" fill="none" stroke="#d0394f" stroke-width="1.0" stroke-linejoin="round"/>
<circle cx="89.50" cy="102.00" r="0.9025" fill="#f6dde0" stroke="#d0394f" stroke-width="0.6"/>
<circle cx="95.00" cy="90.00" r="0.9025" fill="#f6dde0" stroke="#d0394f" stroke-width="0.6"/>
<circle cx="99.00" cy="78.00" r="0.9025" fill="#f6dde0" stroke="#d0394f" stroke-width="0.6"/>
<circle cx="102.00" cy="70.00" r="0.9025" fill="#f6dde0" stroke="#d0394f" stroke-width="0.6"/>
<circle cx="105.90" cy="62.20" r="0.9025" fill="#f6dde0" stroke="#d0394f" stroke-width="0.6"/>
<polyline points="89.50,102.00 96.00,92.00 101.00,80.00 106.70,67.20 108.50,66.00 110.90,60.00" fill="none" stroke="#d0394f" stroke-width="1.0" stroke-linejoin="round"/>
<circle cx="89.50" cy="102.00" r="0.9025" fill="#f6dde0" stroke="#d0394f" stroke-width="0.6"/>
<circle cx="96.00" cy="92.00" r="0.9025" fill="#f6dde0" stroke="#d0394f" stroke-width="0.6"/>
<circle cx="101.00" cy="80.00" r="0.9025" fill="#f6dde0" stroke="#d0394f" stroke-width="0.6"/>
<circle cx="106.70" cy="67.20" r="0.9025" fill="#f6dde0" stroke="#d0394f" stroke-width="0.6"/>
<circle cx="108.50" cy="66.00" r="0.9025" fill="#f6dde0" stroke="#d0394f" stroke-width="0.6"/>
<circle cx="110.90" cy="60.00" r="0.9025" fill="#f6dde0" stroke="#d0394f" stroke-width="0.6"/>
<polyline points="89.50,102.00 95.00,94.00 98.00,86.00 101.70,76.40" fill="none" stroke="#d0394f" stroke-width="1.0" stroke-linejoin="round"/>
<circle cx="89.50" cy="102.00" r="0.9025" fill="#f6dde0" stroke="#d0394f" stroke-width="0.6"/>
<circle cx="95.00" cy="94.00" r="0.9025" fill="#f6dde0" stroke="#d0394f" stroke-width="0.6"/>
<circle cx="98.00" cy="86.00" r="0.9025" fill="#f6dde0" stroke="#d0394f" stroke-width="0.6"/>
<circle cx="101.70" cy="76.40" r="0.9025" fill="#f6dde0" stroke="#d0394f" stroke-width="0.6"/>
<polyline points="89.50,102.00 91.00,103.50 94.00,101.80 97.00,102.30 100.00,101.50 103.00,102.40 106.00,103.00 109.00,104.50 112.00,104.00 115.00,104.80 118.00,102.50 121.00,103.50 124.30,103.80" fill="none" stroke="#d0394f" stroke-width="1.0" stroke-linejoin="round"/>
<circle cx="89.50" cy="102.00" r="0.9025" fill="#f6dde0" stroke="#d0394f" stroke-width="0.6"/>
<circle cx="91.00" cy="103.50" r="0.9025" fill="#f6dde0" stroke="#d0394f" stroke-width="0.6"/>
<circle cx="94.00" cy="101.80" r="0.9025" fill="#f6dde0" stroke="#d0394f" stroke-width="0.6"/>
<circle cx="97.00" cy="102.30" r="0.9025" fill="#f6dde0" stroke="#d0394f" stroke-width="0.6"/>
<circle cx="100.00" cy="101.50" r="0.9025" fill="#f6dde0" stroke="#d0394f" stroke-width="0.6"/>
<circle cx="103.00" cy="102.40" r="0.9025" fill="#f6dde0" stroke="#d0394f" stroke-width="0.6"/>
<circle cx="106.00" cy="103.00" r="0.9025" fill="#f6dde0" stroke="#d0394f" stroke-width="0.6"/>
<circle cx="109.00" cy="104.50" r="0.9025" fill="#f6dde0" stroke="#d0394f" stroke-width="0.6"/>
<circle cx="112.00" cy="104.00" r="0.9025" fill="#f6dde0" stroke="#d0394f" stroke-width="0.6"/>
<circle cx="115.00" cy="104.80" r="0.9025" fill="#f6dde0" stroke="#d0394f" stroke-width="0.6"/>
<circle cx="118.00" cy="102.50" r="0.9025" fill="#f6dde0" stroke="#d0394f" stroke-width="0.6"/>
<circle cx="121.00" cy="103.50" r="0.9025" fill="#f6dde0" stroke="#d0394f" stroke-width="0.6"/>
<circle cx="124.30" cy="103.80" r="0.9025" fill="#f6dde0" stroke="#d0394f" stroke-width="0.6"/>
<polyline points="89.50,102.00 91.00,105.00 94.00,104.50 97.00,104.00 100.00,103.00 103.00,104.00 106.00,105.50 109.00,106.00 112.00,105.80 115.00,105.00 118.00,104.50 121.00,105.50 124.30,106.50" fill="none" stroke="#d0394f" stroke-width="1.0" stroke-linejoin="round"/>
<circle cx="89.50" cy="102.00" r="0.9025" fill="#f6dde0" stroke="#d0394f" stroke-width="0.6"/>
<circle cx="91.00" cy="105.00" r="0.9025" fill="#f6dde0" stroke="#d0394f" stroke-width="0.6"/>
<circle cx="94.00" cy="104.50" r="0.9025" fill="#f6dde0" stroke="#d0394f" stroke-width="0.6"/>
<circle cx="97.00" cy="104.00" r="0.9025" fill="#f6dde0" stroke="#d0394f" stroke-width="0.6"/>
<circle cx="100.00" cy="103.00" r="0.9025" fill="#f6dde0" stroke="#d0394f" stroke-width="0.6"/>
<circle cx="103.00" cy="104.00" r="0.9025" fill="#f6dde0" stroke="#d0394f" stroke-width="0.6"/>
<circle cx="106.00" cy="105.50" r="0.9025" fill="#f6dde0" stroke="#d0394f" stroke-width="0.6"/>
<circle cx="109.00" cy="106.00" r="0.9025" fill="#f6dde0" stroke="#d0394f" stroke-width="0.6"/>
<circle cx="112.00" cy="105.80" r="0.9025" fill="#f6dde0" stroke="#d0394f" stroke-width="0.6"/>
<circle cx="115.00" cy="105.00" r="0.9025" fill="#f6dde0" stroke="#d0394f" stroke-width="0.6"/>
<circle cx="118.00" cy="104.50" r="0.9025" fill="#f6dde0" stroke="#d0394f" stroke-width="0.6"/>
<circle cx="121.00" cy="105.50" r="0.9025" fill="#f6dde0" stroke="#d0394f" stroke-width="0.6"/>
<circle cx="124.30" cy="106.50" r="0.9025" fill="#f6dde0" stroke="#d0394f" stroke-width="0.6"/>
<polyline points="89.50,102.00 92.00,101.50 95.00,102.50 98.00,101.00 101.00,102.00 104.00,101.80 107.00,104.00 110.00,103.00" fill="none" stroke="#d0394f" stroke-width="1.0" stroke-linejoin="round"/>
<circle cx="89.50" cy="102.00" r="0.9025" fill="#f6dde0" stroke="#d0394f" stroke-width="0.6"/>
<circle cx="92.00" cy="101.50" r="0.9025" fill="#f6dde0" stroke="#d0394f" stroke-width="0.6"/>
<circle cx="95.00" cy="102.50" r="0.9025" fill="#f6dde0" stroke="#d0394f" stroke-width="0.6"/>
<circle cx="98.00" cy="101.00" r="0.9025" fill="#f6dde0" stroke="#d0394f" stroke-width="0.6"/>
<circle cx="101.00" cy="102.00" r="0.9025" fill="#f6dde0" stroke="#d0394f" stroke-width="0.6"/>
<circle cx="104.00" cy="101.80" r="0.9025" fill="#f6dde0" stroke="#d0394f" stroke-width="0.6"/>
<circle cx="107.00" cy="104.00" r="0.9025" fill="#f6dde0" stroke="#d0394f" stroke-width="0.6"/>
<circle cx="110.00" cy="103.00" r="0.9025" fill="#f6dde0" stroke="#d0394f" stroke-width="0.6"/>
<polyline points="37.00,196.00 40.90,176.60 44.30,162.70 46.60,158.30 49.60,150.10" fill="none" stroke="#7ac143" stroke-width="1.0" stroke-linejoin="round"/>
<circle cx="37.00" cy="196.00" r="0.855" fill="#7ac143" stroke="#7ac143" stroke-width="0.6"/>
<circle cx="40.90" cy="176.60" r="0.855" fill="#7ac143" stroke="#7ac143" stroke-width="0.6"/>
<circle cx="44.30" cy="162.70" r="0.855" fill="#7ac143" stroke="#7ac143" stroke-width="0.6"/>
<circle cx="46.60" cy="158.30" r="0.855" fill="#7ac143" stroke="#7ac143" stroke-width="0.6"/>
<circle cx="49.60" cy="150.10" r="0.855" fill="#7ac143" stroke="#7ac143" stroke-width="0.6"/>
<polyline points="37.00,196.00 41.70,172.30 47.80,155.70 50.50,149.60" fill="none" stroke="#7ac143" stroke-width="1.0" stroke-linejoin="round"/>
<circle cx="37.00" cy="196.00" r="0.855" fill="#7ac143" stroke="#7ac143" stroke-width="0.6"/>
<circle cx="41.70" cy="172.30" r="0.855" fill="#7ac143" stroke="#7ac143" stroke-width="0.6"/>
<circle cx="47.80" cy="155.70" r="0.855" fill="#7ac143" stroke="#7ac143" stroke-width="0.6"/>
<circle cx="50.50" cy="149.60" r="0.855" fill="#7ac143" stroke="#7ac143" stroke-width="0.6"/>
<polyline points="37.00,196.00 40.00,185.00 43.00,175.00 45.50,168.00" fill="none" stroke="#7ac143" stroke-width="1.0" stroke-linejoin="round"/>
<circle cx="37.00" cy="196.00" r="0.855" fill="#7ac143" stroke="#7ac143" stroke-width="0.6"/>
<circle cx="40.00" cy="185.00" r="0.855" fill="#7ac143" stroke="#7ac143" stroke-width="0.6"/>
<circle cx="43.00" cy="175.00" r="0.855" fill="#7ac143" stroke="#7ac143" stroke-width="0.6"/>
<circle cx="45.50" cy="168.00" r="0.855" fill="#7ac143" stroke="#7ac143" stroke-width="0.6"/>
<polyline points="37.00,196.00 41.00,187.00 45.00,178.00 49.00,168.00 51.00,160.00 53.10,150.50" fill="none" stroke="#3f5ea9" stroke-width="1.0" stroke-linejoin="round"/>
<circle cx="37.00" cy="196.00" r="0.855" fill="#3f5ea9" stroke="#3f5ea9" stroke-width="0.6"/>
<circle cx="41.00" cy="187.00" r="0.855" fill="#3f5ea9" stroke="#3f5ea9" stroke-width="0.6"/>
<circle cx="45.00" cy="178.00" r="0.855" fill="#3f5ea9" stroke="#3f5ea9" stroke-width="0.6"/>
<circle cx="49.00" cy="168.00" r="0.855" fill="#3f5ea9" stroke="#3f5ea9" stroke-width="0.6"/>
<circle cx="51.00" cy="160.00" r="0.855" fill="#3f5ea9" stroke="#3f5ea9" stroke-width="0.6"/>
<circle cx="53.10" cy="150.50" r="0.855" fill="#3f5ea9" stroke="#3f5ea9" stroke-width="0.6"/>
<polyline points="37.00,196.00 42.00,185.00 46.00,177.00 50.00,170.00 54.00,160.00 57.40,152.60" fill="none" stroke="#3f5ea9" stroke-width="1.0" stroke-linejoin="round"/>
<circle cx="37.00" cy="196.00" r="0.855" fill="#3f5ea9" stroke="#3f5ea9" stroke-width="0.6"/>
<circle cx="42.00" cy="185.00" r="0.855" fill="#3f5ea9" stroke="#3f5ea9" stroke-width="0.6"/>
<circle cx="46.00" cy="177.00" r="0.855" fill="#3f5ea9" stroke="#3f5ea9" stroke-width="0.6"/>
<circle cx="50.00" cy="170.00" r="0.855" fill="#3f5ea9" stroke="#3f5ea9" stroke-width="0.6"/>
<circle cx="54.00" cy="160.00" r="0.855" fill="#3f5ea9" stroke="#3f5ea9" stroke-width="0.6"/>
<circle cx="57.40" cy="152.60" r="0.855" fill="#3f5ea9" stroke="#3f5ea9" stroke-width="0.6"/>
<polyline points="37.00,196.00 43.00,186.00 47.00,179.00 51.00,168.00 55.30,152.20" fill="none" stroke="#3f5ea9" stroke-width="1.0" stroke-linejoin="round"/>
<circle cx="37.00" cy="196.00" r="0.855" fill="#3f5ea9" stroke="#3f5ea9" stroke-width="0.6"/>
<circle cx="43.00" cy="186.00" r="0.855" fill="#3f5ea9" stroke="#3f5ea9" stroke-width="0.6"/>
<circle cx="47.00" cy="179.00" r="0.855" fill="#3f5ea9" stroke="#3f5ea9" stroke-width="0.6"/>
<circle cx="51.00" cy="168.00" r="0.855" fill="#3f5ea9" stroke="#3f5ea9" stroke-width="0.6"/>
<circle cx="55.30" cy="152.20" r="0.855" fill="#3f5ea9" stroke="#3f5ea9" stroke-width="0.6"/>
<polyline points="37.00,196.00 40.00,190.00 44.00,182.00 48.00,176.00 51.00,172.00 53.00,165.00" fill="none" stroke="#3f5ea9" stroke-width="1.0" stroke-linejoin="round"/>
<circle cx="37.00" cy="196.00" r="0.855" fill="#3f5ea9" stroke="#3f5ea9" stroke-width="0.6"/>
<circle cx="40.00" cy="190.00" r="0.855" fill="#3f5ea9" stroke="#3f5ea9" stroke-width="0.6"/>
<circle cx="44.00" cy="182.00" r="0.855" fill="#3f5ea9" stroke="#3f5ea9" stroke-width="0.6"/>
<circle cx="48.00" cy="176.00" r="0.855" fill="#3f5ea9" stroke="#3f5ea9" stroke-width="0.6"/>
<circle cx="51.00" cy="172.00" r="0.855" fill="#3f5ea9" stroke="#3f5ea9" stroke-width="0.6"/>
<circle cx="53.00" cy="165.00" r="0.855" fill="#3f5ea9" stroke="#3f5ea9" stroke-width="0.6"/>
<polyline points="37.00,196.00 45.00,194.00 54.80,192.40 58.30,182.80 60.00,182.20 64.10,185.90 67.00,178.40 70.50,160.90 71.40,151.90" fill="none" stroke="#3f5ea9" stroke-width="1.0" stroke-linejoin="round"/>
<circle cx="37.00" cy="196.00" r="0.855" fill="#3f5ea9" stroke="#3f5ea9" stroke-width="0.6"/>
<circle cx="45.00" cy="194.00" r="0.855" fill="#3f5ea9" stroke="#3f5ea9" stroke-width="0.6"/>
<circle cx="54.80" cy="192.40" r="0.855" fill="#3f5ea9" stroke="#3f5ea9" stroke-width="0.6"/>
<circle cx="58.30" cy="182.80" r="0.855" fill="#3f5ea9" stroke="#3f5ea9" stroke-width="0.6"/>
<circle cx="60.00" cy="182.20" r="0.855" fill="#3f5ea9" stroke="#3f5ea9" stroke-width="0.6"/>
<circle cx="64.10" cy="185.90" r="0.855" fill="#3f5ea9" stroke="#3f5ea9" stroke-width="0.6"/>
<circle cx="67.00" cy="178.40" r="0.855" fill="#3f5ea9" stroke="#3f5ea9" stroke-width="0.6"/>
<circle cx="70.50" cy="160.90" r="0.855" fill="#3f5ea9" stroke="#3f5ea9" stroke-width="0.6"/>
<circle cx="71.40" cy="151.90" r="0.855" fill="#3f5ea9" stroke="#3f5ea9" stroke-width="0.6"/>
<polyline points="37.00,196.00 39.00,194.00 41.00,196.00 43.00,195.00 44.90,183.30 46.50,195.00 48.00,196.50 50.00,194.50 52.00,196.00 54.00,197.00 56.00,195.50 58.00,196.50 60.00,195.00 62.00,196.50 64.00,197.00 66.00,195.00 68.00,196.00 70.00,196.50 71.40,195.50" fill="none" stroke="#d0394f" stroke-width="1.0" stroke-linejoin="round"/>
<circle cx="37.00" cy="196.00" r="0.9025" fill="#f6dde0" stroke="#d0394f" stroke-width="0.6"/>
<circle cx="39.00" cy="194.00" r="0.9025" fill="#f6dde0" stroke="#d0394f" stroke-width="0.6"/>
<circle cx="41.00" cy="196.00" r="0.9025" fill="#f6dde0" stroke="#d0394f" stroke-width="0.6"/>
<circle cx="43.00" cy="195.00" r="0.9025" fill="#f6dde0" stroke="#d0394f" stroke-width="0.6"/>
<circle cx="44.90" cy="183.30" r="0.9025" fill="#f6dde0" stroke="#d0394f" stroke-width="0.6"/>
<circle cx="46.50" cy="195.00" r="0.9025" fill="#f6dde0" stroke="#d0394f" stroke-width="0.6"/>
<circle cx="48.00" cy="196.50" r="0.9025" fill="#f6dde0" stroke="#d0394f" stroke-width="0.6"/>
<circle cx="50.00" cy="194.50" r="0.9025" fill="#f6dde0" stroke="#d0394f" stroke-width="0.6"/>
<circle cx="52.00" cy="196.00" r="0.9025" fill="#f6dde0" stroke="#d0394f" stroke-width="0.6"/>
<circle cx="54.00" cy="197.00" r="0.9025" fill="#f6dde0" stroke="#d0394f" stroke-width="0.6"/>
<circle cx="56.00" cy="195.50" r="0.9025" fill="#f6dde0" stroke="#d0394f" stroke-width="0.6"/>
<circle cx="58.00" cy="196.50" r="0.9025" fill="#f6dde0" stroke="#d0394f" stroke-width="0.6"/>
<circle cx="60.00" cy="195.00" r="0.9025" fill="#f6dde0" stroke="#d0394f" stroke-width="0.6"/>
<circle cx="62.00" cy="196.50" r="0.9025" fill="#f6dde0" stroke="#d0394f" stroke-width="0.6"/>
<circle cx="64.00" cy="197.00" r="0.9025" fill="#f6dde0" stroke="#d0394f" stroke-width="0.6"/>
<circle cx="66.00" cy="195.00" r="0.9025" fill="#f6dde0" stroke="#d0394f" stroke-width="0.6"/>
<circle cx="68.00" cy="196.00" r="0.9025" fill="#f6dde0" stroke="#d0394f" stroke-width="0.6"/>
<circle cx="70.00" cy="196.50" r="0.9025" fill="#f6dde0" stroke="#d0394f" stroke-width="0.6"/>
<circle cx="71.40" cy="195.50" r="0.9025" fill="#f6dde0" stroke="#d0394f" stroke-width="0.6"/>
<polyline points="37.00,197.00 39.00,198.00 41.00,197.50 43.00,198.00 46.00,198.00 48.00,197.00 50.00,198.50 52.00,197.50 54.00,198.00 56.00,198.00 58.00,197.00 60.00,198.00 62.00,197.50 64.00,198.00 66.00,197.50 68.00,198.00 70.00,197.50 71.40,198.50" fill="none" stroke="#d0394f" stroke-width="1.0" stroke-linejoin="round"/>
<circle cx="37.00" cy="197.00" r="0.9025" fill="#f6dde0" stroke="#d0394f" stroke-width="0.6"/>
<circle cx="39.00" cy="198.00" r="0.9025" fill="#f6dde0" stroke="#d0394f" stroke-width="0.6"/>
<circle cx="41.00" cy="197.50" r="0.9025" fill="#f6dde0" stroke="#d0394f" stroke-width="0.6"/>
<circle cx="43.00" cy="198.00" r="0.9025" fill="#f6dde0" stroke="#d0394f" stroke-width="0.6"/>
<circle cx="46.00" cy="198.00" r="0.9025" fill="#f6dde0" stroke="#d0394f" stroke-width="0.6"/>
<circle cx="48.00" cy="197.00" r="0.9025" fill="#f6dde0" stroke="#d0394f" stroke-width="0.6"/>
<circle cx="50.00" cy="198.50" r="0.9025" fill="#f6dde0" stroke="#d0394f" stroke-width="0.6"/>
<circle cx="52.00" cy="197.50" r="0.9025" fill="#f6dde0" stroke="#d0394f" stroke-width="0.6"/>
<circle cx="54.00" cy="198.00" r="0.9025" fill="#f6dde0" stroke="#d0394f" stroke-width="0.6"/>
<circle cx="56.00" cy="198.00" r="0.9025" fill="#f6dde0" stroke="#d0394f" stroke-width="0.6"/>
<circle cx="58.00" cy="197.00" r="0.9025" fill="#f6dde0" stroke="#d0394f" stroke-width="0.6"/>
<circle cx="60.00" cy="198.00" r="0.9025" fill="#f6dde0" stroke="#d0394f" stroke-width="0.6"/>
<circle cx="62.00" cy="197.50" r="0.9025" fill="#f6dde0" stroke="#d0394f" stroke-width="0.6"/>
<circle cx="64.00" cy="198.00" r="0.9025" fill="#f6dde0" stroke="#d0394f" stroke-width="0.6"/>
<circle cx="66.00" cy="197.50" r="0.9025" fill="#f6dde0" stroke="#d0394f" stroke-width="0.6"/>
<circle cx="68.00" cy="198.00" r="0.9025" fill="#f6dde0" stroke="#d0394f" stroke-width="0.6"/>
<circle cx="70.00" cy="197.50" r="0.9025" fill="#f6dde0" stroke="#d0394f" stroke-width="0.6"/>
<circle cx="71.40" cy="198.50" r="0.9025" fill="#f6dde0" stroke="#d0394f" stroke-width="0.6"/>
<polyline points="89.40,195.50 91.60,186.20 95.80,187.50 101.60,172.80 105.60,167.00 107.70,167.60" fill="none" stroke="#7ac143" stroke-width="1.0" stroke-linejoin="round"/>
<circle cx="89.40" cy="195.50" r="0.855" fill="#7ac143" stroke="#7ac143" stroke-width="0.6"/>
<circle cx="91.60" cy="186.20" r="0.855" fill="#7ac143" stroke="#7ac143" stroke-width="0.6"/>
<circle cx="95.80" cy="187.50" r="0.855" fill="#7ac143" stroke="#7ac143" stroke-width="0.6"/>
<circle cx="101.60" cy="172.80" r="0.855" fill="#7ac143" stroke="#7ac143" stroke-width="0.6"/>
<circle cx="105.60" cy="167.00" r="0.855" fill="#7ac143" stroke="#7ac143" stroke-width="0.6"/>
<circle cx="107.70" cy="167.60" r="0.855" fill="#7ac143" stroke="#7ac143" stroke-width="0.6"/>
<polyline points="89.40,195.50 93.70,192.40 98.10,183.60 103.30,174.90 106.80,167.00" fill="none" stroke="#7ac143" stroke-width="1.0" stroke-linejoin="round"/>
<circle cx="89.40" cy="195.50" r="0.855" fill="#7ac143" stroke="#7ac143" stroke-width="0.6"/>
<circle cx="93.70" cy="192.40" r="0.855" fill="#7ac143" stroke="#7ac143" stroke-width="0.6"/>
<circle cx="98.10" cy="183.60" r="0.855" fill="#7ac143" stroke="#7ac143" stroke-width="0.6"/>
<circle cx="103.30" cy="174.90" r="0.855" fill="#7ac143" stroke="#7ac143" stroke-width="0.6"/>
<circle cx="106.80" cy="167.00" r="0.855" fill="#7ac143" stroke="#7ac143" stroke-width="0.6"/>
<polyline points="89.40,197.00 91.00,199.00 93.00,198.50 95.00,199.50 97.00,198.00 99.00,197.50 101.00,197.00 103.00,198.00 105.00,200.50 107.00,201.00 109.00,199.50 111.00,200.00 113.00,198.50 115.00,200.00 117.00,199.50 119.00,198.50 121.00,199.00 123.00,200.00 124.30,201.00" fill="none" stroke="#3f5ea9" stroke-width="1.0" stroke-linejoin="round"/>
<circle cx="89.40" cy="197.00" r="0.855" fill="#3f5ea9" stroke="#3f5ea9" stroke-width="0.6"/>
<circle cx="91.00" cy="199.00" r="0.855" fill="#3f5ea9" stroke="#3f5ea9" stroke-width="0.6"/>
<circle cx="93.00" cy="198.50" r="0.855" fill="#3f5ea9" stroke="#3f5ea9" stroke-width="0.6"/>
<circle cx="95.00" cy="199.50" r="0.855" fill="#3f5ea9" stroke="#3f5ea9" stroke-width="0.6"/>
<circle cx="97.00" cy="198.00" r="0.855" fill="#3f5ea9" stroke="#3f5ea9" stroke-width="0.6"/>
<circle cx="99.00" cy="197.50" r="0.855" fill="#3f5ea9" stroke="#3f5ea9" stroke-width="0.6"/>
<circle cx="101.00" cy="197.00" r="0.855" fill="#3f5ea9" stroke="#3f5ea9" stroke-width="0.6"/>
<circle cx="103.00" cy="198.00" r="0.855" fill="#3f5ea9" stroke="#3f5ea9" stroke-width="0.6"/>
<circle cx="105.00" cy="200.50" r="0.855" fill="#3f5ea9" stroke="#3f5ea9" stroke-width="0.6"/>
<circle cx="107.00" cy="201.00" r="0.855" fill="#3f5ea9" stroke="#3f5ea9" stroke-width="0.6"/>
<circle cx="109.00" cy="199.50" r="0.855" fill="#3f5ea9" stroke="#3f5ea9" stroke-width="0.6"/>
<circle cx="111.00" cy="200.00" r="0.855" fill="#3f5ea9" stroke="#3f5ea9" stroke-width="0.6"/>
<circle cx="113.00" cy="198.50" r="0.855" fill="#3f5ea9" stroke="#3f5ea9" stroke-width="0.6"/>
<circle cx="115.00" cy="200.00" r="0.855" fill="#3f5ea9" stroke="#3f5ea9" stroke-width="0.6"/>
<circle cx="117.00" cy="199.50" r="0.855" fill="#3f5ea9" stroke="#3f5ea9" stroke-width="0.6"/>
<circle cx="119.00" cy="198.50" r="0.855" fill="#3f5ea9" stroke="#3f5ea9" stroke-width="0.6"/>
<circle cx="121.00" cy="199.00" r="0.855" fill="#3f5ea9" stroke="#3f5ea9" stroke-width="0.6"/>
<circle cx="123.00" cy="200.00" r="0.855" fill="#3f5ea9" stroke="#3f5ea9" stroke-width="0.6"/>
<circle cx="124.30" cy="201.00" r="0.855" fill="#3f5ea9" stroke="#3f5ea9" stroke-width="0.6"/>
<polyline points="89.40,195.50 91.00,196.00 93.00,195.00 95.00,196.50 97.00,195.50 99.00,196.00 101.00,194.50 103.00,195.50 105.00,196.00 107.00,195.00 109.00,196.50 111.00,196.00 113.00,195.00 115.00,196.00 117.00,196.50 119.00,195.50 121.00,196.00 123.00,195.50 124.30,196.50" fill="none" stroke="#d0394f" stroke-width="1.0" stroke-linejoin="round"/>
<circle cx="89.40" cy="195.50" r="0.9025" fill="#f6dde0" stroke="#d0394f" stroke-width="0.6"/>
<circle cx="91.00" cy="196.00" r="0.9025" fill="#f6dde0" stroke="#d0394f" stroke-width="0.6"/>
<circle cx="93.00" cy="195.00" r="0.9025" fill="#f6dde0" stroke="#d0394f" stroke-width="0.6"/>
<circle cx="95.00" cy="196.50" r="0.9025" fill="#f6dde0" stroke="#d0394f" stroke-width="0.6"/>
<circle cx="97.00" cy="195.50" r="0.9025" fill="#f6dde0" stroke="#d0394f" stroke-width="0.6"/>
<circle cx="99.00" cy="196.00" r="0.9025" fill="#f6dde0" stroke="#d0394f" stroke-width="0.6"/>
<circle cx="101.00" cy="194.50" r="0.9025" fill="#f6dde0" stroke="#d0394f" stroke-width="0.6"/>
<circle cx="103.00" cy="195.50" r="0.9025" fill="#f6dde0" stroke="#d0394f" stroke-width="0.6"/>
<circle cx="105.00" cy="196.00" r="0.9025" fill="#f6dde0" stroke="#d0394f" stroke-width="0.6"/>
<circle cx="107.00" cy="195.00" r="0.9025" fill="#f6dde0" stroke="#d0394f" stroke-width="0.6"/>
<circle cx="109.00" cy="196.50" r="0.9025" fill="#f6dde0" stroke="#d0394f" stroke-width="0.6"/>
<circle cx="111.00" cy="196.00" r="0.9025" fill="#f6dde0" stroke="#d0394f" stroke-width="0.6"/>
<circle cx="113.00" cy="195.00" r="0.9025" fill="#f6dde0" stroke="#d0394f" stroke-width="0.6"/>
<circle cx="115.00" cy="196.00" r="0.9025" fill="#f6dde0" stroke="#d0394f" stroke-width="0.6"/>
<circle cx="117.00" cy="196.50" r="0.9025" fill="#f6dde0" stroke="#d0394f" stroke-width="0.6"/>
<circle cx="119.00" cy="195.50" r="0.9025" fill="#f6dde0" stroke="#d0394f" stroke-width="0.6"/>
<circle cx="121.00" cy="196.00" r="0.9025" fill="#f6dde0" stroke="#d0394f" stroke-width="0.6"/>
<circle cx="123.00" cy="195.50" r="0.9025" fill="#f6dde0" stroke="#d0394f" stroke-width="0.6"/>
<circle cx="124.30" cy="196.50" r="0.9025" fill="#f6dde0" stroke="#d0394f" stroke-width="0.6"/>
<polyline points="89.40,196.00 91.00,197.50 93.00,196.50 95.00,197.00 97.00,196.00 99.00,197.00 101.00,196.00 103.00,197.00 105.00,197.50 107.00,197.00 109.00,197.50 111.00,198.00 113.00,197.00 115.00,197.50 117.00,198.00 119.00,197.00 121.00,197.50 123.00,198.00 124.30,197.50" fill="none" stroke="#d0394f" stroke-width="1.0" stroke-linejoin="round"/>
<circle cx="89.40" cy="196.00" r="0.9025" fill="#f6dde0" stroke="#d0394f" stroke-width="0.6"/>
<circle cx="91.00" cy="197.50" r="0.9025" fill="#f6dde0" stroke="#d0394f" stroke-width="0.6"/>
<circle cx="93.00" cy="196.50" r="0.9025" fill="#f6dde0" stroke="#d0394f" stroke-width="0.6"/>
<circle cx="95.00" cy="197.00" r="0.9025" fill="#f6dde0" stroke="#d0394f" stroke-width="0.6"/>
<circle cx="97.00" cy="196.00" r="0.9025" fill="#f6dde0" stroke="#d0394f" stroke-width="0.6"/>
<circle cx="99.00" cy="197.00" r="0.9025" fill="#f6dde0" stroke="#d0394f" stroke-width="0.6"/>
<circle cx="101.00" cy="196.00" r="0.9025" fill="#f6dde0" stroke="#d0394f" stroke-width="0.6"/>
<circle cx="103.00" cy="197.00" r="0.9025" fill="#f6dde0" stroke="#d0394f" stroke-width="0.6"/>
<circle cx="105.00" cy="197.50" r="0.9025" fill="#f6dde0" stroke="#d0394f" stroke-width="0.6"/>
<circle cx="107.00" cy="197.00" r="0.9025" fill="#f6dde0" stroke="#d0394f" stroke-width="0.6"/>
<circle cx="109.00" cy="197.50" r="0.9025" fill="#f6dde0" stroke="#d0394f" stroke-width="0.6"/>
<circle cx="111.00" cy="198.00" r="0.9025" fill="#f6dde0" stroke="#d0394f" stroke-width="0.6"/>
<circle cx="113.00" cy="197.00" r="0.9025" fill="#f6dde0" stroke="#d0394f" stroke-width="0.6"/>
<circle cx="115.00" cy="197.50" r="0.9025" fill="#f6dde0" stroke="#d0394f" stroke-width="0.6"/>
<circle cx="117.00" cy="198.00" r="0.9025" fill="#f6dde0" stroke="#d0394f" stroke-width="0.6"/>
<circle cx="119.00" cy="197.00" r="0.9025" fill="#f6dde0" stroke="#d0394f" stroke-width="0.6"/>
<circle cx="121.00" cy="197.50" r="0.9025" fill="#f6dde0" stroke="#d0394f" stroke-width="0.6"/>
<circle cx="123.00" cy="198.00" r="0.9025" fill="#f6dde0" stroke="#d0394f" stroke-width="0.6"/>
<circle cx="124.30" cy="197.50" r="0.9025" fill="#f6dde0" stroke="#d0394f" stroke-width="0.6"/>
<text transform="translate(13.70,152.00) rotate(-90)" x="0" y="0" font-size="8.6" fill="#231f20" stroke="#231f20" stroke-width="0.15" textLength="47.50" lengthAdjust="spacingAndGlyphs">Photons/second</text>
<text x="48.00" y="229.20" font-size="8.8" font-weight="normal" fill="#231f20" stroke="#231f20" stroke-width="0.15" textLength="66.00" lengthAdjust="spacingAndGlyphs">Days after ALL infusion</text>
<circle cx="34.4" cy="243.1" r="1.35" fill="#7ac143"/>
<text x="39.70" y="245.20" font-size="6.4" font-weight="normal" fill="#3a3a3a" stroke="#3a3a3a" stroke-width="0.12" textLength="22.20" lengthAdjust="spacingAndGlyphs">GFP only</text>
<circle cx="71.8" cy="243.1" r="1.35" fill="#3f5ea9"/>
<text x="76.00" y="245.20" font-size="6.4" font-weight="normal" fill="#3a3a3a" stroke="#3a3a3a" stroke-width="0.12" textLength="11.20" lengthAdjust="spacingAndGlyphs">CAR</text>
<circle cx="96.7" cy="243.1" r="1.35" fill="#d0394f"/>
<text x="101.70" y="245.20" font-size="6.4" font-weight="normal" fill="#3a3a3a" stroke="#3a3a3a" stroke-width="0.12" textLength="30.30" lengthAdjust="spacingAndGlyphs">EpoRm-CAR</text>
<rect x="36.70" y="343.43" width="37.50" height="25.07" fill="#ececef" stroke="#c8c8c8" stroke-width="0.9"/>
<line x1="36.70" y1="307.80" x2="36.70" y2="369.10" stroke="#231f20" stroke-width="1.3"/>
<line x1="36.10" y1="368.50" x2="77.00" y2="368.50" stroke="#231f20" stroke-width="1.3"/>
<line x1="33.50" y1="368.50" x2="36.70" y2="368.50" stroke="#231f20" stroke-width="0.9"/>
<text x="20.10" y="370.70" font-size="7.0" font-weight="normal" fill="#231f20" stroke="#231f20" stroke-width="0.15" textLength="6.10" lengthAdjust="spacingAndGlyphs">10</text>
<text x="26.50" y="368.20" font-size="3.6" font-weight="normal" fill="#555" stroke="#555" stroke-width="0.1" textLength="1.90" lengthAdjust="spacingAndGlyphs">5</text>
<line x1="33.50" y1="360.14" x2="36.70" y2="360.14" stroke="#231f20" stroke-width="0.9"/>
<text x="20.10" y="362.34" font-size="7.0" font-weight="normal" fill="#231f20" stroke="#231f20" stroke-width="0.15" textLength="6.10" lengthAdjust="spacingAndGlyphs">10</text>
<text x="26.50" y="359.84" font-size="3.6" font-weight="normal" fill="#555" stroke="#555" stroke-width="0.1" textLength="1.90" lengthAdjust="spacingAndGlyphs">6</text>
<line x1="33.50" y1="351.79" x2="36.70" y2="351.79" stroke="#231f20" stroke-width="0.9"/>
<text x="20.10" y="353.99" font-size="7.0" font-weight="normal" fill="#231f20" stroke="#231f20" stroke-width="0.15" textLength="6.10" lengthAdjust="spacingAndGlyphs">10</text>
<text x="26.50" y="351.49" font-size="3.6" font-weight="normal" fill="#555" stroke="#555" stroke-width="0.1" textLength="1.90" lengthAdjust="spacingAndGlyphs">7</text>
<line x1="33.50" y1="343.43" x2="36.70" y2="343.43" stroke="#231f20" stroke-width="0.9"/>
<text x="20.10" y="345.63" font-size="7.0" font-weight="normal" fill="#231f20" stroke="#231f20" stroke-width="0.15" textLength="6.10" lengthAdjust="spacingAndGlyphs">10</text>
<text x="26.50" y="343.13" font-size="3.6" font-weight="normal" fill="#555" stroke="#555" stroke-width="0.1" textLength="1.90" lengthAdjust="spacingAndGlyphs">8</text>
<line x1="33.50" y1="335.07" x2="36.70" y2="335.07" stroke="#231f20" stroke-width="0.9"/>
<text x="20.10" y="337.27" font-size="7.0" font-weight="normal" fill="#231f20" stroke="#231f20" stroke-width="0.15" textLength="6.10" lengthAdjust="spacingAndGlyphs">10</text>
<text x="26.50" y="334.77" font-size="3.6" font-weight="normal" fill="#555" stroke="#555" stroke-width="0.1" textLength="1.90" lengthAdjust="spacingAndGlyphs">9</text>
<line x1="33.50" y1="326.71" x2="36.70" y2="326.71" stroke="#231f20" stroke-width="0.9"/>
<text x="20.10" y="328.91" font-size="7.0" font-weight="normal" fill="#231f20" stroke="#231f20" stroke-width="0.15" textLength="6.10" lengthAdjust="spacingAndGlyphs">10</text>
<text x="26.50" y="326.41" font-size="3.6" font-weight="normal" fill="#555" stroke="#555" stroke-width="0.1" textLength="3.70" lengthAdjust="spacingAndGlyphs">10</text>
<line x1="33.50" y1="318.36" x2="36.70" y2="318.36" stroke="#231f20" stroke-width="0.9"/>
<text x="20.10" y="320.56" font-size="7.0" font-weight="normal" fill="#231f20" stroke="#231f20" stroke-width="0.15" textLength="6.10" lengthAdjust="spacingAndGlyphs">10</text>
<text x="26.50" y="318.06" font-size="3.6" font-weight="normal" fill="#555" stroke="#555" stroke-width="0.1" textLength="3.70" lengthAdjust="spacingAndGlyphs">11</text>
<line x1="33.50" y1="310.00" x2="36.70" y2="310.00" stroke="#231f20" stroke-width="0.9"/>
<text x="20.10" y="312.20" font-size="7.0" font-weight="normal" fill="#231f20" stroke="#231f20" stroke-width="0.15" textLength="6.10" lengthAdjust="spacingAndGlyphs">10</text>
<text x="26.50" y="309.70" font-size="3.6" font-weight="normal" fill="#555" stroke="#555" stroke-width="0.1" textLength="3.70" lengthAdjust="spacingAndGlyphs">12</text>
<line x1="36.70" y1="368.50" x2="36.70" y2="371.50" stroke="#231f20" stroke-width="0.9"/>
<line x1="44.47" y1="368.50" x2="44.47" y2="371.50" stroke="#231f20" stroke-width="0.9"/>
<line x1="54.18" y1="368.50" x2="54.18" y2="371.50" stroke="#231f20" stroke-width="0.9"/>
<line x1="63.89" y1="368.50" x2="63.89" y2="371.50" stroke="#231f20" stroke-width="0.9"/>
<line x1="73.60" y1="368.50" x2="73.60" y2="371.50" stroke="#231f20" stroke-width="0.9"/>
<text x="36.05" y="379.80" font-size="6.8" font-weight="normal" fill="#231f20" stroke="#231f20" stroke-width="0.15" textLength="2.90" lengthAdjust="spacingAndGlyphs">4</text>
<text x="43.37" y="379.80" font-size="6.8" font-weight="normal" fill="#231f20" stroke="#231f20" stroke-width="0.15" textLength="6.60" lengthAdjust="spacingAndGlyphs">20</text>
<text x="52.08" y="379.80" font-size="6.8" font-weight="normal" fill="#231f20" stroke="#231f20" stroke-width="0.15" textLength="6.60" lengthAdjust="spacingAndGlyphs">40</text>
<text x="60.89" y="379.80" font-size="6.8" font-weight="normal" fill="#231f20" stroke="#231f20" stroke-width="0.15" textLength="6.60" lengthAdjust="spacingAndGlyphs">60</text>
<text x="70.50" y="379.80" font-size="6.8" font-weight="normal" fill="#231f20" stroke="#231f20" stroke-width="0.15" textLength="6.60" lengthAdjust="spacingAndGlyphs">80</text>
<text x="39.00" y="302.40" font-size="8.7" font-weight="normal" fill="#231f20" stroke="#231f20" stroke-width="0.15" textLength="35.90" lengthAdjust="spacingAndGlyphs">no T cells</text>
<text x="64.30" y="367.00" font-size="5.0" font-weight="normal" fill="#333" stroke="#333" stroke-width="0.12" textLength="8.00" lengthAdjust="spacingAndGlyphs">0/6</text>
<rect x="85.75" y="343.43" width="37.45" height="25.07" fill="#ececef" stroke="#c8c8c8" stroke-width="0.9"/>
<line x1="85.75" y1="307.80" x2="85.75" y2="369.10" stroke="#231f20" stroke-width="1.3"/>
<line x1="85.15" y1="368.50" x2="126.00" y2="368.50" stroke="#231f20" stroke-width="1.3"/>
<line x1="82.55" y1="368.50" x2="85.75" y2="368.50" stroke="#231f20" stroke-width="0.9"/>
<line x1="82.55" y1="360.14" x2="85.75" y2="360.14" stroke="#231f20" stroke-width="0.9"/>
<line x1="82.55" y1="351.79" x2="85.75" y2="351.79" stroke="#231f20" stroke-width="0.9"/>
<line x1="82.55" y1="343.43" x2="85.75" y2="343.43" stroke="#231f20" stroke-width="0.9"/>
<line x1="82.55" y1="335.07" x2="85.75" y2="335.07" stroke="#231f20" stroke-width="0.9"/>
<line x1="82.55" y1="326.71" x2="85.75" y2="326.71" stroke="#231f20" stroke-width="0.9"/>
<line x1="82.55" y1="318.36" x2="85.75" y2="318.36" stroke="#231f20" stroke-width="0.9"/>
<line x1="82.55" y1="310.00" x2="85.75" y2="310.00" stroke="#231f20" stroke-width="0.9"/>
<line x1="85.75" y1="368.50" x2="85.75" y2="371.50" stroke="#231f20" stroke-width="0.9"/>
<line x1="93.51" y1="368.50" x2="93.51" y2="371.50" stroke="#231f20" stroke-width="0.9"/>
<line x1="103.21" y1="368.50" x2="103.21" y2="371.50" stroke="#231f20" stroke-width="0.9"/>
<line x1="112.90" y1="368.50" x2="112.90" y2="371.50" stroke="#231f20" stroke-width="0.9"/>
<line x1="122.60" y1="368.50" x2="122.60" y2="371.50" stroke="#231f20" stroke-width="0.9"/>
<text x="85.10" y="379.80" font-size="6.8" font-weight="normal" fill="#231f20" stroke="#231f20" stroke-width="0.15" textLength="2.90" lengthAdjust="spacingAndGlyphs">4</text>
<text x="92.41" y="379.80" font-size="6.8" font-weight="normal" fill="#231f20" stroke="#231f20" stroke-width="0.15" textLength="6.60" lengthAdjust="spacingAndGlyphs">20</text>
<text x="101.11" y="379.80" font-size="6.8" font-weight="normal" fill="#231f20" stroke="#231f20" stroke-width="0.15" textLength="6.60" lengthAdjust="spacingAndGlyphs">40</text>
<text x="109.90" y="379.80" font-size="6.8" font-weight="normal" fill="#231f20" stroke="#231f20" stroke-width="0.15" textLength="6.60" lengthAdjust="spacingAndGlyphs">60</text>
<text x="119.50" y="379.80" font-size="6.8" font-weight="normal" fill="#231f20" stroke="#231f20" stroke-width="0.15" textLength="6.60" lengthAdjust="spacingAndGlyphs">80</text>
<text x="88.40" y="302.40" font-size="8.7" font-weight="normal" fill="#231f20" stroke="#231f20" stroke-width="0.15" textLength="35.30" lengthAdjust="spacingAndGlyphs">GFP only</text>
<text x="113.30" y="367.00" font-size="5.0" font-weight="normal" fill="#333" stroke="#333" stroke-width="0.12" textLength="8.00" lengthAdjust="spacingAndGlyphs">0/7</text>
<rect x="134.70" y="343.43" width="37.40" height="25.07" fill="#ececef" stroke="#c8c8c8" stroke-width="0.9"/>
<line x1="134.70" y1="307.80" x2="134.70" y2="369.10" stroke="#231f20" stroke-width="1.3"/>
<line x1="134.10" y1="368.50" x2="174.90" y2="368.50" stroke="#231f20" stroke-width="1.3"/>
<line x1="131.50" y1="368.50" x2="134.70" y2="368.50" stroke="#231f20" stroke-width="0.9"/>
<line x1="131.50" y1="360.14" x2="134.70" y2="360.14" stroke="#231f20" stroke-width="0.9"/>
<line x1="131.50" y1="351.79" x2="134.70" y2="351.79" stroke="#231f20" stroke-width="0.9"/>
<line x1="131.50" y1="343.43" x2="134.70" y2="343.43" stroke="#231f20" stroke-width="0.9"/>
<line x1="131.50" y1="335.07" x2="134.70" y2="335.07" stroke="#231f20" stroke-width="0.9"/>
<line x1="131.50" y1="326.71" x2="134.70" y2="326.71" stroke="#231f20" stroke-width="0.9"/>
<line x1="131.50" y1="318.36" x2="134.70" y2="318.36" stroke="#231f20" stroke-width="0.9"/>
<line x1="131.50" y1="310.00" x2="134.70" y2="310.00" stroke="#231f20" stroke-width="0.9"/>
<line x1="134.70" y1="368.50" x2="134.70" y2="371.50" stroke="#231f20" stroke-width="0.9"/>
<line x1="142.45" y1="368.50" x2="142.45" y2="371.50" stroke="#231f20" stroke-width="0.9"/>
<line x1="152.13" y1="368.50" x2="152.13" y2="371.50" stroke="#231f20" stroke-width="0.9"/>
<line x1="161.82" y1="368.50" x2="161.82" y2="371.50" stroke="#231f20" stroke-width="0.9"/>
<line x1="171.50" y1="368.50" x2="171.50" y2="371.50" stroke="#231f20" stroke-width="0.9"/>
<text x="134.05" y="379.80" font-size="6.8" font-weight="normal" fill="#231f20" stroke="#231f20" stroke-width="0.15" textLength="2.90" lengthAdjust="spacingAndGlyphs">4</text>
<text x="141.35" y="379.80" font-size="6.8" font-weight="normal" fill="#231f20" stroke="#231f20" stroke-width="0.15" textLength="6.60" lengthAdjust="spacingAndGlyphs">20</text>
<text x="150.03" y="379.80" font-size="6.8" font-weight="normal" fill="#231f20" stroke="#231f20" stroke-width="0.15" textLength="6.60" lengthAdjust="spacingAndGlyphs">40</text>
<text x="158.82" y="379.80" font-size="6.8" font-weight="normal" fill="#231f20" stroke="#231f20" stroke-width="0.15" textLength="6.60" lengthAdjust="spacingAndGlyphs">60</text>
<text x="168.40" y="379.80" font-size="6.8" font-weight="normal" fill="#231f20" stroke="#231f20" stroke-width="0.15" textLength="6.60" lengthAdjust="spacingAndGlyphs">80</text>
<text x="146.00" y="302.40" font-size="8.7" font-weight="normal" fill="#231f20" stroke="#231f20" stroke-width="0.15" textLength="17.70" lengthAdjust="spacingAndGlyphs">CAR</text>
<text x="162.20" y="367.00" font-size="5.0" font-weight="normal" fill="#333" stroke="#333" stroke-width="0.12" textLength="8.00" lengthAdjust="spacingAndGlyphs">3/8</text>
<rect x="184.70" y="343.43" width="37.40" height="25.07" fill="#ececef" stroke="#c8c8c8" stroke-width="0.9"/>
<line x1="184.70" y1="307.80" x2="184.70" y2="369.10" stroke="#231f20" stroke-width="1.3"/>
<line x1="184.10" y1="368.50" x2="224.90" y2="368.50" stroke="#231f20" stroke-width="1.3"/>
<line x1="181.50" y1="368.50" x2="184.70" y2="368.50" stroke="#231f20" stroke-width="0.9"/>
<line x1="181.50" y1="360.14" x2="184.70" y2="360.14" stroke="#231f20" stroke-width="0.9"/>
<line x1="181.50" y1="351.79" x2="184.70" y2="351.79" stroke="#231f20" stroke-width="0.9"/>
<line x1="181.50" y1="343.43" x2="184.70" y2="343.43" stroke="#231f20" stroke-width="0.9"/>
<line x1="181.50" y1="335.07" x2="184.70" y2="335.07" stroke="#231f20" stroke-width="0.9"/>
<line x1="181.50" y1="326.71" x2="184.70" y2="326.71" stroke="#231f20" stroke-width="0.9"/>
<line x1="181.50" y1="318.36" x2="184.70" y2="318.36" stroke="#231f20" stroke-width="0.9"/>
<line x1="181.50" y1="310.00" x2="184.70" y2="310.00" stroke="#231f20" stroke-width="0.9"/>
<line x1="184.70" y1="368.50" x2="184.70" y2="371.50" stroke="#231f20" stroke-width="0.9"/>
<line x1="192.45" y1="368.50" x2="192.45" y2="371.50" stroke="#231f20" stroke-width="0.9"/>
<line x1="202.13" y1="368.50" x2="202.13" y2="371.50" stroke="#231f20" stroke-width="0.9"/>
<line x1="211.82" y1="368.50" x2="211.82" y2="371.50" stroke="#231f20" stroke-width="0.9"/>
<line x1="221.50" y1="368.50" x2="221.50" y2="371.50" stroke="#231f20" stroke-width="0.9"/>
<text x="184.05" y="379.80" font-size="6.8" font-weight="normal" fill="#231f20" stroke="#231f20" stroke-width="0.15" textLength="2.90" lengthAdjust="spacingAndGlyphs">4</text>
<text x="191.35" y="379.80" font-size="6.8" font-weight="normal" fill="#231f20" stroke="#231f20" stroke-width="0.15" textLength="6.60" lengthAdjust="spacingAndGlyphs">20</text>
<text x="200.03" y="379.80" font-size="6.8" font-weight="normal" fill="#231f20" stroke="#231f20" stroke-width="0.15" textLength="6.60" lengthAdjust="spacingAndGlyphs">40</text>
<text x="208.82" y="379.80" font-size="6.8" font-weight="normal" fill="#231f20" stroke="#231f20" stroke-width="0.15" textLength="6.60" lengthAdjust="spacingAndGlyphs">60</text>
<text x="218.40" y="379.80" font-size="6.8" font-weight="normal" fill="#231f20" stroke="#231f20" stroke-width="0.15" textLength="6.60" lengthAdjust="spacingAndGlyphs">80</text>
<text x="180.30" y="302.40" font-size="8.7" font-weight="normal" fill="#231f20" stroke="#231f20" stroke-width="0.15" textLength="48.30" lengthAdjust="spacingAndGlyphs">EpoRm-CAR</text>
<text x="212.20" y="367.00" font-size="5.0" font-weight="normal" fill="#333" stroke="#333" stroke-width="0.12" textLength="8.00" lengthAdjust="spacingAndGlyphs">5/7</text>
<polyline points="38.00,350.00 39.00,344.00 40.50,336.00 41.50,328.00 43.50,319.00" fill="none" stroke="#9b7bbd" stroke-width="2.4" stroke-linejoin="round" stroke-linecap="round"/>
<polyline points="36.90,352.20 37.80,345.10 39.40,341.00 39.70,330.90 41.10,325.90 43.10,317.50" fill="none" stroke="#6f3f95" stroke-width="0.9" stroke-linejoin="round"/>
<circle cx="36.90" cy="352.20" r="0.81" fill="#6f3f95" stroke="#6f3f95" stroke-width="0.6"/>
<circle cx="37.80" cy="345.10" r="0.81" fill="#6f3f95" stroke="#6f3f95" stroke-width="0.6"/>
<circle cx="39.40" cy="341.00" r="0.81" fill="#6f3f95" stroke="#6f3f95" stroke-width="0.6"/>
<circle cx="39.70" cy="330.90" r="0.81" fill="#6f3f95" stroke="#6f3f95" stroke-width="0.6"/>
<circle cx="41.10" cy="325.90" r="0.81" fill="#6f3f95" stroke="#6f3f95" stroke-width="0.6"/>
<circle cx="43.10" cy="317.50" r="0.81" fill="#6f3f95" stroke="#6f3f95" stroke-width="0.6"/>
<polyline points="37.80,352.20 38.70,345.10 40.30,341.00 40.60,330.90 42.00,325.90 44.00,317.50" fill="none" stroke="#6f3f95" stroke-width="0.9" stroke-linejoin="round"/>
<circle cx="37.80" cy="352.20" r="0.81" fill="#6f3f95" stroke="#6f3f95" stroke-width="0.6"/>
<circle cx="38.70" cy="345.10" r="0.81" fill="#6f3f95" stroke="#6f3f95" stroke-width="0.6"/>
<circle cx="40.30" cy="341.00" r="0.81" fill="#6f3f95" stroke="#6f3f95" stroke-width="0.6"/>
<circle cx="40.60" cy="330.90" r="0.81" fill="#6f3f95" stroke="#6f3f95" stroke-width="0.6"/>
<circle cx="42.00" cy="325.90" r="0.81" fill="#6f3f95" stroke="#6f3f95" stroke-width="0.6"/>
<circle cx="44.00" cy="317.50" r="0.81" fill="#6f3f95" stroke="#6f3f95" stroke-width="0.6"/>
<polyline points="38.40,352.20 39.30,345.10 40.90,341.00 41.20,330.90 42.60,325.90 44.60,317.50" fill="none" stroke="#6f3f95" stroke-width="0.9" stroke-linejoin="round"/>
<circle cx="38.40" cy="352.20" r="0.81" fill="#6f3f95" stroke="#6f3f95" stroke-width="0.6"/>
<circle cx="39.30" cy="345.10" r="0.81" fill="#6f3f95" stroke="#6f3f95" stroke-width="0.6"/>
<circle cx="40.90" cy="341.00" r="0.81" fill="#6f3f95" stroke="#6f3f95" stroke-width="0.6"/>
<circle cx="41.20" cy="330.90" r="0.81" fill="#6f3f95" stroke="#6f3f95" stroke-width="0.6"/>
<circle cx="42.60" cy="325.90" r="0.81" fill="#6f3f95" stroke="#6f3f95" stroke-width="0.6"/>
<circle cx="44.60" cy="317.50" r="0.81" fill="#6f3f95" stroke="#6f3f95" stroke-width="0.6"/>
<polyline points="37.50,352.00 39.00,343.00 40.00,342.50 41.00,338.00 41.50,329.00 43.00,322.00 43.60,319.50" fill="none" stroke="#6f3f95" stroke-width="0.9" stroke-linejoin="round"/>
<circle cx="37.50" cy="352.00" r="0.81" fill="#6f3f95" stroke="#6f3f95" stroke-width="0.6"/>
<circle cx="39.00" cy="343.00" r="0.81" fill="#6f3f95" stroke="#6f3f95" stroke-width="0.6"/>
<circle cx="40.00" cy="342.50" r="0.81" fill="#6f3f95" stroke="#6f3f95" stroke-width="0.6"/>
<circle cx="41.00" cy="338.00" r="0.81" fill="#6f3f95" stroke="#6f3f95" stroke-width="0.6"/>
<circle cx="41.50" cy="329.00" r="0.81" fill="#6f3f95" stroke="#6f3f95" stroke-width="0.6"/>
<circle cx="43.00" cy="322.00" r="0.81" fill="#6f3f95" stroke="#6f3f95" stroke-width="0.6"/>
<circle cx="43.60" cy="319.50" r="0.81" fill="#6f3f95" stroke="#6f3f95" stroke-width="0.6"/>
<polyline points="87.00,350.00 88.00,344.00 89.50,336.00 90.50,328.00 92.50,319.00" fill="none" stroke="#a6d58a" stroke-width="2.4" stroke-linejoin="round" stroke-linecap="round"/>
<polyline points="85.90,352.00 86.90,345.00 88.40,341.00 88.90,331.00 90.20,326.00 92.20,317.50" fill="none" stroke="#7ac143" stroke-width="0.9" stroke-linejoin="round"/>
<circle cx="85.90" cy="352.00" r="0.7200000000000001" fill="#7ac143" stroke="#7ac143" stroke-width="0.6"/>
<circle cx="86.90" cy="345.00" r="0.7200000000000001" fill="#7ac143" stroke="#7ac143" stroke-width="0.6"/>
<circle cx="88.40" cy="341.00" r="0.7200000000000001" fill="#7ac143" stroke="#7ac143" stroke-width="0.6"/>
<circle cx="88.90" cy="331.00" r="0.7200000000000001" fill="#7ac143" stroke="#7ac143" stroke-width="0.6"/>
<circle cx="90.20" cy="326.00" r="0.7200000000000001" fill="#7ac143" stroke="#7ac143" stroke-width="0.6"/>
<circle cx="92.20" cy="317.50" r="0.7200000000000001" fill="#7ac143" stroke="#7ac143" stroke-width="0.6"/>
<polyline points="86.80,352.00 87.80,345.00 89.30,341.00 89.80,331.00 91.10,326.00 93.10,317.50" fill="none" stroke="#7ac143" stroke-width="0.9" stroke-linejoin="round"/>
<circle cx="86.80" cy="352.00" r="0.7200000000000001" fill="#7ac143" stroke="#7ac143" stroke-width="0.6"/>
<circle cx="87.80" cy="345.00" r="0.7200000000000001" fill="#7ac143" stroke="#7ac143" stroke-width="0.6"/>
<circle cx="89.30" cy="341.00" r="0.7200000000000001" fill="#7ac143" stroke="#7ac143" stroke-width="0.6"/>
<circle cx="89.80" cy="331.00" r="0.7200000000000001" fill="#7ac143" stroke="#7ac143" stroke-width="0.6"/>
<circle cx="91.10" cy="326.00" r="0.7200000000000001" fill="#7ac143" stroke="#7ac143" stroke-width="0.6"/>
<circle cx="93.10" cy="317.50" r="0.7200000000000001" fill="#7ac143" stroke="#7ac143" stroke-width="0.6"/>
<polyline points="87.40,352.00 88.40,345.00 89.90,341.00 90.40,331.00 91.70,326.00 93.70,317.50" fill="none" stroke="#7ac143" stroke-width="0.9" stroke-linejoin="round"/>
<circle cx="87.40" cy="352.00" r="0.7200000000000001" fill="#7ac143" stroke="#7ac143" stroke-width="0.6"/>
<circle cx="88.40" cy="345.00" r="0.7200000000000001" fill="#7ac143" stroke="#7ac143" stroke-width="0.6"/>
<circle cx="89.90" cy="341.00" r="0.7200000000000001" fill="#7ac143" stroke="#7ac143" stroke-width="0.6"/>
<circle cx="90.40" cy="331.00" r="0.7200000000000001" fill="#7ac143" stroke="#7ac143" stroke-width="0.6"/>
<circle cx="91.70" cy="326.00" r="0.7200000000000001" fill="#7ac143" stroke="#7ac143" stroke-width="0.6"/>
<circle cx="93.70" cy="317.50" r="0.7200000000000001" fill="#7ac143" stroke="#7ac143" stroke-width="0.6"/>
<polyline points="86.00,352.00 87.50,343.00 89.50,334.00 91.00,325.00 92.30,316.00" fill="none" stroke="#7ac143" stroke-width="0.8" stroke-linejoin="round"/>
<circle cx="86.00" cy="352.00" r="0.7200000000000001" fill="#7ac143" stroke="#7ac143" stroke-width="0.6"/>
<circle cx="87.50" cy="343.00" r="0.7200000000000001" fill="#7ac143" stroke="#7ac143" stroke-width="0.6"/>
<circle cx="89.50" cy="334.00" r="0.7200000000000001" fill="#7ac143" stroke="#7ac143" stroke-width="0.6"/>
<circle cx="91.00" cy="325.00" r="0.7200000000000001" fill="#7ac143" stroke="#7ac143" stroke-width="0.6"/>
<circle cx="92.30" cy="316.00" r="0.7200000000000001" fill="#7ac143" stroke="#7ac143" stroke-width="0.6"/>
<polyline points="135.00,352.00 138.00,348.00 141.00,345.00 144.00,341.00 146.50,336.00 149.00,330.00 151.50,325.00 153.00,321.00 154.90,318.10" fill="none" stroke="#4a62aa" stroke-width="1.0" stroke-linejoin="round"/>
<circle cx="135.00" cy="352.00" r="0.855" fill="#4a62aa" stroke="#4a62aa" stroke-width="0.6"/>
<circle cx="138.00" cy="348.00" r="0.855" fill="#4a62aa" stroke="#4a62aa" stroke-width="0.6"/>
<circle cx="141.00" cy="345.00" r="0.855" fill="#4a62aa" stroke="#4a62aa" stroke-width="0.6"/>
<circle cx="144.00" cy="341.00" r="0.855" fill="#4a62aa" stroke="#4a62aa" stroke-width="0.6"/>
<circle cx="146.50" cy="336.00" r="0.855" fill="#4a62aa" stroke="#4a62aa" stroke-width="0.6"/>
<circle cx="149.00" cy="330.00" r="0.855" fill="#4a62aa" stroke="#4a62aa" stroke-width="0.6"/>
<circle cx="151.50" cy="325.00" r="0.855" fill="#4a62aa" stroke="#4a62aa" stroke-width="0.6"/>
<circle cx="153.00" cy="321.00" r="0.855" fill="#4a62aa" stroke="#4a62aa" stroke-width="0.6"/>
<circle cx="154.90" cy="318.10" r="0.855" fill="#4a62aa" stroke="#4a62aa" stroke-width="0.6"/>
<polyline points="135.00,355.00 140.00,352.00 143.00,349.00 146.00,346.00 148.50,342.00 150.50,337.00 152.50,331.00 154.50,326.00 156.60,322.50" fill="none" stroke="#4a62aa" stroke-width="1.0" stroke-linejoin="round"/>
<circle cx="135.00" cy="355.00" r="0.855" fill="#4a62aa" stroke="#4a62aa" stroke-width="0.6"/>
<circle cx="140.00" cy="352.00" r="0.855" fill="#4a62aa" stroke="#4a62aa" stroke-width="0.6"/>
<circle cx="143.00" cy="349.00" r="0.855" fill="#4a62aa" stroke="#4a62aa" stroke-width="0.6"/>
<circle cx="146.00" cy="346.00" r="0.855" fill="#4a62aa" stroke="#4a62aa" stroke-width="0.6"/>
<circle cx="148.50" cy="342.00" r="0.855" fill="#4a62aa" stroke="#4a62aa" stroke-width="0.6"/>
<circle cx="150.50" cy="337.00" r="0.855" fill="#4a62aa" stroke="#4a62aa" stroke-width="0.6"/>
<circle cx="152.50" cy="331.00" r="0.855" fill="#4a62aa" stroke="#4a62aa" stroke-width="0.6"/>
<circle cx="154.50" cy="326.00" r="0.855" fill="#4a62aa" stroke="#4a62aa" stroke-width="0.6"/>
<circle cx="156.60" cy="322.50" r="0.855" fill="#4a62aa" stroke="#4a62aa" stroke-width="0.6"/>
<polyline points="135.00,356.00 142.00,354.00 147.00,352.00 150.00,349.00 153.00,344.00 155.00,339.00 157.00,334.00 158.50,328.00 160.30,322.50" fill="none" stroke="#4a62aa" stroke-width="1.0" stroke-linejoin="round"/>
<circle cx="135.00" cy="356.00" r="0.855" fill="#4a62aa" stroke="#4a62aa" stroke-width="0.6"/>
<circle cx="142.00" cy="354.00" r="0.855" fill="#4a62aa" stroke="#4a62aa" stroke-width="0.6"/>
<circle cx="147.00" cy="352.00" r="0.855" fill="#4a62aa" stroke="#4a62aa" stroke-width="0.6"/>
<circle cx="150.00" cy="349.00" r="0.855" fill="#4a62aa" stroke="#4a62aa" stroke-width="0.6"/>
<circle cx="153.00" cy="344.00" r="0.855" fill="#4a62aa" stroke="#4a62aa" stroke-width="0.6"/>
<circle cx="155.00" cy="339.00" r="0.855" fill="#4a62aa" stroke="#4a62aa" stroke-width="0.6"/>
<circle cx="157.00" cy="334.00" r="0.855" fill="#4a62aa" stroke="#4a62aa" stroke-width="0.6"/>
<circle cx="158.50" cy="328.00" r="0.855" fill="#4a62aa" stroke="#4a62aa" stroke-width="0.6"/>
<circle cx="160.30" cy="322.50" r="0.855" fill="#4a62aa" stroke="#4a62aa" stroke-width="0.6"/>
<polyline points="135.00,357.00 145.00,357.00 150.00,356.00 153.00,354.00 156.00,350.00 159.00,343.00 161.00,337.00 163.00,331.00 164.50,325.00 165.70,320.40" fill="none" stroke="#4a62aa" stroke-width="1.0" stroke-linejoin="round"/>
<circle cx="135.00" cy="357.00" r="0.855" fill="#4a62aa" stroke="#4a62aa" stroke-width="0.6"/>
<circle cx="145.00" cy="357.00" r="0.855" fill="#4a62aa" stroke="#4a62aa" stroke-width="0.6"/>
<circle cx="150.00" cy="356.00" r="0.855" fill="#4a62aa" stroke="#4a62aa" stroke-width="0.6"/>
<circle cx="153.00" cy="354.00" r="0.855" fill="#4a62aa" stroke="#4a62aa" stroke-width="0.6"/>
<circle cx="156.00" cy="350.00" r="0.855" fill="#4a62aa" stroke="#4a62aa" stroke-width="0.6"/>
<circle cx="159.00" cy="343.00" r="0.855" fill="#4a62aa" stroke="#4a62aa" stroke-width="0.6"/>
<circle cx="161.00" cy="337.00" r="0.855" fill="#4a62aa" stroke="#4a62aa" stroke-width="0.6"/>
<circle cx="163.00" cy="331.00" r="0.855" fill="#4a62aa" stroke="#4a62aa" stroke-width="0.6"/>
<circle cx="164.50" cy="325.00" r="0.855" fill="#4a62aa" stroke="#4a62aa" stroke-width="0.6"/>
<circle cx="165.70" cy="320.40" r="0.855" fill="#4a62aa" stroke="#4a62aa" stroke-width="0.6"/>
<polyline points="135.00,352.15 137.90,351.21 140.80,353.92 143.70,350.79 146.60,353.29 149.50,352.37 152.40,350.71 155.30,353.14 158.20,350.60 161.10,352.74 164.00,350.78 166.90,350.89" fill="none" stroke="#4a62aa" stroke-width="0.8" stroke-linejoin="round"/>
<circle cx="135.00" cy="352.15" r="0.7200000000000001" fill="#4a62aa" stroke="#4a62aa" stroke-width="0.6"/>
<circle cx="137.90" cy="351.21" r="0.7200000000000001" fill="#4a62aa" stroke="#4a62aa" stroke-width="0.6"/>
<circle cx="140.80" cy="353.92" r="0.7200000000000001" fill="#4a62aa" stroke="#4a62aa" stroke-width="0.6"/>
<circle cx="143.70" cy="350.79" r="0.7200000000000001" fill="#4a62aa" stroke="#4a62aa" stroke-width="0.6"/>
<circle cx="146.60" cy="353.29" r="0.7200000000000001" fill="#4a62aa" stroke="#4a62aa" stroke-width="0.6"/>
<circle cx="149.50" cy="352.37" r="0.7200000000000001" fill="#4a62aa" stroke="#4a62aa" stroke-width="0.6"/>
<circle cx="152.40" cy="350.71" r="0.7200000000000001" fill="#4a62aa" stroke="#4a62aa" stroke-width="0.6"/>
<circle cx="155.30" cy="353.14" r="0.7200000000000001" fill="#4a62aa" stroke="#4a62aa" stroke-width="0.6"/>
<circle cx="158.20" cy="350.60" r="0.7200000000000001" fill="#4a62aa" stroke="#4a62aa" stroke-width="0.6"/>
<circle cx="161.10" cy="352.74" r="0.7200000000000001" fill="#4a62aa" stroke="#4a62aa" stroke-width="0.6"/>
<circle cx="164.00" cy="350.78" r="0.7200000000000001" fill="#4a62aa" stroke="#4a62aa" stroke-width="0.6"/>
<circle cx="166.90" cy="350.89" r="0.7200000000000001" fill="#4a62aa" stroke="#4a62aa" stroke-width="0.6"/>
<polyline points="135.00,355.09 137.90,357.27 140.80,353.47 143.70,354.01 146.60,356.19 149.50,357.92 152.40,355.92 155.30,354.94 158.20,358.07 161.10,353.05 164.00,357.44 166.90,354.36" fill="none" stroke="#4a62aa" stroke-width="0.8" stroke-linejoin="round"/>
<circle cx="135.00" cy="355.09" r="0.7200000000000001" fill="#4a62aa" stroke="#4a62aa" stroke-width="0.6"/>
<circle cx="137.90" cy="357.27" r="0.7200000000000001" fill="#4a62aa" stroke="#4a62aa" stroke-width="0.6"/>
<circle cx="140.80" cy="353.47" r="0.7200000000000001" fill="#4a62aa" stroke="#4a62aa" stroke-width="0.6"/>
<circle cx="143.70" cy="354.01" r="0.7200000000000001" fill="#4a62aa" stroke="#4a62aa" stroke-width="0.6"/>
<circle cx="146.60" cy="356.19" r="0.7200000000000001" fill="#4a62aa" stroke="#4a62aa" stroke-width="0.6"/>
<circle cx="149.50" cy="357.92" r="0.7200000000000001" fill="#4a62aa" stroke="#4a62aa" stroke-width="0.6"/>
<circle cx="152.40" cy="355.92" r="0.7200000000000001" fill="#4a62aa" stroke="#4a62aa" stroke-width="0.6"/>
<circle cx="155.30" cy="354.94" r="0.7200000000000001" fill="#4a62aa" stroke="#4a62aa" stroke-width="0.6"/>
<circle cx="158.20" cy="358.07" r="0.7200000000000001" fill="#4a62aa" stroke="#4a62aa" stroke-width="0.6"/>
<circle cx="161.10" cy="353.05" r="0.7200000000000001" fill="#4a62aa" stroke="#4a62aa" stroke-width="0.6"/>
<circle cx="164.00" cy="357.44" r="0.7200000000000001" fill="#4a62aa" stroke="#4a62aa" stroke-width="0.6"/>
<circle cx="166.90" cy="354.36" r="0.7200000000000001" fill="#4a62aa" stroke="#4a62aa" stroke-width="0.6"/>
<polyline points="135.00,355.98 137.90,355.84 140.80,356.87 143.70,359.61 146.60,356.18 149.50,358.34 152.40,358.65 155.30,357.21 158.20,358.16 161.10,355.54 164.00,355.52 166.90,356.31" fill="none" stroke="#4a62aa" stroke-width="0.8" stroke-linejoin="round"/>
<circle cx="135.00" cy="355.98" r="0.7200000000000001" fill="#4a62aa" stroke="#4a62aa" stroke-width="0.6"/>
<circle cx="137.90" cy="355.84" r="0.7200000000000001" fill="#4a62aa" stroke="#4a62aa" stroke-width="0.6"/>
<circle cx="140.80" cy="356.87" r="0.7200000000000001" fill="#4a62aa" stroke="#4a62aa" stroke-width="0.6"/>
<circle cx="143.70" cy="359.61" r="0.7200000000000001" fill="#4a62aa" stroke="#4a62aa" stroke-width="0.6"/>
<circle cx="146.60" cy="356.18" r="0.7200000000000001" fill="#4a62aa" stroke="#4a62aa" stroke-width="0.6"/>
<circle cx="149.50" cy="358.34" r="0.7200000000000001" fill="#4a62aa" stroke="#4a62aa" stroke-width="0.6"/>
<circle cx="152.40" cy="358.65" r="0.7200000000000001" fill="#4a62aa" stroke="#4a62aa" stroke-width="0.6"/>
<circle cx="155.30" cy="357.21" r="0.7200000000000001" fill="#4a62aa" stroke="#4a62aa" stroke-width="0.6"/>
<circle cx="158.20" cy="358.16" r="0.7200000000000001" fill="#4a62aa" stroke="#4a62aa" stroke-width="0.6"/>
<circle cx="161.10" cy="355.54" r="0.7200000000000001" fill="#4a62aa" stroke="#4a62aa" stroke-width="0.6"/>
<circle cx="164.00" cy="355.52" r="0.7200000000000001" fill="#4a62aa" stroke="#4a62aa" stroke-width="0.6"/>
<circle cx="166.90" cy="356.31" r="0.7200000000000001" fill="#4a62aa" stroke="#4a62aa" stroke-width="0.6"/>
<polyline points="135.00,361.27 137.90,359.91 140.80,359.30 143.70,360.76 146.60,360.05 149.50,359.22 152.40,361.89 155.30,361.37 158.20,358.92 161.10,360.70 164.00,360.44 166.90,362.33" fill="none" stroke="#4a62aa" stroke-width="0.8" stroke-linejoin="round"/>
<circle cx="135.00" cy="361.27" r="0.7200000000000001" fill="#4a62aa" stroke="#4a62aa" stroke-width="0.6"/>
<circle cx="137.90" cy="359.91" r="0.7200000000000001" fill="#4a62aa" stroke="#4a62aa" stroke-width="0.6"/>
<circle cx="140.80" cy="359.30" r="0.7200000000000001" fill="#4a62aa" stroke="#4a62aa" stroke-width="0.6"/>
<circle cx="143.70" cy="360.76" r="0.7200000000000001" fill="#4a62aa" stroke="#4a62aa" stroke-width="0.6"/>
<circle cx="146.60" cy="360.05" r="0.7200000000000001" fill="#4a62aa" stroke="#4a62aa" stroke-width="0.6"/>
<circle cx="149.50" cy="359.22" r="0.7200000000000001" fill="#4a62aa" stroke="#4a62aa" stroke-width="0.6"/>
<circle cx="152.40" cy="361.89" r="0.7200000000000001" fill="#4a62aa" stroke="#4a62aa" stroke-width="0.6"/>
<circle cx="155.30" cy="361.37" r="0.7200000000000001" fill="#4a62aa" stroke="#4a62aa" stroke-width="0.6"/>
<circle cx="158.20" cy="358.92" r="0.7200000000000001" fill="#4a62aa" stroke="#4a62aa" stroke-width="0.6"/>
<circle cx="161.10" cy="360.70" r="0.7200000000000001" fill="#4a62aa" stroke="#4a62aa" stroke-width="0.6"/>
<circle cx="164.00" cy="360.44" r="0.7200000000000001" fill="#4a62aa" stroke="#4a62aa" stroke-width="0.6"/>
<circle cx="166.90" cy="362.33" r="0.7200000000000001" fill="#4a62aa" stroke="#4a62aa" stroke-width="0.6"/>
<polyline points="135.00,354.34 137.90,351.95 140.80,355.69 143.70,351.04 146.60,352.66 149.50,354.49 152.40,351.22 155.30,353.04 158.20,350.61 161.10,354.01 164.00,354.53 166.90,353.49" fill="none" stroke="#4a62aa" stroke-width="0.8" stroke-linejoin="round"/>
<circle cx="135.00" cy="354.34" r="0.7200000000000001" fill="#4a62aa" stroke="#4a62aa" stroke-width="0.6"/>
<circle cx="137.90" cy="351.95" r="0.7200000000000001" fill="#4a62aa" stroke="#4a62aa" stroke-width="0.6"/>
<circle cx="140.80" cy="355.69" r="0.7200000000000001" fill="#4a62aa" stroke="#4a62aa" stroke-width="0.6"/>
<circle cx="143.70" cy="351.04" r="0.7200000000000001" fill="#4a62aa" stroke="#4a62aa" stroke-width="0.6"/>
<circle cx="146.60" cy="352.66" r="0.7200000000000001" fill="#4a62aa" stroke="#4a62aa" stroke-width="0.6"/>
<circle cx="149.50" cy="354.49" r="0.7200000000000001" fill="#4a62aa" stroke="#4a62aa" stroke-width="0.6"/>
<circle cx="152.40" cy="351.22" r="0.7200000000000001" fill="#4a62aa" stroke="#4a62aa" stroke-width="0.6"/>
<circle cx="155.30" cy="353.04" r="0.7200000000000001" fill="#4a62aa" stroke="#4a62aa" stroke-width="0.6"/>
<circle cx="158.20" cy="350.61" r="0.7200000000000001" fill="#4a62aa" stroke="#4a62aa" stroke-width="0.6"/>
<circle cx="161.10" cy="354.01" r="0.7200000000000001" fill="#4a62aa" stroke="#4a62aa" stroke-width="0.6"/>
<circle cx="164.00" cy="354.53" r="0.7200000000000001" fill="#4a62aa" stroke="#4a62aa" stroke-width="0.6"/>
<circle cx="166.90" cy="353.49" r="0.7200000000000001" fill="#4a62aa" stroke="#4a62aa" stroke-width="0.6"/>
<polyline points="135.00,357.53 137.90,354.49 140.80,356.55 143.70,356.01 146.60,355.93 149.50,355.26 152.40,357.34 155.30,357.90 158.20,355.36 161.10,356.39 164.00,353.13 166.90,356.59" fill="none" stroke="#4a62aa" stroke-width="0.8" stroke-linejoin="round"/>
<circle cx="135.00" cy="357.53" r="0.7200000000000001" fill="#4a62aa" stroke="#4a62aa" stroke-width="0.6"/>
<circle cx="137.90" cy="354.49" r="0.7200000000000001" fill="#4a62aa" stroke="#4a62aa" stroke-width="0.6"/>
<circle cx="140.80" cy="356.55" r="0.7200000000000001" fill="#4a62aa" stroke="#4a62aa" stroke-width="0.6"/>
<circle cx="143.70" cy="356.01" r="0.7200000000000001" fill="#4a62aa" stroke="#4a62aa" stroke-width="0.6"/>
<circle cx="146.60" cy="355.93" r="0.7200000000000001" fill="#4a62aa" stroke="#4a62aa" stroke-width="0.6"/>
<circle cx="149.50" cy="355.26" r="0.7200000000000001" fill="#4a62aa" stroke="#4a62aa" stroke-width="0.6"/>
<circle cx="152.40" cy="357.34" r="0.7200000000000001" fill="#4a62aa" stroke="#4a62aa" stroke-width="0.6"/>
<circle cx="155.30" cy="357.90" r="0.7200000000000001" fill="#4a62aa" stroke="#4a62aa" stroke-width="0.6"/>
<circle cx="158.20" cy="355.36" r="0.7200000000000001" fill="#4a62aa" stroke="#4a62aa" stroke-width="0.6"/>
<circle cx="161.10" cy="356.39" r="0.7200000000000001" fill="#4a62aa" stroke="#4a62aa" stroke-width="0.6"/>
<circle cx="164.00" cy="353.13" r="0.7200000000000001" fill="#4a62aa" stroke="#4a62aa" stroke-width="0.6"/>
<circle cx="166.90" cy="356.59" r="0.7200000000000001" fill="#4a62aa" stroke="#4a62aa" stroke-width="0.6"/>
<polyline points="135.00,358.69 137.90,360.56 140.80,359.64 143.70,356.74 146.60,357.28 149.50,358.81 152.40,355.32 155.30,357.69 158.20,356.11 161.10,355.83 164.00,355.52 166.90,359.35" fill="none" stroke="#4a62aa" stroke-width="0.8" stroke-linejoin="round"/>
<circle cx="135.00" cy="358.69" r="0.7200000000000001" fill="#4a62aa" stroke="#4a62aa" stroke-width="0.6"/>
<circle cx="137.90" cy="360.56" r="0.7200000000000001" fill="#4a62aa" stroke="#4a62aa" stroke-width="0.6"/>
<circle cx="140.80" cy="359.64" r="0.7200000000000001" fill="#4a62aa" stroke="#4a62aa" stroke-width="0.6"/>
<circle cx="143.70" cy="356.74" r="0.7200000000000001" fill="#4a62aa" stroke="#4a62aa" stroke-width="0.6"/>
<circle cx="146.60" cy="357.28" r="0.7200000000000001" fill="#4a62aa" stroke="#4a62aa" stroke-width="0.6"/>
<circle cx="149.50" cy="358.81" r="0.7200000000000001" fill="#4a62aa" stroke="#4a62aa" stroke-width="0.6"/>
<circle cx="152.40" cy="355.32" r="0.7200000000000001" fill="#4a62aa" stroke="#4a62aa" stroke-width="0.6"/>
<circle cx="155.30" cy="357.69" r="0.7200000000000001" fill="#4a62aa" stroke="#4a62aa" stroke-width="0.6"/>
<circle cx="158.20" cy="356.11" r="0.7200000000000001" fill="#4a62aa" stroke="#4a62aa" stroke-width="0.6"/>
<circle cx="161.10" cy="355.83" r="0.7200000000000001" fill="#4a62aa" stroke="#4a62aa" stroke-width="0.6"/>
<circle cx="164.00" cy="355.52" r="0.7200000000000001" fill="#4a62aa" stroke="#4a62aa" stroke-width="0.6"/>
<circle cx="166.90" cy="359.35" r="0.7200000000000001" fill="#4a62aa" stroke="#4a62aa" stroke-width="0.6"/>
<polyline points="135.00,358.30 137.90,358.94 140.80,359.71 143.70,362.31 146.60,358.04 149.50,360.03 152.40,360.57 155.30,362.37 158.20,362.02 161.10,362.27 164.00,359.10 166.90,359.84" fill="none" stroke="#4a62aa" stroke-width="0.8" stroke-linejoin="round"/>
<circle cx="135.00" cy="358.30" r="0.7200000000000001" fill="#4a62aa" stroke="#4a62aa" stroke-width="0.6"/>
<circle cx="137.90" cy="358.94" r="0.7200000000000001" fill="#4a62aa" stroke="#4a62aa" stroke-width="0.6"/>
<circle cx="140.80" cy="359.71" r="0.7200000000000001" fill="#4a62aa" stroke="#4a62aa" stroke-width="0.6"/>
<circle cx="143.70" cy="362.31" r="0.7200000000000001" fill="#4a62aa" stroke="#4a62aa" stroke-width="0.6"/>
<circle cx="146.60" cy="358.04" r="0.7200000000000001" fill="#4a62aa" stroke="#4a62aa" stroke-width="0.6"/>
<circle cx="149.50" cy="360.03" r="0.7200000000000001" fill="#4a62aa" stroke="#4a62aa" stroke-width="0.6"/>
<circle cx="152.40" cy="360.57" r="0.7200000000000001" fill="#4a62aa" stroke="#4a62aa" stroke-width="0.6"/>
<circle cx="155.30" cy="362.37" r="0.7200000000000001" fill="#4a62aa" stroke="#4a62aa" stroke-width="0.6"/>
<circle cx="158.20" cy="362.02" r="0.7200000000000001" fill="#4a62aa" stroke="#4a62aa" stroke-width="0.6"/>
<circle cx="161.10" cy="362.27" r="0.7200000000000001" fill="#4a62aa" stroke="#4a62aa" stroke-width="0.6"/>
<circle cx="164.00" cy="359.10" r="0.7200000000000001" fill="#4a62aa" stroke="#4a62aa" stroke-width="0.6"/>
<circle cx="166.90" cy="359.84" r="0.7200000000000001" fill="#4a62aa" stroke="#4a62aa" stroke-width="0.6"/>
<polyline points="160.00,358.00 163.00,361.00 166.00,360.50 167.50,359.00" fill="none" stroke="#4a62aa" stroke-width="1.0" stroke-linejoin="round"/>
<circle cx="160.00" cy="358.00" r="0.855" fill="#4a62aa" stroke="#4a62aa" stroke-width="0.6"/>
<circle cx="163.00" cy="361.00" r="0.855" fill="#4a62aa" stroke="#4a62aa" stroke-width="0.6"/>
<circle cx="166.00" cy="360.50" r="0.855" fill="#4a62aa" stroke="#4a62aa" stroke-width="0.6"/>
<circle cx="167.50" cy="359.00" r="0.855" fill="#4a62aa" stroke="#4a62aa" stroke-width="0.6"/>
<polyline points="185.00,352.00 189.00,350.00 193.00,348.00 197.00,345.50 200.00,343.00 203.00,341.50 205.00,340.00 208.00,336.00 211.00,330.00 213.00,325.00 215.70,322.10" fill="none" stroke="#d24a5c" stroke-width="1.0" stroke-linejoin="round"/>
<circle cx="185.00" cy="352.00" r="0.9025" fill="#f6dde0" stroke="#d24a5c" stroke-width="0.6"/>
<circle cx="189.00" cy="350.00" r="0.9025" fill="#f6dde0" stroke="#d24a5c" stroke-width="0.6"/>
<circle cx="193.00" cy="348.00" r="0.9025" fill="#f6dde0" stroke="#d24a5c" stroke-width="0.6"/>
<circle cx="197.00" cy="345.50" r="0.9025" fill="#f6dde0" stroke="#d24a5c" stroke-width="0.6"/>
<circle cx="200.00" cy="343.00" r="0.9025" fill="#f6dde0" stroke="#d24a5c" stroke-width="0.6"/>
<circle cx="203.00" cy="341.50" r="0.9025" fill="#f6dde0" stroke="#d24a5c" stroke-width="0.6"/>
<circle cx="205.00" cy="340.00" r="0.9025" fill="#f6dde0" stroke="#d24a5c" stroke-width="0.6"/>
<circle cx="208.00" cy="336.00" r="0.9025" fill="#f6dde0" stroke="#d24a5c" stroke-width="0.6"/>
<circle cx="211.00" cy="330.00" r="0.9025" fill="#f6dde0" stroke="#d24a5c" stroke-width="0.6"/>
<circle cx="213.00" cy="325.00" r="0.9025" fill="#f6dde0" stroke="#d24a5c" stroke-width="0.6"/>
<circle cx="215.70" cy="322.10" r="0.9025" fill="#f6dde0" stroke="#d24a5c" stroke-width="0.6"/>
<polyline points="207.60,353.80 207.60,339.60 210.00,335.00 213.60,332.20 215.70,342.30 217.00,327.90" fill="none" stroke="#d24a5c" stroke-width="1.0" stroke-linejoin="round"/>
<circle cx="207.60" cy="353.80" r="0.9025" fill="#f6dde0" stroke="#d24a5c" stroke-width="0.6"/>
<circle cx="207.60" cy="339.60" r="0.9025" fill="#f6dde0" stroke="#d24a5c" stroke-width="0.6"/>
<circle cx="210.00" cy="335.00" r="0.9025" fill="#f6dde0" stroke="#d24a5c" stroke-width="0.6"/>
<circle cx="213.60" cy="332.20" r="0.9025" fill="#f6dde0" stroke="#d24a5c" stroke-width="0.6"/>
<circle cx="215.70" cy="342.30" r="0.9025" fill="#f6dde0" stroke="#d24a5c" stroke-width="0.6"/>
<circle cx="217.00" cy="327.90" r="0.9025" fill="#f6dde0" stroke="#d24a5c" stroke-width="0.6"/>
<polyline points="185.00,348.34 187.90,351.17 190.80,351.57 193.70,347.21 196.60,347.35 199.50,347.65 202.40,347.66 205.30,349.02 208.20,349.58 211.10,347.82 214.00,346.42 216.90,348.66" fill="none" stroke="#d24a5c" stroke-width="0.8" stroke-linejoin="round"/>
<circle cx="185.00" cy="348.34" r="0.76" fill="#f6dde0" stroke="#d24a5c" stroke-width="0.6"/>
<circle cx="187.90" cy="351.17" r="0.76" fill="#f6dde0" stroke="#d24a5c" stroke-width="0.6"/>
<circle cx="190.80" cy="351.57" r="0.76" fill="#f6dde0" stroke="#d24a5c" stroke-width="0.6"/>
<circle cx="193.70" cy="347.21" r="0.76" fill="#f6dde0" stroke="#d24a5c" stroke-width="0.6"/>
<circle cx="196.60" cy="347.35" r="0.76" fill="#f6dde0" stroke="#d24a5c" stroke-width="0.6"/>
<circle cx="199.50" cy="347.65" r="0.76" fill="#f6dde0" stroke="#d24a5c" stroke-width="0.6"/>
<circle cx="202.40" cy="347.66" r="0.76" fill="#f6dde0" stroke="#d24a5c" stroke-width="0.6"/>
<circle cx="205.30" cy="349.02" r="0.76" fill="#f6dde0" stroke="#d24a5c" stroke-width="0.6"/>
<circle cx="208.20" cy="349.58" r="0.76" fill="#f6dde0" stroke="#d24a5c" stroke-width="0.6"/>
<circle cx="211.10" cy="347.82" r="0.76" fill="#f6dde0" stroke="#d24a5c" stroke-width="0.6"/>
<circle cx="214.00" cy="346.42" r="0.76" fill="#f6dde0" stroke="#d24a5c" stroke-width="0.6"/>
<circle cx="216.90" cy="348.66" r="0.76" fill="#f6dde0" stroke="#d24a5c" stroke-width="0.6"/>
<polyline points="185.00,351.09 187.90,352.16 190.80,354.25 193.70,352.83 196.60,351.88 199.50,352.44 202.40,352.75 205.30,349.39 208.20,353.96 211.10,353.31 214.00,353.82 216.90,353.41" fill="none" stroke="#d24a5c" stroke-width="0.8" stroke-linejoin="round"/>
<circle cx="185.00" cy="351.09" r="0.76" fill="#f6dde0" stroke="#d24a5c" stroke-width="0.6"/>
<circle cx="187.90" cy="352.16" r="0.76" fill="#f6dde0" stroke="#d24a5c" stroke-width="0.6"/>
<circle cx="190.80" cy="354.25" r="0.76" fill="#f6dde0" stroke="#d24a5c" stroke-width="0.6"/>
<circle cx="193.70" cy="352.83" r="0.76" fill="#f6dde0" stroke="#d24a5c" stroke-width="0.6"/>
<circle cx="196.60" cy="351.88" r="0.76" fill="#f6dde0" stroke="#d24a5c" stroke-width="0.6"/>
<circle cx="199.50" cy="352.44" r="0.76" fill="#f6dde0" stroke="#d24a5c" stroke-width="0.6"/>
<circle cx="202.40" cy="352.75" r="0.76" fill="#f6dde0" stroke="#d24a5c" stroke-width="0.6"/>
<circle cx="205.30" cy="349.39" r="0.76" fill="#f6dde0" stroke="#d24a5c" stroke-width="0.6"/>
<circle cx="208.20" cy="353.96" r="0.76" fill="#f6dde0" stroke="#d24a5c" stroke-width="0.6"/>
<circle cx="211.10" cy="353.31" r="0.76" fill="#f6dde0" stroke="#d24a5c" stroke-width="0.6"/>
<circle cx="214.00" cy="353.82" r="0.76" fill="#f6dde0" stroke="#d24a5c" stroke-width="0.6"/>
<circle cx="216.90" cy="353.41" r="0.76" fill="#f6dde0" stroke="#d24a5c" stroke-width="0.6"/>
<polyline points="185.00,353.92 187.90,353.95 190.80,352.36 193.70,355.23 196.60,352.14 199.50,352.16 202.40,352.93 205.30,352.68 208.20,353.64 211.10,352.08 214.00,351.80 216.90,352.62" fill="none" stroke="#d24a5c" stroke-width="0.8" stroke-linejoin="round"/>
<circle cx="185.00" cy="353.92" r="0.76" fill="#f6dde0" stroke="#d24a5c" stroke-width="0.6"/>
<circle cx="187.90" cy="353.95" r="0.76" fill="#f6dde0" stroke="#d24a5c" stroke-width="0.6"/>
<circle cx="190.80" cy="352.36" r="0.76" fill="#f6dde0" stroke="#d24a5c" stroke-width="0.6"/>
<circle cx="193.70" cy="355.23" r="0.76" fill="#f6dde0" stroke="#d24a5c" stroke-width="0.6"/>
<circle cx="196.60" cy="352.14" r="0.76" fill="#f6dde0" stroke="#d24a5c" stroke-width="0.6"/>
<circle cx="199.50" cy="352.16" r="0.76" fill="#f6dde0" stroke="#d24a5c" stroke-width="0.6"/>
<circle cx="202.40" cy="352.93" r="0.76" fill="#f6dde0" stroke="#d24a5c" stroke-width="0.6"/>
<circle cx="205.30" cy="352.68" r="0.76" fill="#f6dde0" stroke="#d24a5c" stroke-width="0.6"/>
<circle cx="208.20" cy="353.64" r="0.76" fill="#f6dde0" stroke="#d24a5c" stroke-width="0.6"/>
<circle cx="211.10" cy="352.08" r="0.76" fill="#f6dde0" stroke="#d24a5c" stroke-width="0.6"/>
<circle cx="214.00" cy="351.80" r="0.76" fill="#f6dde0" stroke="#d24a5c" stroke-width="0.6"/>
<circle cx="216.90" cy="352.62" r="0.76" fill="#f6dde0" stroke="#d24a5c" stroke-width="0.6"/>
<polyline points="185.00,355.05 187.90,356.46 190.80,354.64 193.70,359.22 196.60,357.82 199.50,355.30 202.40,355.86 205.30,356.38 208.20,356.47 211.10,355.16 214.00,359.08 216.90,359.86" fill="none" stroke="#d24a5c" stroke-width="0.8" stroke-linejoin="round"/>
<circle cx="185.00" cy="355.05" r="0.76" fill="#f6dde0" stroke="#d24a5c" stroke-width="0.6"/>
<circle cx="187.90" cy="356.46" r="0.76" fill="#f6dde0" stroke="#d24a5c" stroke-width="0.6"/>
<circle cx="190.80" cy="354.64" r="0.76" fill="#f6dde0" stroke="#d24a5c" stroke-width="0.6"/>
<circle cx="193.70" cy="359.22" r="0.76" fill="#f6dde0" stroke="#d24a5c" stroke-width="0.6"/>
<circle cx="196.60" cy="357.82" r="0.76" fill="#f6dde0" stroke="#d24a5c" stroke-width="0.6"/>
<circle cx="199.50" cy="355.30" r="0.76" fill="#f6dde0" stroke="#d24a5c" stroke-width="0.6"/>
<circle cx="202.40" cy="355.86" r="0.76" fill="#f6dde0" stroke="#d24a5c" stroke-width="0.6"/>
<circle cx="205.30" cy="356.38" r="0.76" fill="#f6dde0" stroke="#d24a5c" stroke-width="0.6"/>
<circle cx="208.20" cy="356.47" r="0.76" fill="#f6dde0" stroke="#d24a5c" stroke-width="0.6"/>
<circle cx="211.10" cy="355.16" r="0.76" fill="#f6dde0" stroke="#d24a5c" stroke-width="0.6"/>
<circle cx="214.00" cy="359.08" r="0.76" fill="#f6dde0" stroke="#d24a5c" stroke-width="0.6"/>
<circle cx="216.90" cy="359.86" r="0.76" fill="#f6dde0" stroke="#d24a5c" stroke-width="0.6"/>
<polyline points="185.00,359.72 187.90,359.81 190.80,357.66 193.70,357.75 196.60,359.05 199.50,358.63 202.40,361.68 205.30,358.07 208.20,357.32 211.10,362.34 214.00,360.05 216.90,357.99" fill="none" stroke="#d24a5c" stroke-width="0.8" stroke-linejoin="round"/>
<circle cx="185.00" cy="359.72" r="0.76" fill="#f6dde0" stroke="#d24a5c" stroke-width="0.6"/>
<circle cx="187.90" cy="359.81" r="0.76" fill="#f6dde0" stroke="#d24a5c" stroke-width="0.6"/>
<circle cx="190.80" cy="357.66" r="0.76" fill="#f6dde0" stroke="#d24a5c" stroke-width="0.6"/>
<circle cx="193.70" cy="357.75" r="0.76" fill="#f6dde0" stroke="#d24a5c" stroke-width="0.6"/>
<circle cx="196.60" cy="359.05" r="0.76" fill="#f6dde0" stroke="#d24a5c" stroke-width="0.6"/>
<circle cx="199.50" cy="358.63" r="0.76" fill="#f6dde0" stroke="#d24a5c" stroke-width="0.6"/>
<circle cx="202.40" cy="361.68" r="0.76" fill="#f6dde0" stroke="#d24a5c" stroke-width="0.6"/>
<circle cx="205.30" cy="358.07" r="0.76" fill="#f6dde0" stroke="#d24a5c" stroke-width="0.6"/>
<circle cx="208.20" cy="357.32" r="0.76" fill="#f6dde0" stroke="#d24a5c" stroke-width="0.6"/>
<circle cx="211.10" cy="362.34" r="0.76" fill="#f6dde0" stroke="#d24a5c" stroke-width="0.6"/>
<circle cx="214.00" cy="360.05" r="0.76" fill="#f6dde0" stroke="#d24a5c" stroke-width="0.6"/>
<circle cx="216.90" cy="357.99" r="0.76" fill="#f6dde0" stroke="#d24a5c" stroke-width="0.6"/>
<polyline points="185.00,349.33 187.90,346.55 190.80,349.25 193.70,351.68 196.60,351.06 199.50,350.16 202.40,347.81 205.30,348.38 208.20,347.30 211.10,350.57 214.00,349.28 216.90,350.61" fill="none" stroke="#d24a5c" stroke-width="0.8" stroke-linejoin="round"/>
<circle cx="185.00" cy="349.33" r="0.76" fill="#f6dde0" stroke="#d24a5c" stroke-width="0.6"/>
<circle cx="187.90" cy="346.55" r="0.76" fill="#f6dde0" stroke="#d24a5c" stroke-width="0.6"/>
<circle cx="190.80" cy="349.25" r="0.76" fill="#f6dde0" stroke="#d24a5c" stroke-width="0.6"/>
<circle cx="193.70" cy="351.68" r="0.76" fill="#f6dde0" stroke="#d24a5c" stroke-width="0.6"/>
<circle cx="196.60" cy="351.06" r="0.76" fill="#f6dde0" stroke="#d24a5c" stroke-width="0.6"/>
<circle cx="199.50" cy="350.16" r="0.76" fill="#f6dde0" stroke="#d24a5c" stroke-width="0.6"/>
<circle cx="202.40" cy="347.81" r="0.76" fill="#f6dde0" stroke="#d24a5c" stroke-width="0.6"/>
<circle cx="205.30" cy="348.38" r="0.76" fill="#f6dde0" stroke="#d24a5c" stroke-width="0.6"/>
<circle cx="208.20" cy="347.30" r="0.76" fill="#f6dde0" stroke="#d24a5c" stroke-width="0.6"/>
<circle cx="211.10" cy="350.57" r="0.76" fill="#f6dde0" stroke="#d24a5c" stroke-width="0.6"/>
<circle cx="214.00" cy="349.28" r="0.76" fill="#f6dde0" stroke="#d24a5c" stroke-width="0.6"/>
<circle cx="216.90" cy="350.61" r="0.76" fill="#f6dde0" stroke="#d24a5c" stroke-width="0.6"/>
<polyline points="185.00,350.88 187.90,350.30 190.80,353.48 193.70,354.42 196.60,353.70 199.50,353.45 202.40,353.52 205.30,353.10 208.20,350.32 211.10,351.90 214.00,351.02 216.90,349.26" fill="none" stroke="#d24a5c" stroke-width="0.8" stroke-linejoin="round"/>
<circle cx="185.00" cy="350.88" r="0.76" fill="#f6dde0" stroke="#d24a5c" stroke-width="0.6"/>
<circle cx="187.90" cy="350.30" r="0.76" fill="#f6dde0" stroke="#d24a5c" stroke-width="0.6"/>
<circle cx="190.80" cy="353.48" r="0.76" fill="#f6dde0" stroke="#d24a5c" stroke-width="0.6"/>
<circle cx="193.70" cy="354.42" r="0.76" fill="#f6dde0" stroke="#d24a5c" stroke-width="0.6"/>
<circle cx="196.60" cy="353.70" r="0.76" fill="#f6dde0" stroke="#d24a5c" stroke-width="0.6"/>
<circle cx="199.50" cy="353.45" r="0.76" fill="#f6dde0" stroke="#d24a5c" stroke-width="0.6"/>
<circle cx="202.40" cy="353.52" r="0.76" fill="#f6dde0" stroke="#d24a5c" stroke-width="0.6"/>
<circle cx="205.30" cy="353.10" r="0.76" fill="#f6dde0" stroke="#d24a5c" stroke-width="0.6"/>
<circle cx="208.20" cy="350.32" r="0.76" fill="#f6dde0" stroke="#d24a5c" stroke-width="0.6"/>
<circle cx="211.10" cy="351.90" r="0.76" fill="#f6dde0" stroke="#d24a5c" stroke-width="0.6"/>
<circle cx="214.00" cy="351.02" r="0.76" fill="#f6dde0" stroke="#d24a5c" stroke-width="0.6"/>
<circle cx="216.90" cy="349.26" r="0.76" fill="#f6dde0" stroke="#d24a5c" stroke-width="0.6"/>
<polyline points="185.00,351.95 187.90,353.31 190.80,353.20 193.70,355.54 196.60,356.97 199.50,354.22 202.40,356.86 205.30,357.14 208.20,356.96 211.10,353.77 214.00,352.99 216.90,353.02" fill="none" stroke="#d24a5c" stroke-width="0.8" stroke-linejoin="round"/>
<circle cx="185.00" cy="351.95" r="0.76" fill="#f6dde0" stroke="#d24a5c" stroke-width="0.6"/>
<circle cx="187.90" cy="353.31" r="0.76" fill="#f6dde0" stroke="#d24a5c" stroke-width="0.6"/>
<circle cx="190.80" cy="353.20" r="0.76" fill="#f6dde0" stroke="#d24a5c" stroke-width="0.6"/>
<circle cx="193.70" cy="355.54" r="0.76" fill="#f6dde0" stroke="#d24a5c" stroke-width="0.6"/>
<circle cx="196.60" cy="356.97" r="0.76" fill="#f6dde0" stroke="#d24a5c" stroke-width="0.6"/>
<circle cx="199.50" cy="354.22" r="0.76" fill="#f6dde0" stroke="#d24a5c" stroke-width="0.6"/>
<circle cx="202.40" cy="356.86" r="0.76" fill="#f6dde0" stroke="#d24a5c" stroke-width="0.6"/>
<circle cx="205.30" cy="357.14" r="0.76" fill="#f6dde0" stroke="#d24a5c" stroke-width="0.6"/>
<circle cx="208.20" cy="356.96" r="0.76" fill="#f6dde0" stroke="#d24a5c" stroke-width="0.6"/>
<circle cx="211.10" cy="353.77" r="0.76" fill="#f6dde0" stroke="#d24a5c" stroke-width="0.6"/>
<circle cx="214.00" cy="352.99" r="0.76" fill="#f6dde0" stroke="#d24a5c" stroke-width="0.6"/>
<circle cx="216.90" cy="353.02" r="0.76" fill="#f6dde0" stroke="#d24a5c" stroke-width="0.6"/>
<polyline points="185.00,355.56 187.90,355.60 190.80,357.87 193.70,359.36 196.60,359.04 199.50,357.09 202.40,358.03 205.30,358.82 208.20,354.96 211.10,358.07 214.00,359.41 216.90,358.72" fill="none" stroke="#d24a5c" stroke-width="0.8" stroke-linejoin="round"/>
<circle cx="185.00" cy="355.56" r="0.76" fill="#f6dde0" stroke="#d24a5c" stroke-width="0.6"/>
<circle cx="187.90" cy="355.60" r="0.76" fill="#f6dde0" stroke="#d24a5c" stroke-width="0.6"/>
<circle cx="190.80" cy="357.87" r="0.76" fill="#f6dde0" stroke="#d24a5c" stroke-width="0.6"/>
<circle cx="193.70" cy="359.36" r="0.76" fill="#f6dde0" stroke="#d24a5c" stroke-width="0.6"/>
<circle cx="196.60" cy="359.04" r="0.76" fill="#f6dde0" stroke="#d24a5c" stroke-width="0.6"/>
<circle cx="199.50" cy="357.09" r="0.76" fill="#f6dde0" stroke="#d24a5c" stroke-width="0.6"/>
<circle cx="202.40" cy="358.03" r="0.76" fill="#f6dde0" stroke="#d24a5c" stroke-width="0.6"/>
<circle cx="205.30" cy="358.82" r="0.76" fill="#f6dde0" stroke="#d24a5c" stroke-width="0.6"/>
<circle cx="208.20" cy="354.96" r="0.76" fill="#f6dde0" stroke="#d24a5c" stroke-width="0.6"/>
<circle cx="211.10" cy="358.07" r="0.76" fill="#f6dde0" stroke="#d24a5c" stroke-width="0.6"/>
<circle cx="214.00" cy="359.41" r="0.76" fill="#f6dde0" stroke="#d24a5c" stroke-width="0.6"/>
<circle cx="216.90" cy="358.72" r="0.76" fill="#f6dde0" stroke="#d24a5c" stroke-width="0.6"/>
<polyline points="185.00,361.25 187.90,359.78 190.80,358.16 193.70,361.46 196.60,359.00 199.50,361.52 202.40,362.45 205.30,359.34 208.20,359.37 211.10,362.31 214.00,361.11 216.90,358.12" fill="none" stroke="#d24a5c" stroke-width="0.8" stroke-linejoin="round"/>
<circle cx="185.00" cy="361.25" r="0.76" fill="#f6dde0" stroke="#d24a5c" stroke-width="0.6"/>
<circle cx="187.90" cy="359.78" r="0.76" fill="#f6dde0" stroke="#d24a5c" stroke-width="0.6"/>
<circle cx="190.80" cy="358.16" r="0.76" fill="#f6dde0" stroke="#d24a5c" stroke-width="0.6"/>
<circle cx="193.70" cy="361.46" r="0.76" fill="#f6dde0" stroke="#d24a5c" stroke-width="0.6"/>
<circle cx="196.60" cy="359.00" r="0.76" fill="#f6dde0" stroke="#d24a5c" stroke-width="0.6"/>
<circle cx="199.50" cy="361.52" r="0.76" fill="#f6dde0" stroke="#d24a5c" stroke-width="0.6"/>
<circle cx="202.40" cy="362.45" r="0.76" fill="#f6dde0" stroke="#d24a5c" stroke-width="0.6"/>
<circle cx="205.30" cy="359.34" r="0.76" fill="#f6dde0" stroke="#d24a5c" stroke-width="0.6"/>
<circle cx="208.20" cy="359.37" r="0.76" fill="#f6dde0" stroke="#d24a5c" stroke-width="0.6"/>
<circle cx="211.10" cy="362.31" r="0.76" fill="#f6dde0" stroke="#d24a5c" stroke-width="0.6"/>
<circle cx="214.00" cy="361.11" r="0.76" fill="#f6dde0" stroke="#d24a5c" stroke-width="0.6"/>
<circle cx="216.90" cy="358.12" r="0.76" fill="#f6dde0" stroke="#d24a5c" stroke-width="0.6"/>
<text transform="translate(13.70,360.90) rotate(-90)" x="0" y="0" font-size="8.6" fill="#231f20" stroke="#231f20" stroke-width="0.15" textLength="46.90" lengthAdjust="spacingAndGlyphs">Photons/second</text>
<text x="95.80" y="392.10" font-size="8.6" font-weight="normal" fill="#231f20" stroke="#231f20" stroke-width="0.15" textLength="66.20" lengthAdjust="spacingAndGlyphs">Days after ALL infusion</text>
<line x1="359.90" y1="25.90" x2="359.90" y2="86.90" stroke="#231f20" stroke-width="1.3"/>
<line x1="359.30" y1="86.30" x2="421.50" y2="86.30" stroke="#231f20" stroke-width="1.3"/>
<line x1="356.30" y1="86.30" x2="359.90" y2="86.30" stroke="#231f20" stroke-width="0.9"/>
<text x="350.80" y="88.50" font-size="7.0" font-weight="normal" fill="#231f20" stroke="#231f20" stroke-width="0.15" textLength="3.20" lengthAdjust="spacingAndGlyphs">0</text>
<line x1="356.30" y1="74.72" x2="359.90" y2="74.72" stroke="#231f20" stroke-width="0.9"/>
<text x="347.60" y="76.92" font-size="7.0" font-weight="normal" fill="#231f20" stroke="#231f20" stroke-width="0.15" textLength="6.40" lengthAdjust="spacingAndGlyphs">20</text>
<line x1="356.30" y1="63.14" x2="359.90" y2="63.14" stroke="#231f20" stroke-width="0.9"/>
<text x="347.60" y="65.34" font-size="7.0" font-weight="normal" fill="#231f20" stroke="#231f20" stroke-width="0.15" textLength="6.40" lengthAdjust="spacingAndGlyphs">40</text>
<line x1="356.30" y1="51.56" x2="359.90" y2="51.56" stroke="#231f20" stroke-width="0.9"/>
<text x="347.60" y="53.76" font-size="7.0" font-weight="normal" fill="#231f20" stroke="#231f20" stroke-width="0.15" textLength="6.40" lengthAdjust="spacingAndGlyphs">60</text>
<line x1="356.30" y1="39.98" x2="359.90" y2="39.98" stroke="#231f20" stroke-width="0.9"/>
<text x="347.60" y="42.18" font-size="7.0" font-weight="normal" fill="#231f20" stroke="#231f20" stroke-width="0.15" textLength="6.40" lengthAdjust="spacingAndGlyphs">80</text>
<line x1="356.30" y1="28.40" x2="359.90" y2="28.40" stroke="#231f20" stroke-width="0.9"/>
<text x="344.40" y="30.60" font-size="7.0" font-weight="normal" fill="#231f20" stroke="#231f20" stroke-width="0.15" textLength="9.60" lengthAdjust="spacingAndGlyphs">100</text>
<line x1="359.90" y1="86.30" x2="359.90" y2="89.30" stroke="#231f20" stroke-width="0.9"/>
<text x="358.30" y="97.90" font-size="7.0" font-weight="normal" fill="#231f20" stroke="#231f20" stroke-width="0.15" textLength="3.20" lengthAdjust="spacingAndGlyphs">0</text>
<line x1="379.14" y1="86.30" x2="379.14" y2="89.30" stroke="#231f20" stroke-width="0.9"/>
<text x="375.94" y="97.90" font-size="7.0" font-weight="normal" fill="#231f20" stroke="#231f20" stroke-width="0.15" textLength="6.40" lengthAdjust="spacingAndGlyphs">20</text>
<line x1="398.38" y1="86.30" x2="398.38" y2="89.30" stroke="#231f20" stroke-width="0.9"/>
<text x="395.18" y="97.90" font-size="7.0" font-weight="normal" fill="#231f20" stroke="#231f20" stroke-width="0.15" textLength="6.40" lengthAdjust="spacingAndGlyphs">40</text>
<line x1="417.62" y1="86.30" x2="417.62" y2="89.30" stroke="#231f20" stroke-width="0.9"/>
<text x="414.42" y="97.90" font-size="7.0" font-weight="normal" fill="#231f20" stroke="#231f20" stroke-width="0.15" textLength="6.40" lengthAdjust="spacingAndGlyphs">60</text>
<path d="M359.90,28.40 L373.00,28.40 L373.00,86.30" fill="none" stroke="#6f3f95" stroke-width="1.1" stroke-linejoin="miter"/>
<path d="M359.90,28.40 L372.90,28.40 L372.90,72.30 L390.60,72.30 L390.60,79.20 L391.90,79.20 L391.90,86.30" fill="none" stroke="#7ac143" stroke-width="1.1" stroke-linejoin="miter"/>
<path d="M372.50,28.40 L372.50,35.90 L374.90,35.90 L374.90,43.90 L382.30,43.90 L382.30,51.50 L384.90,51.50 L384.90,53.50 L386.90,53.50 L386.90,55.90 L388.90,55.90 L388.90,59.50 L412.20,59.50 L412.20,64.90 L417.80,64.90" fill="none" stroke="#3f5ea9" stroke-width="1.1" stroke-linejoin="miter"/>
<path d="M359.90,28.40 L381.50,28.40 L381.50,31.90 L386.50,31.90 L386.50,35.90 L417.80,35.90" fill="none" stroke="#d0394f" stroke-width="1.1" stroke-linejoin="miter"/>
<line x1="400.00" y1="58.30" x2="400.00" y2="60.70" stroke="#3f5ea9" stroke-width="0.6"/>
<line x1="407.00" y1="58.30" x2="407.00" y2="60.70" stroke="#3f5ea9" stroke-width="0.6"/>
<line x1="414.00" y1="58.30" x2="414.00" y2="60.70" stroke="#3f5ea9" stroke-width="0.6"/>
<line x1="415.50" y1="34.70" x2="415.50" y2="37.10" stroke="#d0394f" stroke-width="0.6"/>
<text transform="translate(339.00,70.20) rotate(-90)" x="0" y="0" font-size="8.2" fill="#231f20" stroke="#231f20" stroke-width="0.15" textLength="29.30" lengthAdjust="spacingAndGlyphs">% survival</text>
<text x="357.00" y="109.70" font-size="8.5" font-weight="normal" fill="#231f20" stroke="#231f20" stroke-width="0.15" textLength="66.00" lengthAdjust="spacingAndGlyphs">Days after ALL infusion</text>
<line x1="423.40" y1="33.40" x2="429.40" y2="33.40" stroke="#6f3f95" stroke-width="1.1"/>
<text x="432.40" y="35.10" font-size="5.0" font-weight="normal" fill="#3a3a3a" stroke="#3a3a3a" stroke-width="0.1" textLength="22.90" lengthAdjust="spacingAndGlyphs">no T cells</text>
<line x1="423.40" y1="38.63" x2="429.40" y2="38.63" stroke="#7ac143" stroke-width="1.1"/>
<text x="432.40" y="40.33" font-size="5.0" font-weight="normal" fill="#3a3a3a" stroke="#3a3a3a" stroke-width="0.1" textLength="21.50" lengthAdjust="spacingAndGlyphs">GFP only</text>
<line x1="423.40" y1="43.86" x2="429.40" y2="43.86" stroke="#5878bb" stroke-width="1.1"/>
<text x="432.40" y="45.56" font-size="5.0" font-weight="normal" fill="#3a3a3a" stroke="#3a3a3a" stroke-width="0.1" textLength="9.30" lengthAdjust="spacingAndGlyphs">CAR</text>
<line x1="423.40" y1="49.09" x2="429.40" y2="49.09" stroke="#d0394f" stroke-width="1.1"/>
<text x="432.40" y="50.79" font-size="5.0" font-weight="normal" fill="#3a3a3a" stroke="#3a3a3a" stroke-width="0.1" textLength="30.40" lengthAdjust="spacingAndGlyphs">EpoRm-CAR</text>
<line x1="423.40" y1="62.70" x2="429.40" y2="62.70" stroke="#6f3f95" stroke-width="1.1"/>
<text x="432.40" y="64.40" font-size="5.0" font-weight="normal" fill="#3a3a3a" stroke="#3a3a3a" stroke-width="0.1" textLength="5.80" lengthAdjust="spacingAndGlyphs">vs.</text>
<line x1="442.20" y1="62.70" x2="447.60" y2="62.70" stroke="#7ac143" stroke-width="1.1"/>
<text x="450.70" y="64.40" font-size="5.0" font-weight="normal" fill="#3a3a3a" stroke="#3a3a3a" stroke-width="0.1" textLength="20.20" lengthAdjust="spacingAndGlyphs">P=0.294</text>
<line x1="423.40" y1="67.97" x2="429.40" y2="67.97" stroke="#7ac143" stroke-width="1.1"/>
<text x="432.40" y="69.67" font-size="5.0" font-weight="normal" fill="#3a3a3a" stroke="#3a3a3a" stroke-width="0.1" textLength="5.80" lengthAdjust="spacingAndGlyphs">vs.</text>
<line x1="442.20" y1="67.97" x2="447.60" y2="67.97" stroke="#5878bb" stroke-width="1.1"/>
<text x="450.70" y="69.67" font-size="5.0" font-weight="normal" fill="#3a3a3a" stroke="#3a3a3a" stroke-width="0.1" textLength="17.10" lengthAdjust="spacingAndGlyphs">P&lt;0.01</text>
<line x1="423.40" y1="73.24" x2="429.40" y2="73.24" stroke="#7ac143" stroke-width="1.1"/>
<text x="432.40" y="74.94" font-size="5.0" font-weight="normal" fill="#3a3a3a" stroke="#3a3a3a" stroke-width="0.1" textLength="5.80" lengthAdjust="spacingAndGlyphs">vs.</text>
<line x1="442.20" y1="73.24" x2="447.60" y2="73.24" stroke="#d0394f" stroke-width="1.1"/>
<text x="450.70" y="74.94" font-size="5.0" font-weight="normal" fill="#3a3a3a" stroke="#3a3a3a" stroke-width="0.1" textLength="22.90" lengthAdjust="spacingAndGlyphs">P&lt;0.0001</text>
<line x1="423.40" y1="78.51" x2="429.40" y2="78.51" stroke="#5878bb" stroke-width="1.1"/>
<text x="432.40" y="80.21" font-size="5.0" font-weight="normal" fill="#3a3a3a" stroke="#3a3a3a" stroke-width="0.1" textLength="5.80" lengthAdjust="spacingAndGlyphs">vs.</text>
<line x1="442.20" y1="78.51" x2="447.60" y2="78.51" stroke="#d0394f" stroke-width="1.1"/>
<text x="450.70" y="80.21" font-size="5.0" font-weight="normal" fill="#3a3a3a" stroke="#3a3a3a" stroke-width="0.1" textLength="17.10" lengthAdjust="spacingAndGlyphs">P&lt;0.01</text>
<line x1="273.30" y1="307.70" x2="273.30" y2="369.00" stroke="#231f20" stroke-width="1.3"/>
<line x1="272.70" y1="368.40" x2="365.60" y2="368.40" stroke="#231f20" stroke-width="1.3"/>
<line x1="269.70" y1="368.40" x2="273.30" y2="368.40" stroke="#231f20" stroke-width="0.9"/>
<text x="264.10" y="370.60" font-size="7.0" font-weight="normal" fill="#231f20" stroke="#231f20" stroke-width="0.15" textLength="3.30" lengthAdjust="spacingAndGlyphs">0</text>
<line x1="269.70" y1="356.76" x2="273.30" y2="356.76" stroke="#231f20" stroke-width="0.9"/>
<text x="260.80" y="358.96" font-size="7.0" font-weight="normal" fill="#231f20" stroke="#231f20" stroke-width="0.15" textLength="6.60" lengthAdjust="spacingAndGlyphs">20</text>
<line x1="269.70" y1="345.12" x2="273.30" y2="345.12" stroke="#231f20" stroke-width="0.9"/>
<text x="260.80" y="347.32" font-size="7.0" font-weight="normal" fill="#231f20" stroke="#231f20" stroke-width="0.15" textLength="6.60" lengthAdjust="spacingAndGlyphs">40</text>
<line x1="269.70" y1="333.48" x2="273.30" y2="333.48" stroke="#231f20" stroke-width="0.9"/>
<text x="260.80" y="335.68" font-size="7.0" font-weight="normal" fill="#231f20" stroke="#231f20" stroke-width="0.15" textLength="6.60" lengthAdjust="spacingAndGlyphs">60</text>
<line x1="269.70" y1="321.84" x2="273.30" y2="321.84" stroke="#231f20" stroke-width="0.9"/>
<text x="260.80" y="324.04" font-size="7.0" font-weight="normal" fill="#231f20" stroke="#231f20" stroke-width="0.15" textLength="6.60" lengthAdjust="spacingAndGlyphs">80</text>
<line x1="269.70" y1="310.20" x2="273.30" y2="310.20" stroke="#231f20" stroke-width="0.9"/>
<text x="257.50" y="312.40" font-size="7.0" font-weight="normal" fill="#231f20" stroke="#231f20" stroke-width="0.15" textLength="9.90" lengthAdjust="spacingAndGlyphs">100</text>
<line x1="273.30" y1="368.40" x2="273.30" y2="371.40" stroke="#231f20" stroke-width="0.9"/>
<text x="271.65" y="380.20" font-size="7.0" font-weight="normal" fill="#231f20" stroke="#231f20" stroke-width="0.15" textLength="3.30" lengthAdjust="spacingAndGlyphs">0</text>
<line x1="291.17" y1="368.40" x2="291.17" y2="371.40" stroke="#231f20" stroke-width="0.9"/>
<text x="287.87" y="380.20" font-size="7.0" font-weight="normal" fill="#231f20" stroke="#231f20" stroke-width="0.15" textLength="6.60" lengthAdjust="spacingAndGlyphs">50</text>
<line x1="309.03" y1="368.40" x2="309.03" y2="371.40" stroke="#231f20" stroke-width="0.9"/>
<text x="304.08" y="380.20" font-size="7.0" font-weight="normal" fill="#231f20" stroke="#231f20" stroke-width="0.15" textLength="9.90" lengthAdjust="spacingAndGlyphs">100</text>
<line x1="326.89" y1="368.40" x2="326.89" y2="371.40" stroke="#231f20" stroke-width="0.9"/>
<text x="321.94" y="380.20" font-size="7.0" font-weight="normal" fill="#231f20" stroke="#231f20" stroke-width="0.15" textLength="9.90" lengthAdjust="spacingAndGlyphs">150</text>
<line x1="344.76" y1="368.40" x2="344.76" y2="371.40" stroke="#231f20" stroke-width="0.9"/>
<text x="339.81" y="380.20" font-size="7.0" font-weight="normal" fill="#231f20" stroke="#231f20" stroke-width="0.15" textLength="9.90" lengthAdjust="spacingAndGlyphs">200</text>
<line x1="362.62" y1="368.40" x2="362.62" y2="371.40" stroke="#231f20" stroke-width="0.9"/>
<text x="357.68" y="380.20" font-size="7.0" font-weight="normal" fill="#231f20" stroke="#231f20" stroke-width="0.15" textLength="9.90" lengthAdjust="spacingAndGlyphs">250</text>
<path d="M273.50,310.20 L278.50,310.20 L278.50,349.10" fill="none" stroke="#6f3f95" stroke-width="1.1" stroke-linejoin="miter"/>
<path d="M273.50,310.20 L277.10,310.20 L277.10,318.60 L278.80,318.60 L278.80,327.30 L279.70,327.30 L279.70,368.30" fill="none" stroke="#7ac143" stroke-width="1.1" stroke-linejoin="miter"/>
<path d="M273.50,310.20 L288.10,310.20 L288.10,317.70 L289.50,317.70 L289.50,324.70 L292.40,324.70 L292.40,331.70 L293.00,331.70 L293.00,339.00 L295.40,339.00 L295.40,346.50 L358.60,346.50" fill="none" stroke="#3f5ea9" stroke-width="1.1" stroke-linejoin="miter"/>
<path d="M273.50,310.20 L295.40,310.20 L295.40,319.80 L358.60,319.80" fill="none" stroke="#d0394f" stroke-width="1.1" stroke-linejoin="miter"/>
<line x1="298.00" y1="345.30" x2="298.00" y2="347.70" stroke="#3f5ea9" stroke-width="0.6"/>
<line x1="358.00" y1="345.30" x2="358.00" y2="347.70" stroke="#3f5ea9" stroke-width="0.6"/>
<line x1="297.00" y1="318.60" x2="297.00" y2="321.00" stroke="#d0394f" stroke-width="0.6"/>
<line x1="358.00" y1="318.60" x2="358.00" y2="321.00" stroke="#d0394f" stroke-width="0.6"/>
<text transform="translate(251.60,352.20) rotate(-90)" x="0" y="0" font-size="8.2" fill="#231f20" stroke="#231f20" stroke-width="0.15" textLength="29.30" lengthAdjust="spacingAndGlyphs">% survival</text>
<text x="286.20" y="391.40" font-size="8.6" font-weight="normal" fill="#231f20" stroke="#231f20" stroke-width="0.15" textLength="66.10" lengthAdjust="spacingAndGlyphs">Days after ALL infusion</text>
<line x1="368.50" y1="314.90" x2="374.60" y2="314.90" stroke="#6f3f95" stroke-width="1.1"/>
<text x="377.20" y="316.60" font-size="5.0" font-weight="normal" fill="#3a3a3a" stroke="#3a3a3a" stroke-width="0.1" textLength="23.10" lengthAdjust="spacingAndGlyphs">no T cells</text>
<line x1="368.50" y1="320.23" x2="374.60" y2="320.23" stroke="#7ac143" stroke-width="1.1"/>
<text x="377.20" y="321.93" font-size="5.0" font-weight="normal" fill="#3a3a3a" stroke="#3a3a3a" stroke-width="0.1" textLength="21.50" lengthAdjust="spacingAndGlyphs">GFP only</text>
<line x1="368.50" y1="325.56" x2="374.60" y2="325.56" stroke="#5878bb" stroke-width="1.1"/>
<text x="377.20" y="327.26" font-size="5.0" font-weight="normal" fill="#3a3a3a" stroke="#3a3a3a" stroke-width="0.1" textLength="9.50" lengthAdjust="spacingAndGlyphs">CAR</text>
<line x1="368.50" y1="330.89" x2="374.60" y2="330.89" stroke="#d0394f" stroke-width="1.1"/>
<text x="377.20" y="332.59" font-size="5.0" font-weight="normal" fill="#3a3a3a" stroke="#3a3a3a" stroke-width="0.1" textLength="30.50" lengthAdjust="spacingAndGlyphs">EpoRm-CAR</text>
<line x1="368.50" y1="344.90" x2="374.60" y2="344.90" stroke="#6f3f95" stroke-width="1.1"/>
<text x="377.20" y="346.60" font-size="5.0" font-weight="normal" fill="#3a3a3a" stroke="#3a3a3a" stroke-width="0.1" textLength="5.80" lengthAdjust="spacingAndGlyphs">vs.</text>
<line x1="386.90" y1="344.90" x2="393.00" y2="344.90" stroke="#7ac143" stroke-width="1.1"/>
<text x="396.20" y="346.60" font-size="5.0" font-weight="normal" fill="#3a3a3a" stroke="#3a3a3a" stroke-width="0.1" textLength="19.50" lengthAdjust="spacingAndGlyphs">P=0.309</text>
<line x1="368.50" y1="350.00" x2="374.60" y2="350.00" stroke="#7ac143" stroke-width="1.1"/>
<text x="377.20" y="351.70" font-size="5.0" font-weight="normal" fill="#3a3a3a" stroke="#3a3a3a" stroke-width="0.1" textLength="5.80" lengthAdjust="spacingAndGlyphs">vs.</text>
<line x1="386.90" y1="350.00" x2="393.00" y2="350.00" stroke="#5878bb" stroke-width="1.1"/>
<text x="396.20" y="351.70" font-size="5.0" font-weight="normal" fill="#3a3a3a" stroke="#3a3a3a" stroke-width="0.1" textLength="19.50" lengthAdjust="spacingAndGlyphs">P&lt;0.001</text>
<line x1="368.50" y1="355.10" x2="374.60" y2="355.10" stroke="#7ac143" stroke-width="1.1"/>
<text x="377.20" y="356.80" font-size="5.0" font-weight="normal" fill="#3a3a3a" stroke="#3a3a3a" stroke-width="0.1" textLength="5.80" lengthAdjust="spacingAndGlyphs">vs.</text>
<line x1="386.90" y1="355.10" x2="393.00" y2="355.10" stroke="#d0394f" stroke-width="1.1"/>
<text x="396.20" y="356.80" font-size="5.0" font-weight="normal" fill="#3a3a3a" stroke="#3a3a3a" stroke-width="0.1" textLength="19.50" lengthAdjust="spacingAndGlyphs">P&lt;0.001</text>
<line x1="368.50" y1="360.20" x2="374.60" y2="360.20" stroke="#5878bb" stroke-width="1.1"/>
<text x="377.20" y="361.90" font-size="5.0" font-weight="normal" fill="#3a3a3a" stroke="#3a3a3a" stroke-width="0.1" textLength="5.80" lengthAdjust="spacingAndGlyphs">vs.</text>
<line x1="386.90" y1="360.20" x2="393.00" y2="360.20" stroke="#d9566a" stroke-width="1.1"/>
<text x="396.20" y="361.90" font-size="5.0" font-weight="normal" fill="#3a3a3a" stroke="#3a3a3a" stroke-width="0.1" textLength="19.50" lengthAdjust="spacingAndGlyphs">P=0.059</text>
<line x1="174.50" y1="144.60" x2="174.50" y2="205.80" stroke="#231f20" stroke-width="1.3"/>
<line x1="173.90" y1="205.20" x2="245.70" y2="205.20" stroke="#231f20" stroke-width="1.3"/>
<line x1="171.00" y1="205.20" x2="174.50" y2="205.20" stroke="#231f20" stroke-width="0.9"/>
<text x="164.60" y="207.40" font-size="7.0" font-weight="normal" fill="#231f20" stroke="#231f20" stroke-width="0.15" textLength="3.10" lengthAdjust="spacingAndGlyphs">0</text>
<line x1="171.00" y1="193.62" x2="174.50" y2="193.62" stroke="#231f20" stroke-width="0.9"/>
<text x="161.50" y="195.82" font-size="7.0" font-weight="normal" fill="#231f20" stroke="#231f20" stroke-width="0.15" textLength="6.20" lengthAdjust="spacingAndGlyphs">20</text>
<line x1="171.00" y1="182.04" x2="174.50" y2="182.04" stroke="#231f20" stroke-width="0.9"/>
<text x="161.50" y="184.24" font-size="7.0" font-weight="normal" fill="#231f20" stroke="#231f20" stroke-width="0.15" textLength="6.20" lengthAdjust="spacingAndGlyphs">40</text>
<line x1="171.00" y1="170.46" x2="174.50" y2="170.46" stroke="#231f20" stroke-width="0.9"/>
<text x="161.50" y="172.66" font-size="7.0" font-weight="normal" fill="#231f20" stroke="#231f20" stroke-width="0.15" textLength="6.20" lengthAdjust="spacingAndGlyphs">60</text>
<line x1="171.00" y1="158.88" x2="174.50" y2="158.88" stroke="#231f20" stroke-width="0.9"/>
<text x="161.50" y="161.08" font-size="7.0" font-weight="normal" fill="#231f20" stroke="#231f20" stroke-width="0.15" textLength="6.20" lengthAdjust="spacingAndGlyphs">80</text>
<line x1="171.00" y1="147.30" x2="174.50" y2="147.30" stroke="#231f20" stroke-width="0.9"/>
<text x="158.40" y="149.50" font-size="7.0" font-weight="normal" fill="#231f20" stroke="#231f20" stroke-width="0.15" textLength="9.30" lengthAdjust="spacingAndGlyphs">100</text>
<rect x="176.60" y="201.26" width="9.60" height="3.94" fill="#7d89bb"/>
<circle cx="178.40" cy="202.02" r="1.5" fill="#0f1f55"/>
<circle cx="179.90" cy="201.73" r="1.5" fill="#0f1f55"/>
<circle cx="181.40" cy="202.30" r="1.5" fill="#0f1f55"/>
<circle cx="182.90" cy="201.73" r="1.5" fill="#0f1f55"/>
<circle cx="184.40" cy="202.02" r="1.5" fill="#0f1f55"/>
<line x1="181.40" y1="201.84" x2="181.40" y2="200.68" stroke="#3d56a6" stroke-width="0.9"/>
<line x1="179.20" y1="200.68" x2="183.60" y2="200.68" stroke="#3d56a6" stroke-width="0.9"/>
<line x1="179.20" y1="201.84" x2="183.60" y2="201.84" stroke="#3d56a6" stroke-width="0.9"/>
<rect x="187.90" y="189.57" width="9.10" height="15.63" fill="#e2aa9c"/>
<circle cx="190.35" cy="185.80" r="1.5" fill="#7a0f24"/>
<circle cx="194.65" cy="185.80" r="1.5" fill="#7a0f24"/>
<circle cx="192.45" cy="191.01" r="1.5" fill="#7a0f24"/>
<circle cx="192.45" cy="194.78" r="1.5" fill="#7a0f24"/>
<line x1="192.45" y1="194.20" x2="192.45" y2="184.94" stroke="#c8385a" stroke-width="0.9"/>
<line x1="190.25" y1="184.94" x2="194.65" y2="184.94" stroke="#c8385a" stroke-width="0.9"/>
<line x1="190.25" y1="194.20" x2="194.65" y2="194.20" stroke="#c8385a" stroke-width="0.9"/>
<rect x="199.90" y="194.49" width="9.10" height="10.71" fill="#7d89bb"/>
<circle cx="204.45" cy="187.83" r="1.5" fill="#0f1f55"/>
<circle cx="201.75" cy="194.49" r="1.5" fill="#0f1f55"/>
<circle cx="207.05" cy="193.33" r="1.5" fill="#0f1f55"/>
<circle cx="201.75" cy="197.67" r="1.5" fill="#0f1f55"/>
<circle cx="207.05" cy="197.67" r="1.5" fill="#0f1f55"/>
<circle cx="204.45" cy="198.25" r="1.5" fill="#0f1f55"/>
<line x1="204.45" y1="198.25" x2="204.45" y2="190.72" stroke="#3d56a6" stroke-width="0.9"/>
<line x1="202.25" y1="190.72" x2="206.65" y2="190.72" stroke="#3d56a6" stroke-width="0.9"/>
<line x1="202.25" y1="198.25" x2="206.65" y2="198.25" stroke="#3d56a6" stroke-width="0.9"/>
<rect x="210.90" y="177.70" width="8.70" height="27.50" fill="#e2aa9c"/>
<circle cx="215.25" cy="166.99" r="1.5" fill="#7a0f24"/>
<circle cx="215.25" cy="172.20" r="1.5" fill="#7a0f24"/>
<circle cx="215.25" cy="177.99" r="1.5" fill="#7a0f24"/>
<circle cx="215.25" cy="183.78" r="1.5" fill="#7a0f24"/>
<circle cx="215.25" cy="188.99" r="1.5" fill="#7a0f24"/>
<line x1="215.25" y1="188.70" x2="215.25" y2="166.70" stroke="#c8385a" stroke-width="0.9"/>
<line x1="213.05" y1="166.70" x2="217.45" y2="166.70" stroke="#c8385a" stroke-width="0.9"/>
<line x1="213.05" y1="188.70" x2="217.45" y2="188.70" stroke="#c8385a" stroke-width="0.9"/>
<rect x="222.70" y="177.99" width="9.30" height="27.21" fill="#7d89bb"/>
<circle cx="224.35" cy="173.36" r="1.5" fill="#0f1f55"/>
<circle cx="226.35" cy="172.78" r="1.5" fill="#0f1f55"/>
<circle cx="228.85" cy="172.20" r="1.5" fill="#0f1f55"/>
<circle cx="230.35" cy="173.93" r="1.5" fill="#0f1f55"/>
<circle cx="227.35" cy="179.72" r="1.5" fill="#0f1f55"/>
<circle cx="226.35" cy="183.20" r="1.5" fill="#0f1f55"/>
<circle cx="227.85" cy="191.30" r="1.5" fill="#0f1f55"/>
<line x1="227.35" y1="185.51" x2="227.35" y2="170.46" stroke="#3d56a6" stroke-width="0.9"/>
<line x1="225.15" y1="170.46" x2="229.55" y2="170.46" stroke="#3d56a6" stroke-width="0.9"/>
<line x1="225.15" y1="185.51" x2="229.55" y2="185.51" stroke="#3d56a6" stroke-width="0.9"/>
<rect x="233.30" y="169.30" width="9.70" height="35.90" fill="#e2aa9c"/>
<circle cx="238.15" cy="160.62" r="1.5" fill="#7a0f24"/>
<circle cx="236.15" cy="163.51" r="1.5" fill="#7a0f24"/>
<circle cx="240.15" cy="164.09" r="1.5" fill="#7a0f24"/>
<circle cx="235.15" cy="168.72" r="1.5" fill="#7a0f24"/>
<circle cx="237.15" cy="170.46" r="1.5" fill="#7a0f24"/>
<circle cx="239.15" cy="171.04" r="1.5" fill="#7a0f24"/>
<circle cx="241.15" cy="169.88" r="1.5" fill="#7a0f24"/>
<line x1="238.15" y1="176.83" x2="238.15" y2="161.78" stroke="#c8385a" stroke-width="0.9"/>
<line x1="235.95" y1="161.78" x2="240.35" y2="161.78" stroke="#c8385a" stroke-width="0.9"/>
<line x1="235.95" y1="176.83" x2="240.35" y2="176.83" stroke="#c8385a" stroke-width="0.9"/>
<line x1="197.70" y1="205.20" x2="197.70" y2="208.20" stroke="#231f20" stroke-width="0.9"/>
<line x1="221.30" y1="205.20" x2="221.30" y2="208.20" stroke="#231f20" stroke-width="0.9"/>
<path d="M181.1,182.4 L181.1,180.6 L192.7,180.6 L192.7,182.4" fill="none" stroke="#231f20" stroke-width="0.8"/>
<path d="M204.0,161.0 L204.0,159.2 L215.4,159.2 L215.4,161.0" fill="none" stroke="#231f20" stroke-width="0.8"/>
<path d="M226.9,157.20000000000002 L226.9,155.4 L238.0,155.4 L238.0,157.20000000000002" fill="none" stroke="#231f20" stroke-width="0.8"/>
<text x="184.90" y="179.40" font-size="5.8" font-weight="normal" fill="#231f20" stroke="#231f20" stroke-width="0.15" textLength="4.00" lengthAdjust="spacingAndGlyphs">**</text>
<text x="207.90" y="158.10" font-size="5.8" font-weight="normal" fill="#231f20" stroke="#231f20" stroke-width="0.15" textLength="4.00" lengthAdjust="spacingAndGlyphs">**</text>
<text x="222.70" y="153.60" font-size="5.1" font-weight="normal" fill="#333" stroke="#333" stroke-width="0.12" textLength="19.70" lengthAdjust="spacingAndGlyphs">P=0.051</text>
<text x="179.40" y="217.20" font-size="6.5" font-weight="normal" fill="#231f20" stroke="#231f20" stroke-width="0.15" textLength="14.80" lengthAdjust="spacingAndGlyphs">5 mil.</text>
<text x="200.90" y="217.20" font-size="6.5" font-weight="normal" fill="#231f20" stroke="#231f20" stroke-width="0.15" textLength="18.20" lengthAdjust="spacingAndGlyphs">10 mil.</text>
<text x="223.10" y="217.20" font-size="6.5" font-weight="normal" fill="#231f20" stroke="#231f20" stroke-width="0.15" textLength="18.90" lengthAdjust="spacingAndGlyphs">20 mil.</text>
<text x="179.80" y="229.00" font-size="9.0" font-weight="normal" fill="#231f20" stroke="#231f20" stroke-width="0.15" textLength="60.10" lengthAdjust="spacingAndGlyphs">No. of T cells infused</text>
<rect x="177.80" y="241.60" width="3.30" height="3.00" fill="#7d89bb"/>
<text x="184.40" y="244.80" font-size="5.4" font-weight="normal" fill="#3a3a3a" stroke="#3a3a3a" stroke-width="0.12" textLength="10.70" lengthAdjust="spacingAndGlyphs">CAR</text>
<rect x="204.50" y="241.60" width="3.30" height="3.00" fill="#e2aa9c"/>
<text x="211.20" y="244.80" font-size="5.4" font-weight="normal" fill="#3a3a3a" stroke="#3a3a3a" stroke-width="0.12" textLength="31.70" lengthAdjust="spacingAndGlyphs">EpoRm- CAR</text>
<text transform="translate(153.30,206.30) rotate(-90)" x="0" y="0" font-size="8.6" fill="#231f20" stroke="#231f20" stroke-width="0.15" textLength="64.60" lengthAdjust="spacingAndGlyphs">%hCD45+ GFP+cells</text>
<line x1="460.30" y1="307.40" x2="460.30" y2="368.90" stroke="#231f20" stroke-width="1.3"/>
<line x1="459.70" y1="368.30" x2="486.90" y2="368.30" stroke="#231f20" stroke-width="1.3"/>
<line x1="456.80" y1="368.30" x2="460.30" y2="368.30" stroke="#231f20" stroke-width="0.9"/>
<text x="450.70" y="370.50" font-size="7.0" font-weight="normal" fill="#231f20" stroke="#231f20" stroke-width="0.15" textLength="3.10" lengthAdjust="spacingAndGlyphs">0</text>
<line x1="456.80" y1="356.66" x2="460.30" y2="356.66" stroke="#231f20" stroke-width="0.9"/>
<text x="447.60" y="358.86" font-size="7.0" font-weight="normal" fill="#231f20" stroke="#231f20" stroke-width="0.15" textLength="6.20" lengthAdjust="spacingAndGlyphs">20</text>
<line x1="456.80" y1="345.02" x2="460.30" y2="345.02" stroke="#231f20" stroke-width="0.9"/>
<text x="447.60" y="347.22" font-size="7.0" font-weight="normal" fill="#231f20" stroke="#231f20" stroke-width="0.15" textLength="6.20" lengthAdjust="spacingAndGlyphs">40</text>
<line x1="456.80" y1="333.38" x2="460.30" y2="333.38" stroke="#231f20" stroke-width="0.9"/>
<text x="447.60" y="335.58" font-size="7.0" font-weight="normal" fill="#231f20" stroke="#231f20" stroke-width="0.15" textLength="6.20" lengthAdjust="spacingAndGlyphs">60</text>
<line x1="456.80" y1="321.74" x2="460.30" y2="321.74" stroke="#231f20" stroke-width="0.9"/>
<text x="447.60" y="323.94" font-size="7.0" font-weight="normal" fill="#231f20" stroke="#231f20" stroke-width="0.15" textLength="6.20" lengthAdjust="spacingAndGlyphs">80</text>
<line x1="456.80" y1="310.10" x2="460.30" y2="310.10" stroke="#231f20" stroke-width="0.9"/>
<text x="444.50" y="312.30" font-size="7.0" font-weight="normal" fill="#231f20" stroke="#231f20" stroke-width="0.15" textLength="9.30" lengthAdjust="spacingAndGlyphs">100</text>
<rect x="463.00" y="359.86" width="9.80" height="8.44" fill="#7d89bb"/>
<rect x="474.10" y="346.77" width="9.70" height="21.53" fill="#e2aa9c"/>
<circle cx="467.70" cy="346.18" r="1.5" fill="#0f1f55"/>
<circle cx="467.70" cy="356.66" r="1.5" fill="#0f1f55"/>
<circle cx="464.90" cy="360.15" r="1.5" fill="#0f1f55"/>
<circle cx="470.40" cy="360.44" r="1.5" fill="#0f1f55"/>
<circle cx="464.40" cy="363.06" r="1.5" fill="#0f1f55"/>
<circle cx="467.90" cy="363.64" r="1.5" fill="#0f1f55"/>
<circle cx="471.40" cy="363.06" r="1.5" fill="#0f1f55"/>
<circle cx="466.40" cy="364.81" r="1.5" fill="#0f1f55"/>
<circle cx="469.40" cy="365.10" r="1.5" fill="#0f1f55"/>
<circle cx="478.95" cy="333.38" r="1.5" fill="#7a0f24"/>
<circle cx="478.95" cy="338.04" r="1.5" fill="#7a0f24"/>
<circle cx="478.95" cy="342.11" r="1.5" fill="#7a0f24"/>
<circle cx="476.65" cy="349.09" r="1.5" fill="#7a0f24"/>
<circle cx="481.35" cy="349.68" r="1.5" fill="#7a0f24"/>
<circle cx="478.95" cy="351.42" r="1.5" fill="#7a0f24"/>
<circle cx="478.95" cy="356.08" r="1.5" fill="#7a0f24"/>
<line x1="467.90" y1="359.86" x2="467.90" y2="353.17" stroke="#3d56a6" stroke-width="0.9"/>
<line x1="465.60" y1="353.17" x2="470.20" y2="353.17" stroke="#3d56a6" stroke-width="0.9"/>
<line x1="478.95" y1="355.50" x2="478.95" y2="338.04" stroke="#c8385a" stroke-width="0.9"/>
<line x1="476.65" y1="338.04" x2="481.25" y2="338.04" stroke="#c8385a" stroke-width="0.9"/>
<line x1="476.65" y1="355.50" x2="481.25" y2="355.50" stroke="#c8385a" stroke-width="0.9"/>
<path d="M467,328.3 L467,326.5 L479.4,326.5 L479.4,328.3" fill="none" stroke="#231f20" stroke-width="0.8"/>
<text x="471.20" y="325.10" font-size="5.8" font-weight="normal" fill="#231f20" stroke="#231f20" stroke-width="0.15" textLength="4.00" lengthAdjust="spacingAndGlyphs">**</text>
<text transform="translate(438.80,369.10) rotate(-90)" x="0" y="0" font-size="8.6" fill="#231f20" stroke="#231f20" stroke-width="0.15" textLength="63.70" lengthAdjust="spacingAndGlyphs">%hCD45+ GFP+cells</text>
<rect x="454.20" y="378.30" width="4.00" height="3.60" fill="#7d89bb"/>
<text x="461.20" y="382.00" font-size="5.6" font-weight="normal" fill="#3a3a3a" stroke="#3a3a3a" stroke-width="0.12" textLength="11.10" lengthAdjust="spacingAndGlyphs">CAR</text>
<rect x="454.20" y="387.20" width="4.00" height="3.60" fill="#e2aa9c"/>
<text x="461.20" y="390.90" font-size="5.6" font-weight="normal" fill="#3a3a3a" stroke="#3a3a3a" stroke-width="0.12" textLength="29.60" lengthAdjust="spacingAndGlyphs">EpoRm-CAR</text>
<text x="7.80" y="16.50" font-size="11" font-weight="bold" fill="#000" stroke="#000" stroke-width="0.35" textLength="8.20" lengthAdjust="spacingAndGlyphs">A</text>
<text x="145.80" y="16.30" font-size="11" font-weight="bold" fill="#000" stroke="#000" stroke-width="0.35" textLength="6.90" lengthAdjust="spacingAndGlyphs">B</text>
<text x="331.00" y="17.00" font-size="11" font-weight="bold" fill="#000" stroke="#000" stroke-width="0.35" textLength="7.00" lengthAdjust="spacingAndGlyphs">C</text>
<text x="147.10" y="137.90" font-size="11" font-weight="bold" fill="#000" stroke="#000" stroke-width="0.35" textLength="8.50" lengthAdjust="spacingAndGlyphs">D</text>
<text x="260.80" y="136.70" font-size="11" font-weight="bold" fill="#000" stroke="#000" stroke-width="0.35" textLength="7.50" lengthAdjust="spacingAndGlyphs">E</text>
<text x="8.75" y="292.00" font-size="11" font-weight="bold" fill="#000" stroke="#000" stroke-width="0.35" textLength="5.75" lengthAdjust="spacingAndGlyphs">F</text>
<text x="244.20" y="292.10" font-size="11" font-weight="bold" fill="#000" stroke="#000" stroke-width="0.35" textLength="9.00" lengthAdjust="spacingAndGlyphs">G</text>
<text x="431.40" y="292.00" font-size="11" font-weight="bold" fill="#000" stroke="#000" stroke-width="0.35" textLength="8.20" lengthAdjust="spacingAndGlyphs">H</text></svg>
</body></html>
